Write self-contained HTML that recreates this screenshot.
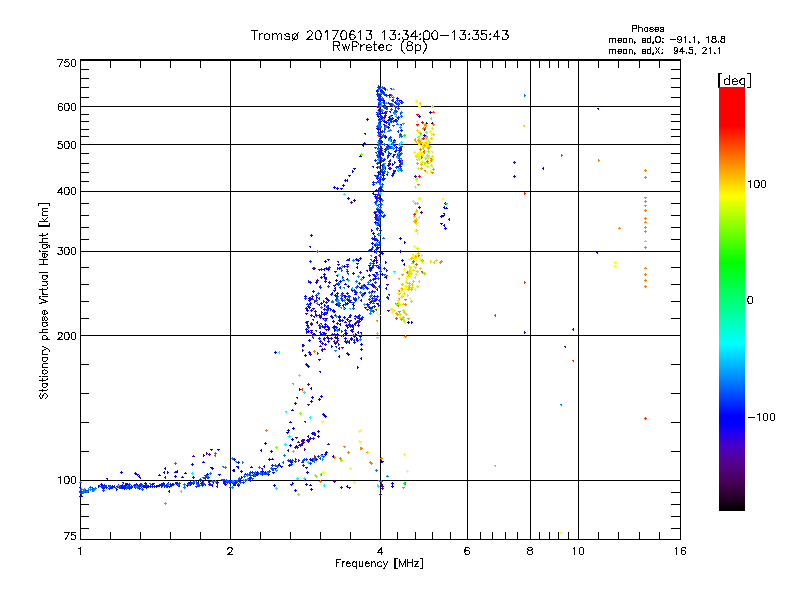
<!DOCTYPE html>
<html><head><meta charset="utf-8"><title>Tromsø 20170613 13:34:00-13:35:43 RwPretec (8p)</title>
<style>
html,body{margin:0;padding:0;background:#fff;}
body{width:800px;height:600px;position:relative;overflow:hidden;font-family:"Liberation Sans",sans-serif;}
.t{position:absolute;white-space:pre;line-height:1;color:transparent;font-family:"Liberation Sans",sans-serif;}
</style></head><body>
<svg width="800" height="600" viewBox="0 0 800 600" style="position:absolute;left:0;top:0">
<rect width="800" height="600" fill="#fff"/>
<path id="axes" fill="#000" shape-rendering="crispEdges" d="M80 59h601v1h-601zM80 60h601v1h-601zM80 539h601v1h-601zM80 59h1v481h-1zM680 59h1v481h-1zM230 59h1v481h-1zM380 59h1v481h-1zM467 59h1v481h-1zM530 59h1v481h-1zM578 59h1v481h-1zM80 480h601v1h-601zM80 335h601v1h-601zM80 251h601v1h-601zM80 191h601v1h-601zM80 144h601v1h-601zM80 106h601v1h-601zM110 60h1v8h-1zM110 532h1v8h-1zM140 60h1v8h-1zM140 532h1v8h-1zM170 60h1v8h-1zM170 532h1v8h-1zM200 60h1v8h-1zM200 532h1v8h-1zM260 60h1v8h-1zM260 532h1v8h-1zM290 60h1v8h-1zM290 532h1v8h-1zM320 60h1v8h-1zM320 532h1v8h-1zM350 60h1v8h-1zM350 532h1v8h-1zM397 60h1v8h-1zM397 532h1v8h-1zM415 60h1v8h-1zM415 532h1v8h-1zM432 60h1v8h-1zM432 532h1v8h-1zM450 60h1v8h-1zM450 532h1v8h-1zM480 60h1v8h-1zM480 532h1v8h-1zM492 60h1v8h-1zM492 532h1v8h-1zM505 60h1v8h-1zM505 532h1v8h-1zM517 60h1v8h-1zM517 532h1v8h-1zM539 60h1v8h-1zM539 532h1v8h-1zM549 60h1v8h-1zM549 532h1v8h-1zM558 60h1v8h-1zM558 532h1v8h-1zM568 60h1v8h-1zM568 532h1v8h-1zM598 60h1v8h-1zM598 532h1v8h-1zM618 60h1v8h-1zM618 532h1v8h-1zM639 60h1v8h-1zM639 532h1v8h-1zM659 60h1v8h-1zM659 532h1v8h-1zM80 528h9v1h-9zM671 528h10v1h-10zM80 516h9v1h-9zM671 516h10v1h-10zM80 504h9v1h-9zM671 504h10v1h-10zM80 492h9v1h-9zM671 492h10v1h-10zM80 451h9v1h-9zM671 451h10v1h-10zM80 422h9v1h-9zM671 422h10v1h-10zM80 393h9v1h-9zM671 393h10v1h-10zM80 364h9v1h-9zM671 364h10v1h-10zM80 318h9v1h-9zM671 318h10v1h-10zM80 301h9v1h-9zM671 301h10v1h-10zM80 284h9v1h-9zM671 284h10v1h-10zM80 267h9v1h-9zM671 267h10v1h-10zM80 239h9v1h-9zM671 239h10v1h-10zM80 227h9v1h-9zM671 227h10v1h-10zM80 215h9v1h-9zM671 215h10v1h-10zM80 203h9v1h-9zM671 203h10v1h-10zM80 181h9v1h-9zM671 181h10v1h-10zM80 172h9v1h-9zM671 172h10v1h-10zM80 163h9v1h-9zM671 163h10v1h-10zM80 153h9v1h-9zM671 153h10v1h-10zM80 136h9v1h-9zM671 136h10v1h-10zM80 129h9v1h-9zM671 129h10v1h-10zM80 121h9v1h-9zM671 121h10v1h-10zM80 114h9v1h-9zM671 114h10v1h-10zM80 97h9v1h-9zM671 97h10v1h-10zM80 87h9v1h-9zM671 87h10v1h-10zM80 78h9v1h-9zM671 78h10v1h-10zM80 69h9v1h-9zM671 69h10v1h-10z"/>
<path id="labels" fill="none" stroke="#000" stroke-width="1" stroke-linecap="square" shape-rendering="crispEdges" d="M254.5 30.5 254.5 39.5M251.5 30.5 257.5 30.5M259.5 33.5 259.5 39.5M259.5 36.5 259.5 34.5 260.5 34.5 261.5 33.5 262.5 33.5M266.5 33.5 265.5 34.5 264.5 34.5 264.5 36.5 264.5 38.5 265.5 39.5 266.5 39.5 267.5 39.5 268.5 39.5 269.5 38.5 269.5 36.5 269.5 34.5 268.5 34.5 267.5 33.5 266.5 33.5M272.5 33.5 272.5 39.5M272.5 35.5 273.5 34.5 274.5 33.5 276.5 33.5 276.5 34.5 277.5 35.5 277.5 39.5M277.5 35.5 278.5 34.5 279.5 33.5 280.5 33.5 281.5 34.5 281.5 35.5 281.5 39.5M289.5 34.5 287.5 33.5 286.5 33.5 285.5 34.5 284.5 34.5 285.5 35.5 286.5 36.5 288.5 36.5 289.5 36.5 289.5 37.5 289.5 38.5 289.5 39.5 287.5 39.5 286.5 39.5 285.5 39.5 284.5 38.5M294.5 33.5 293.5 34.5 292.5 34.5 292.5 36.5 292.5 38.5 293.5 39.5 294.5 39.5 295.5 39.5 296.5 39.5 297.5 38.5 297.5 36.5 297.5 34.5 296.5 34.5 295.5 33.5 294.5 33.5M292.5 40.5 298.5 32.5M307.5 32.5 307.5 31.5 308.5 31.5 309.5 30.5 310.5 30.5 311.5 31.5 312.5 32.5 312.5 33.5 311.5 34.5 311.5 35.5 306.5 39.5 312.5 39.5M317.5 30.5 316.5 31.5 315.5 32.5 315.5 34.5 315.5 35.5 315.5 37.5 316.5 39.5 317.5 39.5 318.5 39.5 320.5 39.5 320.5 37.5 321.5 35.5 321.5 34.5 320.5 32.5 320.5 31.5 318.5 30.5 317.5 30.5M325.5 32.5 325.5 31.5 327.5 30.5 327.5 39.5M338.5 30.5 333.5 39.5M332.5 30.5 338.5 30.5M343.5 30.5 341.5 31.5 341.5 32.5 340.5 34.5 340.5 35.5 341.5 37.5 341.5 39.5 343.5 39.5 344.5 39.5 345.5 39.5 346.5 37.5 346.5 35.5 346.5 34.5 346.5 32.5 345.5 31.5 344.5 30.5 343.5 30.5M354.5 31.5 352.5 30.5 350.5 31.5 350.5 32.5 349.5 34.5 349.5 36.5 350.5 38.5 350.5 39.5 352.5 39.5 353.5 39.5 354.5 38.5 355.5 36.5 354.5 35.5 353.5 34.5 352.5 34.5 350.5 34.5 350.5 35.5 349.5 36.5M358.5 32.5 359.5 31.5 360.5 30.5 360.5 39.5M366.5 30.5 371.5 30.5 369.5 34.5 370.5 34.5 371.5 34.5 371.5 36.5 371.5 38.5 370.5 39.5 369.5 39.5 368.5 39.5 366.5 39.5 366.5 38.5 366.5 37.5M382.5 32.5 383.5 31.5 384.5 30.5 384.5 39.5M390.5 30.5 395.5 30.5 392.5 34.5 393.5 34.5 394.5 34.5 395.5 34.5 395.5 36.5 395.5 38.5 394.5 39.5 393.5 39.5 391.5 39.5 390.5 39.5 390.5 38.5 389.5 37.5M399.5 33.5 398.5 34.5 399.5 34.5 399.5 33.5M399.5 38.5 398.5 39.5 399.5 39.5 399.5 38.5M403.5 30.5 407.5 30.5 405.5 34.5 406.5 34.5 407.5 34.5 408.5 36.5 407.5 38.5 407.5 39.5 405.5 39.5 404.5 39.5 403.5 39.5 402.5 38.5 402.5 37.5M415.5 30.5 410.5 36.5 417.5 36.5M415.5 30.5 415.5 39.5M420.5 33.5 419.5 34.5 420.5 34.5 420.5 33.5M420.5 38.5 419.5 39.5 420.5 39.5 420.5 38.5M426.5 30.5 424.5 31.5 423.5 32.5 423.5 34.5 423.5 35.5 423.5 37.5 424.5 39.5 426.5 39.5 428.5 39.5 429.5 37.5 429.5 35.5 429.5 34.5 429.5 32.5 428.5 31.5 426.5 30.5M434.5 30.5 433.5 31.5 432.5 32.5 431.5 34.5 431.5 35.5 432.5 37.5 433.5 39.5 434.5 39.5 435.5 39.5 436.5 39.5 437.5 37.5 437.5 35.5 437.5 34.5 437.5 32.5 436.5 31.5 435.5 30.5 434.5 30.5M440.5 35.5 448.5 35.5M452.5 32.5 453.5 31.5 454.5 30.5 454.5 39.5M460.5 30.5 465.5 30.5 462.5 34.5 464.5 34.5 465.5 34.5 465.5 36.5 465.5 38.5 464.5 39.5 463.5 39.5 461.5 39.5 460.5 39.5 460.5 38.5 459.5 37.5M469.5 33.5 468.5 34.5 469.5 34.5 469.5 33.5M469.5 38.5 468.5 39.5 469.5 39.5 469.5 38.5M473.5 30.5 478.5 30.5 475.5 34.5 476.5 34.5 477.5 34.5 478.5 34.5 478.5 36.5 478.5 38.5 477.5 39.5 475.5 39.5 474.5 39.5 473.5 39.5 472.5 38.5 472.5 37.5M486.5 30.5 481.5 30.5 481.5 34.5 483.5 33.5 484.5 33.5 485.5 34.5 486.5 34.5 486.5 36.5 486.5 38.5 485.5 39.5 484.5 39.5 483.5 39.5 481.5 39.5 481.5 38.5 480.5 37.5M490.5 33.5 489.5 34.5 490.5 34.5 490.5 33.5M490.5 38.5 489.5 39.5 490.5 39.5 490.5 38.5M497.5 30.5 493.5 36.5 499.5 36.5M497.5 30.5 497.5 39.5M502.5 30.5 507.5 30.5 505.5 34.5 506.5 34.5 507.5 34.5 508.5 36.5 507.5 38.5 506.5 39.5 505.5 39.5 504.5 39.5 502.5 39.5 502.5 38.5 502.5 37.5M333.5 41.5 333.5 50.5M333.5 41.5 337.5 41.5 339.5 42.5 339.5 43.5 339.5 44.5 339.5 45.5 337.5 45.5 333.5 45.5M336.5 45.5 339.5 50.5M342.5 44.5 344.5 50.5M345.5 44.5 344.5 50.5M345.5 44.5 347.5 50.5M349.5 44.5 347.5 50.5M352.5 41.5 352.5 50.5M352.5 41.5 355.5 41.5 357.5 42.5 358.5 43.5 358.5 44.5 357.5 45.5 355.5 46.5 352.5 46.5M360.5 44.5 360.5 50.5M360.5 47.5 361.5 45.5 362.5 45.5 363.5 44.5 364.5 44.5M366.5 47.5 371.5 47.5 371.5 46.5 370.5 45.5 369.5 44.5 368.5 44.5 367.5 45.5 366.5 45.5 366.5 47.5 366.5 49.5 367.5 50.5 368.5 50.5 369.5 50.5 370.5 50.5 371.5 49.5M374.5 41.5 374.5 48.5 374.5 50.5 375.5 50.5 376.5 50.5M373.5 44.5 376.5 44.5M378.5 47.5 383.5 47.5 383.5 46.5 383.5 45.5 382.5 45.5 382.5 44.5 380.5 44.5 380.5 45.5 379.5 45.5 378.5 47.5 379.5 49.5 380.5 50.5 382.5 50.5 383.5 49.5M391.5 45.5 390.5 45.5 389.5 44.5 388.5 44.5 387.5 45.5 386.5 45.5 386.5 47.5 386.5 49.5 387.5 50.5 388.5 50.5 389.5 50.5 390.5 50.5 391.5 49.5M404.5 39.5 403.5 40.5 402.5 42.5 401.5 43.5 401.5 45.5 401.5 47.5 401.5 49.5 402.5 51.5 403.5 52.5 404.5 53.5M408.5 41.5 407.5 42.5 407.5 43.5 407.5 44.5 408.5 45.5 409.5 45.5 411.5 45.5 412.5 46.5 412.5 47.5 412.5 48.5 412.5 49.5 411.5 50.5 410.5 50.5 408.5 50.5 407.5 50.5 407.5 49.5 406.5 48.5 406.5 47.5 407.5 46.5 407.5 45.5 409.5 45.5 410.5 45.5 411.5 44.5 412.5 43.5 412.5 42.5 411.5 42.5 410.5 41.5 408.5 41.5M415.5 44.5 415.5 53.5M415.5 45.5 416.5 45.5 417.5 44.5 418.5 44.5 419.5 45.5 420.5 45.5 420.5 47.5 420.5 49.5 419.5 50.5 418.5 50.5 417.5 50.5 416.5 50.5 415.5 49.5M423.5 39.5 423.5 40.5 424.5 42.5 425.5 43.5 426.5 45.5 426.5 47.5 425.5 49.5 424.5 51.5 423.5 52.5 423.5 53.5M632.5 25.5 632.5 31.5M632.5 25.5 635.5 25.5 636.5 25.5 636.5 26.5 636.5 27.5 636.5 28.5 635.5 28.5 632.5 28.5M638.5 25.5 638.5 31.5M638.5 28.5 639.5 27.5 640.5 27.5 641.5 27.5 642.5 28.5 642.5 31.5M647.5 27.5 647.5 31.5M647.5 28.5 647.5 27.5 646.5 27.5 645.5 27.5 644.5 28.5 644.5 29.5 644.5 30.5 645.5 31.5 646.5 31.5 647.5 31.5 647.5 30.5M653.5 28.5 652.5 27.5 651.5 27.5 650.5 27.5 649.5 28.5 650.5 28.5 650.5 29.5 652.5 29.5 653.5 30.5 652.5 31.5 651.5 31.5 650.5 31.5 649.5 30.5M654.5 29.5 658.5 29.5 658.5 28.5 658.5 27.5 657.5 27.5 656.5 27.5 655.5 27.5 655.5 28.5 654.5 29.5 655.5 30.5 655.5 31.5 656.5 31.5 657.5 31.5 658.5 30.5M663.5 28.5 663.5 27.5 662.5 27.5 661.5 27.5 660.5 27.5 660.5 28.5 661.5 29.5 662.5 29.5 663.5 29.5 663.5 30.5 663.5 31.5 662.5 31.5 661.5 31.5 660.5 31.5 660.5 30.5M609.5 38.5 609.5 42.5M609.5 39.5 610.5 38.5 611.5 38.5 612.5 38.5 612.5 39.5 612.5 42.5M612.5 39.5 613.5 38.5 614.5 38.5 615.5 38.5 615.5 39.5 615.5 42.5M617.5 40.5 621.5 40.5 621.5 39.5 621.5 38.5 620.5 38.5 619.5 38.5 618.5 38.5 618.5 39.5 617.5 40.5 618.5 41.5 618.5 42.5 619.5 42.5 620.5 42.5 621.5 41.5M626.5 38.5 626.5 42.5M626.5 39.5 626.5 38.5 625.5 38.5 624.5 38.5 623.5 38.5 623.5 39.5 623.5 40.5 623.5 41.5 623.5 42.5 624.5 42.5 625.5 42.5 626.5 42.5 626.5 41.5M629.5 38.5 629.5 42.5M629.5 39.5 629.5 38.5 630.5 38.5 631.5 38.5 632.5 39.5 632.5 42.5M635.5 42.5 634.5 42.5 634.5 41.5 635.5 42.5 634.5 43.5M645.5 39.5 645.5 38.5 644.5 38.5 643.5 38.5 642.5 38.5 642.5 39.5 642.5 40.5 644.5 40.5 645.5 40.5 645.5 41.5 645.5 42.5 644.5 42.5 643.5 42.5 642.5 42.5 642.5 41.5M650.5 36.5 650.5 42.5M650.5 39.5 650.5 38.5 649.5 38.5 648.5 38.5 647.5 38.5 647.5 39.5 647.5 40.5 647.5 41.5 647.5 42.5 648.5 42.5 649.5 42.5 650.5 42.5 650.5 41.5M653.5 42.5 652.5 42.5 653.5 41.5 653.5 42.5 653.5 43.5 652.5 43.5M657.5 36.5 656.5 36.5 656.5 37.5 655.5 37.5 655.5 38.5 655.5 40.5 655.5 41.5 656.5 41.5 656.5 42.5 657.5 42.5 658.5 42.5 659.5 42.5 659.5 41.5 660.5 41.5 660.5 40.5 660.5 38.5 660.5 37.5 659.5 37.5 659.5 36.5 658.5 36.5 657.5 36.5M662.5 38.5 663.5 38.5 662.5 38.5M662.5 41.5 662.5 42.5 663.5 42.5 662.5 41.5M670.5 39.5 675.5 39.5M681.5 38.5 681.5 39.5 680.5 39.5 679.5 40.5 678.5 39.5 677.5 39.5 677.5 38.5 677.5 37.5 678.5 36.5 679.5 36.5 680.5 36.5 681.5 37.5 681.5 38.5 681.5 39.5 681.5 41.5 680.5 42.5 679.5 42.5 678.5 42.5 677.5 41.5M684.5 37.5 685.5 36.5 685.5 42.5M689.5 41.5 689.5 42.5 690.5 42.5 689.5 41.5M693.5 37.5 694.5 36.5 694.5 42.5M699.5 42.5 698.5 42.5 698.5 41.5 699.5 42.5 698.5 43.5M706.5 37.5 707.5 37.5 708.5 36.5 708.5 42.5M713.5 36.5 712.5 36.5 712.5 37.5 712.5 38.5 713.5 38.5 714.5 38.5 715.5 39.5 716.5 40.5 716.5 41.5 715.5 41.5 715.5 42.5 714.5 42.5 713.5 42.5 712.5 42.5 712.5 41.5 711.5 41.5 711.5 40.5 712.5 39.5 713.5 38.5 714.5 38.5 715.5 38.5 715.5 37.5 715.5 36.5 714.5 36.5 713.5 36.5M718.5 41.5 718.5 42.5 718.5 41.5M722.5 36.5 721.5 36.5 721.5 37.5 721.5 38.5 723.5 38.5 724.5 39.5 724.5 40.5 724.5 41.5 724.5 42.5 723.5 42.5 722.5 42.5 721.5 42.5 721.5 41.5 720.5 41.5 720.5 40.5 721.5 39.5 722.5 38.5 723.5 38.5 724.5 38.5 724.5 37.5 724.5 36.5 723.5 36.5 722.5 36.5M609.5 49.5 609.5 53.5M609.5 50.5 610.5 49.5 611.5 49.5 612.5 49.5 612.5 50.5 612.5 53.5M612.5 50.5 613.5 49.5 614.5 49.5 615.5 49.5 615.5 50.5 615.5 53.5M617.5 51.5 621.5 51.5 621.5 50.5 621.5 49.5 620.5 49.5 619.5 49.5 618.5 49.5 618.5 50.5 617.5 51.5 618.5 52.5 618.5 53.5 619.5 53.5 620.5 53.5 621.5 52.5M626.5 49.5 626.5 53.5M626.5 50.5 626.5 49.5 625.5 49.5 624.5 49.5 623.5 49.5 623.5 50.5 623.5 51.5 623.5 52.5 623.5 53.5 624.5 53.5 625.5 53.5 626.5 53.5 626.5 52.5M629.5 49.5 629.5 53.5M629.5 50.5 629.5 49.5 630.5 49.5 631.5 49.5 632.5 50.5 632.5 53.5M635.5 53.5 634.5 53.5 634.5 52.5 635.5 53.5 634.5 54.5M645.5 50.5 645.5 49.5 644.5 49.5 643.5 49.5 642.5 49.5 642.5 50.5 642.5 51.5 644.5 51.5 645.5 51.5 645.5 52.5 645.5 53.5 644.5 53.5 643.5 53.5 642.5 53.5 642.5 52.5M650.5 47.5 650.5 53.5M650.5 50.5 650.5 49.5 649.5 49.5 648.5 49.5 647.5 49.5 647.5 50.5 647.5 51.5 647.5 52.5 647.5 53.5 648.5 53.5 649.5 53.5 650.5 53.5 650.5 52.5M653.5 53.5 652.5 53.5 653.5 52.5 653.5 53.5 653.5 54.5 652.5 54.5M655.5 47.5 659.5 53.5M655.5 53.5 659.5 47.5M662.5 49.5 661.5 49.5 662.5 49.5M662.5 52.5 661.5 53.5 662.5 53.5 662.5 52.5M677.5 49.5 677.5 50.5 676.5 50.5 676.5 51.5 675.5 51.5 674.5 50.5 674.5 49.5 674.5 48.5 674.5 47.5 675.5 47.5 676.5 47.5 677.5 48.5 677.5 49.5 677.5 50.5 677.5 52.5 676.5 53.5 675.5 53.5 674.5 53.5 674.5 52.5M682.5 47.5 679.5 51.5 684.5 51.5M682.5 47.5 682.5 53.5M686.5 52.5 686.5 53.5 686.5 52.5M692.5 47.5 689.5 47.5 689.5 49.5 690.5 49.5 691.5 49.5 692.5 49.5 692.5 50.5 692.5 51.5 692.5 52.5 692.5 53.5 691.5 53.5 690.5 53.5 689.5 53.5 689.5 52.5 688.5 52.5M695.5 53.5 695.5 52.5 695.5 53.5 695.5 54.5M702.5 48.5 703.5 47.5 705.5 47.5 706.5 48.5 706.5 49.5 705.5 49.5 705.5 50.5 702.5 53.5 706.5 53.5M709.5 48.5 710.5 47.5 710.5 53.5M714.5 52.5 714.5 53.5 715.5 53.5 714.5 52.5M718.5 48.5 719.5 47.5 719.5 53.5M718.5 73.5 718.5 87.5M718.5 73.5 721.5 73.5M718.5 87.5 721.5 87.5M719.5 73.5 719.5 87.5M729.5 75.5 729.5 84.5M729.5 79.5 728.5 79.5 727.5 78.5 726.5 78.5 725.5 79.5 724.5 79.5 724.5 81.5 724.5 83.5 725.5 84.5 726.5 84.5 727.5 84.5 728.5 84.5 729.5 83.5M732.5 81.5 737.5 81.5 737.5 80.5 736.5 79.5 735.5 78.5 734.5 78.5 733.5 79.5 732.5 79.5 732.5 81.5 732.5 83.5 733.5 84.5 734.5 84.5 735.5 84.5 736.5 84.5 737.5 83.5M744.5 78.5 744.5 85.5 744.5 86.5 744.5 87.5 743.5 87.5 741.5 87.5M744.5 79.5 743.5 78.5 741.5 78.5 741.5 79.5 740.5 79.5 739.5 81.5 740.5 83.5 741.5 84.5 743.5 84.5 744.5 84.5 744.5 83.5M750.5 73.5 750.5 87.5M747.5 73.5 750.5 73.5M747.5 87.5 750.5 87.5M750.5 73.5 750.5 87.5M748.5 181.5 749.5 181.5 750.5 180.5 750.5 187.5M756.5 180.5 755.5 180.5 754.5 181.5 754.5 183.5 754.5 184.5 754.5 186.5 755.5 187.5 756.5 187.5 757.5 187.5 758.5 187.5 758.5 186.5 759.5 184.5 759.5 183.5 758.5 181.5 758.5 180.5 757.5 180.5 756.5 180.5M763.5 180.5 762.5 180.5 761.5 181.5 761.5 183.5 761.5 184.5 761.5 186.5 762.5 187.5 763.5 187.5 764.5 187.5 765.5 186.5 765.5 184.5 765.5 183.5 765.5 181.5 764.5 180.5 763.5 180.5M749.5 296.5 748.5 296.5 748.5 297.5 747.5 299.5 747.5 300.5 748.5 302.5 748.5 303.5 749.5 303.5 750.5 303.5 751.5 303.5 752.5 302.5 752.5 300.5 752.5 299.5 752.5 297.5 751.5 296.5 750.5 296.5 749.5 296.5M748.5 417.5 754.5 417.5M757.5 414.5 758.5 414.5 759.5 413.5 759.5 420.5M765.5 413.5 764.5 413.5 763.5 414.5 763.5 416.5 763.5 417.5 763.5 419.5 764.5 420.5 765.5 420.5 766.5 420.5 767.5 419.5 767.5 417.5 767.5 416.5 767.5 414.5 766.5 413.5 765.5 413.5M772.5 413.5 771.5 413.5 770.5 414.5 770.5 416.5 770.5 417.5 770.5 419.5 771.5 420.5 772.5 420.5 773.5 420.5 774.5 419.5 774.5 417.5 774.5 416.5 774.5 414.5 773.5 413.5 772.5 413.5M78.5 548.5 79.5 548.5 80.5 547.5 80.5 554.5M227.5 549.5 227.5 548.5 228.5 548.5 228.5 547.5 229.5 547.5 230.5 547.5 231.5 547.5 231.5 548.5 232.5 548.5 232.5 549.5 231.5 550.5 231.5 551.5 227.5 554.5 232.5 554.5M381.5 547.5 377.5 552.5 382.5 552.5M381.5 547.5 381.5 554.5M469.5 548.5 468.5 547.5 467.5 547.5 465.5 547.5 465.5 548.5 464.5 550.5 464.5 552.5 465.5 553.5 465.5 554.5 467.5 554.5 468.5 554.5 469.5 553.5 469.5 552.5 469.5 551.5 468.5 550.5 467.5 550.5 465.5 550.5 465.5 551.5 464.5 552.5M529.5 547.5 528.5 547.5 527.5 548.5 527.5 549.5 528.5 549.5 528.5 550.5 530.5 550.5 531.5 550.5 532.5 551.5 532.5 552.5 532.5 553.5 531.5 554.5 530.5 554.5 529.5 554.5 528.5 554.5 527.5 553.5 527.5 552.5 527.5 551.5 528.5 550.5 529.5 550.5 531.5 550.5 531.5 549.5 532.5 549.5 532.5 548.5 531.5 547.5 530.5 547.5 529.5 547.5M573.5 548.5 574.5 547.5 574.5 554.5M581.5 547.5 580.5 547.5 579.5 548.5 579.5 550.5 579.5 551.5 579.5 553.5 580.5 554.5 581.5 554.5 582.5 554.5 583.5 553.5 583.5 551.5 583.5 550.5 583.5 548.5 582.5 547.5 581.5 547.5M675.5 548.5 676.5 547.5 676.5 554.5M685.5 548.5 685.5 547.5 684.5 547.5 683.5 547.5 682.5 547.5 681.5 548.5 681.5 550.5 681.5 552.5 681.5 553.5 682.5 554.5 683.5 554.5 684.5 554.5 685.5 553.5 685.5 552.5 685.5 551.5 684.5 550.5 683.5 550.5 682.5 550.5 681.5 551.5 681.5 552.5M69.5 532.5 65.5 539.5M64.5 532.5 69.5 532.5M75.5 532.5 71.5 532.5 71.5 535.5 72.5 534.5 73.5 534.5 74.5 535.5 75.5 535.5 75.5 536.5 75.5 537.5 75.5 538.5 74.5 539.5 73.5 539.5 72.5 539.5 71.5 539.5 71.5 538.5M58.5 477.5 59.5 477.5 60.5 476.5 60.5 483.5M66.5 476.5 65.5 476.5 64.5 477.5 64.5 479.5 64.5 480.5 64.5 482.5 65.5 483.5 66.5 483.5 67.5 483.5 68.5 483.5 68.5 482.5 69.5 480.5 69.5 479.5 68.5 477.5 68.5 476.5 67.5 476.5 66.5 476.5M73.5 476.5 72.5 476.5 71.5 477.5 71.5 479.5 71.5 480.5 71.5 482.5 72.5 483.5 73.5 483.5 74.5 483.5 75.5 482.5 75.5 480.5 75.5 479.5 75.5 477.5 74.5 476.5 73.5 476.5M58.5 334.5 58.5 333.5 58.5 332.5 59.5 332.5 60.5 332.5 61.5 332.5 61.5 333.5 62.5 333.5 62.5 334.5 61.5 335.5 61.5 336.5 57.5 339.5 62.5 339.5M66.5 332.5 65.5 332.5 64.5 333.5 64.5 335.5 64.5 336.5 64.5 338.5 65.5 339.5 66.5 339.5 67.5 339.5 68.5 339.5 68.5 338.5 69.5 336.5 69.5 335.5 68.5 333.5 68.5 332.5 67.5 332.5 66.5 332.5M73.5 332.5 72.5 332.5 71.5 333.5 71.5 335.5 71.5 336.5 71.5 338.5 72.5 339.5 73.5 339.5 74.5 339.5 75.5 338.5 75.5 336.5 75.5 335.5 75.5 333.5 74.5 332.5 73.5 332.5M58.5 247.5 62.5 247.5 60.5 250.5 61.5 250.5 62.5 250.5 62.5 251.5 62.5 252.5 62.5 253.5 61.5 254.5 60.5 254.5 59.5 254.5 58.5 254.5 58.5 253.5 57.5 253.5M66.5 247.5 65.5 247.5 64.5 248.5 64.5 250.5 64.5 251.5 64.5 253.5 65.5 254.5 66.5 254.5 67.5 254.5 68.5 254.5 68.5 253.5 69.5 251.5 69.5 250.5 68.5 248.5 68.5 247.5 67.5 247.5 66.5 247.5M73.5 247.5 72.5 247.5 71.5 248.5 71.5 250.5 71.5 251.5 71.5 253.5 72.5 254.5 73.5 254.5 74.5 254.5 75.5 253.5 75.5 251.5 75.5 250.5 75.5 248.5 74.5 247.5 73.5 247.5M61.5 187.5 57.5 192.5 62.5 192.5M61.5 187.5 61.5 194.5M66.5 187.5 65.5 187.5 64.5 188.5 64.5 190.5 64.5 191.5 64.5 193.5 65.5 194.5 66.5 194.5 67.5 194.5 68.5 194.5 68.5 193.5 69.5 191.5 69.5 190.5 68.5 188.5 68.5 187.5 67.5 187.5 66.5 187.5M73.5 187.5 72.5 187.5 71.5 188.5 71.5 190.5 71.5 191.5 71.5 193.5 72.5 194.5 73.5 194.5 74.5 194.5 75.5 193.5 75.5 191.5 75.5 190.5 75.5 188.5 74.5 187.5 73.5 187.5M61.5 141.5 58.5 141.5 58.5 144.5 59.5 143.5 60.5 143.5 61.5 144.5 62.5 144.5 62.5 145.5 62.5 146.5 62.5 147.5 61.5 148.5 60.5 148.5 59.5 148.5 58.5 148.5 58.5 147.5 57.5 147.5M66.5 141.5 65.5 141.5 64.5 142.5 64.5 144.5 64.5 145.5 64.5 147.5 65.5 148.5 66.5 148.5 67.5 148.5 68.5 148.5 68.5 147.5 69.5 145.5 69.5 144.5 68.5 142.5 68.5 141.5 67.5 141.5 66.5 141.5M73.5 141.5 72.5 141.5 71.5 142.5 71.5 144.5 71.5 145.5 71.5 147.5 72.5 148.5 73.5 148.5 74.5 148.5 75.5 147.5 75.5 145.5 75.5 144.5 75.5 142.5 74.5 141.5 73.5 141.5M62.5 104.5 61.5 103.5 60.5 103.5 59.5 103.5 58.5 104.5 58.5 106.5 58.5 108.5 58.5 109.5 59.5 110.5 60.5 110.5 61.5 110.5 62.5 109.5 62.5 108.5 62.5 107.5 61.5 106.5 60.5 106.5 59.5 106.5 58.5 107.5 58.5 108.5M66.5 103.5 65.5 103.5 64.5 104.5 64.5 106.5 64.5 107.5 64.5 109.5 65.5 110.5 66.5 110.5 67.5 110.5 68.5 110.5 68.5 109.5 69.5 107.5 69.5 106.5 68.5 104.5 68.5 103.5 67.5 103.5 66.5 103.5M73.5 103.5 72.5 103.5 71.5 104.5 71.5 106.5 71.5 107.5 71.5 109.5 72.5 110.5 73.5 110.5 74.5 110.5 75.5 109.5 75.5 107.5 75.5 106.5 75.5 104.5 74.5 103.5 73.5 103.5M62.5 59.5 59.5 66.5M57.5 59.5 62.5 59.5M68.5 59.5 65.5 59.5 64.5 62.5 65.5 62.5 66.5 61.5 67.5 61.5 68.5 62.5 69.5 63.5 69.5 64.5 68.5 65.5 68.5 66.5 67.5 66.5 66.5 66.5 65.5 66.5 64.5 65.5M73.5 59.5 72.5 59.5 71.5 60.5 71.5 62.5 71.5 63.5 71.5 65.5 72.5 66.5 73.5 66.5 74.5 66.5 75.5 65.5 75.5 63.5 75.5 62.5 75.5 60.5 74.5 59.5 73.5 59.5M336.5 559.5 336.5 566.5M336.5 559.5 340.5 559.5M336.5 562.5 338.5 562.5M342.5 561.5 342.5 566.5M342.5 563.5 342.5 562.5 343.5 562.5 343.5 561.5 344.5 561.5M346.5 563.5 350.5 563.5 349.5 562.5 348.5 561.5 347.5 561.5 347.5 562.5 346.5 562.5 346.5 563.5 346.5 564.5 346.5 565.5 347.5 566.5 348.5 566.5 349.5 566.5 350.5 565.5M356.5 561.5 356.5 568.5M356.5 562.5 355.5 562.5 354.5 561.5 353.5 561.5 353.5 562.5 352.5 562.5 352.5 563.5 352.5 564.5 352.5 565.5 353.5 566.5 354.5 566.5 355.5 566.5 356.5 565.5M359.5 561.5 359.5 565.5 359.5 566.5 360.5 566.5 361.5 566.5 362.5 565.5M362.5 561.5 362.5 566.5M365.5 563.5 369.5 563.5 368.5 562.5 367.5 561.5 366.5 561.5 366.5 562.5 365.5 562.5 365.5 563.5 365.5 564.5 365.5 565.5 366.5 566.5 367.5 566.5 368.5 566.5 369.5 565.5M371.5 561.5 371.5 566.5M371.5 563.5 372.5 562.5 373.5 561.5 374.5 561.5 374.5 562.5 375.5 563.5 375.5 566.5M381.5 562.5 380.5 561.5 379.5 561.5 378.5 562.5 377.5 562.5 377.5 563.5 377.5 564.5 377.5 565.5 378.5 566.5 379.5 566.5 380.5 566.5 381.5 566.5 381.5 565.5M383.5 561.5 385.5 566.5M387.5 561.5 385.5 566.5 384.5 567.5 384.5 568.5 383.5 568.5M394.5 558.5 394.5 568.5M394.5 558.5 397.5 558.5M394.5 568.5 397.5 568.5M395.5 558.5 395.5 568.5M399.5 559.5 399.5 566.5M399.5 559.5 402.5 566.5M405.5 559.5 402.5 566.5M405.5 559.5 405.5 566.5M407.5 559.5 407.5 566.5M412.5 559.5 412.5 566.5M407.5 562.5 412.5 562.5M418.5 561.5 414.5 566.5M414.5 561.5 418.5 561.5M414.5 566.5 418.5 566.5M422.5 558.5 422.5 568.5M420.5 558.5 422.5 558.5M420.5 568.5 422.5 568.5M422.5 558.5 422.5 568.5M40.5 393.5 40.5 394.5 39.5 395.5 39.5 396.5 40.5 397.5 40.5 398.5 41.5 398.5 42.5 397.5 42.5 396.5 43.5 394.5 44.5 393.5 45.5 393.5 46.5 394.5 47.5 395.5 47.5 396.5 46.5 397.5 45.5 398.5M39.5 390.5 45.5 390.5 46.5 390.5 47.5 389.5M42.5 391.5 42.5 389.5M42.5 383.5 47.5 383.5M43.5 383.5 42.5 384.5 42.5 385.5 42.5 386.5 43.5 387.5 44.5 387.5 45.5 387.5 46.5 386.5 47.5 385.5 47.5 384.5 46.5 384.5 45.5 383.5M39.5 380.5 45.5 380.5 46.5 379.5 47.5 379.5 47.5 378.5M42.5 381.5 42.5 378.5M39.5 376.5 40.5 376.5 39.5 376.5M42.5 376.5 47.5 376.5M42.5 372.5 42.5 373.5 43.5 373.5 44.5 374.5 45.5 373.5 46.5 373.5 47.5 372.5 47.5 371.5 46.5 370.5 45.5 370.5 44.5 369.5 43.5 370.5 42.5 370.5 42.5 371.5 42.5 372.5M42.5 367.5 47.5 367.5M43.5 367.5 42.5 366.5 42.5 365.5 42.5 364.5 43.5 363.5 47.5 363.5M42.5 357.5 47.5 357.5M43.5 357.5 42.5 357.5 42.5 358.5 42.5 359.5 42.5 360.5 43.5 361.5 44.5 361.5 45.5 361.5 46.5 360.5 47.5 359.5 47.5 358.5 46.5 357.5 45.5 357.5M42.5 354.5 47.5 354.5M44.5 354.5 43.5 354.5 42.5 353.5 42.5 352.5 42.5 351.5M42.5 350.5 47.5 348.5M42.5 346.5 47.5 348.5 48.5 349.5 49.5 350.5 49.5 351.5M42.5 339.5 49.5 339.5M43.5 339.5 42.5 338.5 42.5 337.5 42.5 336.5 43.5 335.5 44.5 335.5 45.5 335.5 46.5 336.5 47.5 337.5 47.5 338.5 46.5 338.5 45.5 339.5M39.5 332.5 47.5 332.5M43.5 332.5 42.5 331.5 42.5 330.5 42.5 329.5 43.5 329.5 47.5 329.5M42.5 322.5 47.5 322.5M43.5 322.5 42.5 323.5 42.5 324.5 42.5 325.5 43.5 326.5 44.5 326.5 45.5 326.5 46.5 325.5 47.5 325.5 47.5 324.5 46.5 323.5 45.5 322.5M43.5 316.5 42.5 317.5 42.5 318.5 42.5 319.5 42.5 320.5 43.5 320.5 44.5 319.5 44.5 317.5 45.5 316.5 46.5 317.5 47.5 318.5 47.5 319.5 46.5 320.5 45.5 320.5M44.5 314.5 44.5 310.5 43.5 310.5 42.5 311.5 42.5 312.5 42.5 313.5 43.5 314.5 44.5 314.5 45.5 314.5 46.5 313.5 47.5 313.5 47.5 312.5 46.5 311.5 45.5 310.5M39.5 303.5 47.5 301.5M39.5 298.5 47.5 301.5M39.5 297.5 40.5 296.5 39.5 296.5 39.5 297.5M42.5 296.5 47.5 296.5M42.5 294.5 47.5 294.5M44.5 294.5 43.5 293.5 42.5 293.5 42.5 292.5 42.5 291.5M39.5 289.5 45.5 289.5 46.5 289.5 47.5 288.5 47.5 287.5M42.5 290.5 42.5 288.5M42.5 285.5 45.5 285.5 46.5 285.5 47.5 284.5 47.5 283.5 46.5 282.5 45.5 281.5M42.5 281.5 47.5 281.5M42.5 275.5 47.5 275.5M43.5 275.5 42.5 276.5 42.5 277.5 42.5 278.5 43.5 279.5 44.5 279.5 45.5 279.5 46.5 278.5 47.5 277.5 47.5 276.5 46.5 276.5 45.5 275.5M39.5 272.5 47.5 272.5M39.5 264.5 47.5 264.5M39.5 259.5 47.5 259.5M43.5 264.5 43.5 259.5M44.5 257.5 44.5 253.5 43.5 253.5 42.5 253.5 42.5 254.5 42.5 255.5 42.5 256.5 43.5 257.5 44.5 257.5 45.5 257.5 46.5 256.5 47.5 255.5 47.5 254.5 46.5 254.5 45.5 253.5M39.5 251.5 40.5 251.5 39.5 250.5 39.5 251.5M42.5 251.5 47.5 251.5M42.5 244.5 47.5 244.5 48.5 245.5 49.5 245.5 49.5 246.5 49.5 247.5M43.5 244.5 42.5 245.5 42.5 246.5 42.5 247.5 43.5 248.5 44.5 248.5 45.5 248.5 46.5 247.5 47.5 247.5 47.5 246.5 46.5 245.5 45.5 244.5M39.5 242.5 47.5 242.5M43.5 242.5 42.5 241.5 42.5 240.5 42.5 239.5 42.5 238.5 43.5 238.5 47.5 238.5M39.5 235.5 45.5 235.5 46.5 234.5 47.5 234.5 47.5 233.5M42.5 236.5 42.5 233.5M38.5 226.5 49.5 226.5M38.5 226.5 38.5 223.5M49.5 226.5 49.5 223.5M38.5 225.5 49.5 225.5M39.5 221.5 47.5 221.5M42.5 218.5 45.5 221.5M44.5 220.5 47.5 217.5M42.5 215.5 47.5 215.5M43.5 215.5 42.5 214.5 42.5 212.5 43.5 211.5 47.5 211.5M43.5 211.5 42.5 210.5 42.5 209.5 42.5 208.5 43.5 208.5 47.5 208.5M38.5 203.5 49.5 203.5M38.5 205.5 38.5 203.5M49.5 205.5 49.5 203.5M38.5 203.5 49.5 203.5"/>
<g id="colorbar" shape-rendering="crispEdges"><rect x="719" y="87" width="26" height="1" fill="#ff0000"/><rect x="719" y="88" width="26" height="1" fill="#ff0000"/><rect x="719" y="89" width="26" height="1" fill="#ff0000"/><rect x="719" y="90" width="26" height="1" fill="#ff0000"/><rect x="719" y="91" width="26" height="1" fill="#ff0000"/><rect x="719" y="92" width="26" height="1" fill="#ff0000"/><rect x="719" y="93" width="26" height="1" fill="#ff0000"/><rect x="719" y="94" width="26" height="1" fill="#ff0000"/><rect x="719" y="95" width="26" height="1" fill="#ff0000"/><rect x="719" y="96" width="26" height="1" fill="#ff0000"/><rect x="719" y="97" width="26" height="1" fill="#ff0000"/><rect x="719" y="98" width="26" height="1" fill="#ff0000"/><rect x="719" y="99" width="26" height="1" fill="#ff0000"/><rect x="719" y="100" width="26" height="1" fill="#ff0000"/><rect x="719" y="101" width="26" height="1" fill="#ff0000"/><rect x="719" y="102" width="26" height="1" fill="#ff0000"/><rect x="719" y="103" width="26" height="1" fill="#ff0000"/><rect x="719" y="104" width="26" height="1" fill="#ff0000"/><rect x="719" y="105" width="26" height="1" fill="#ff0000"/><rect x="719" y="106" width="26" height="1" fill="#ff0000"/><rect x="719" y="107" width="26" height="1" fill="#ff0000"/><rect x="719" y="108" width="26" height="1" fill="#ff0000"/><rect x="719" y="109" width="26" height="1" fill="#ff0000"/><rect x="719" y="110" width="26" height="1" fill="#ff0000"/><rect x="719" y="111" width="26" height="1" fill="#ff0000"/><rect x="719" y="112" width="26" height="1" fill="#ff0000"/><rect x="719" y="113" width="26" height="1" fill="#ff0000"/><rect x="719" y="114" width="26" height="1" fill="#ff0000"/><rect x="719" y="115" width="26" height="1" fill="#ff0000"/><rect x="719" y="116" width="26" height="1" fill="#ff0000"/><rect x="719" y="117" width="26" height="1" fill="#ff0000"/><rect x="719" y="118" width="26" height="1" fill="#ff0000"/><rect x="719" y="119" width="26" height="1" fill="#ff0000"/><rect x="719" y="120" width="26" height="1" fill="#ff0000"/><rect x="719" y="121" width="26" height="1" fill="#ff0000"/><rect x="719" y="122" width="26" height="1" fill="#ff0000"/><rect x="719" y="123" width="26" height="1" fill="#ff0000"/><rect x="719" y="124" width="26" height="1" fill="#ff0000"/><rect x="719" y="125" width="26" height="1" fill="#ff0000"/><rect x="719" y="126" width="26" height="1" fill="#ff0300"/><rect x="719" y="127" width="26" height="1" fill="#ff0600"/><rect x="719" y="128" width="26" height="1" fill="#ff0a00"/><rect x="719" y="129" width="26" height="1" fill="#ff0e00"/><rect x="719" y="130" width="26" height="1" fill="#ff1100"/><rect x="719" y="131" width="26" height="1" fill="#ff1500"/><rect x="719" y="132" width="26" height="1" fill="#ff1900"/><rect x="719" y="133" width="26" height="1" fill="#ff1c00"/><rect x="719" y="134" width="26" height="1" fill="#ff2000"/><rect x="719" y="135" width="26" height="1" fill="#ff2300"/><rect x="719" y="136" width="26" height="1" fill="#ff2700"/><rect x="719" y="137" width="26" height="1" fill="#ff2b00"/><rect x="719" y="138" width="26" height="1" fill="#ff2e00"/><rect x="719" y="139" width="26" height="1" fill="#ff3200"/><rect x="719" y="140" width="26" height="1" fill="#ff3600"/><rect x="719" y="141" width="26" height="1" fill="#ff3900"/><rect x="719" y="142" width="26" height="1" fill="#ff3d00"/><rect x="719" y="143" width="26" height="1" fill="#ff4100"/><rect x="719" y="144" width="26" height="1" fill="#ff4400"/><rect x="719" y="145" width="26" height="1" fill="#ff4800"/><rect x="719" y="146" width="26" height="1" fill="#ff4c00"/><rect x="719" y="147" width="26" height="1" fill="#ff4f00"/><rect x="719" y="148" width="26" height="1" fill="#ff5300"/><rect x="719" y="149" width="26" height="1" fill="#ff5700"/><rect x="719" y="150" width="26" height="1" fill="#ff5a00"/><rect x="719" y="151" width="26" height="1" fill="#ff5e00"/><rect x="719" y="152" width="26" height="1" fill="#ff6200"/><rect x="719" y="153" width="26" height="1" fill="#ff6500"/><rect x="719" y="154" width="26" height="1" fill="#ff6900"/><rect x="719" y="155" width="26" height="1" fill="#ff6d00"/><rect x="719" y="156" width="26" height="1" fill="#ff7000"/><rect x="719" y="157" width="26" height="1" fill="#ff7400"/><rect x="719" y="158" width="26" height="1" fill="#ff7800"/><rect x="719" y="159" width="26" height="1" fill="#ff7b00"/><rect x="719" y="160" width="26" height="1" fill="#ff7f00"/><rect x="719" y="161" width="26" height="1" fill="#ff8300"/><rect x="719" y="162" width="26" height="1" fill="#ff8600"/><rect x="719" y="163" width="26" height="1" fill="#ff8a00"/><rect x="719" y="164" width="26" height="1" fill="#ff8e00"/><rect x="719" y="165" width="26" height="1" fill="#ff9100"/><rect x="719" y="166" width="26" height="1" fill="#ff9500"/><rect x="719" y="167" width="26" height="1" fill="#ff9800"/><rect x="719" y="168" width="26" height="1" fill="#ff9c00"/><rect x="719" y="169" width="26" height="1" fill="#ffa000"/><rect x="719" y="170" width="26" height="1" fill="#ffa300"/><rect x="719" y="171" width="26" height="1" fill="#ffa700"/><rect x="719" y="172" width="26" height="1" fill="#ffab00"/><rect x="719" y="173" width="26" height="1" fill="#ffae00"/><rect x="719" y="174" width="26" height="1" fill="#ffb200"/><rect x="719" y="175" width="26" height="1" fill="#ffb500"/><rect x="719" y="176" width="26" height="1" fill="#ffb900"/><rect x="719" y="177" width="26" height="1" fill="#ffbd00"/><rect x="719" y="178" width="26" height="1" fill="#ffc000"/><rect x="719" y="179" width="26" height="1" fill="#ffc400"/><rect x="719" y="180" width="26" height="1" fill="#ffc800"/><rect x="719" y="181" width="26" height="1" fill="#ffcb00"/><rect x="719" y="182" width="26" height="1" fill="#ffcf00"/><rect x="719" y="183" width="26" height="1" fill="#ffd300"/><rect x="719" y="184" width="26" height="1" fill="#ffd600"/><rect x="719" y="185" width="26" height="1" fill="#ffda00"/><rect x="719" y="186" width="26" height="1" fill="#ffdd00"/><rect x="719" y="187" width="26" height="1" fill="#ffe100"/><rect x="719" y="188" width="26" height="1" fill="#ffe500"/><rect x="719" y="189" width="26" height="1" fill="#ffe800"/><rect x="719" y="190" width="26" height="1" fill="#ffec00"/><rect x="719" y="191" width="26" height="1" fill="#fff000"/><rect x="719" y="192" width="26" height="1" fill="#fff300"/><rect x="719" y="193" width="26" height="1" fill="#fff700"/><rect x="719" y="194" width="26" height="1" fill="#fffa00"/><rect x="719" y="195" width="26" height="1" fill="#fffe00"/><rect x="719" y="196" width="26" height="1" fill="#fcff00"/><rect x="719" y="197" width="26" height="1" fill="#f8ff00"/><rect x="719" y="198" width="26" height="1" fill="#f5ff00"/><rect x="719" y="199" width="26" height="1" fill="#f1ff00"/><rect x="719" y="200" width="26" height="1" fill="#edff00"/><rect x="719" y="201" width="26" height="1" fill="#e9ff00"/><rect x="719" y="202" width="26" height="1" fill="#e5ff00"/><rect x="719" y="203" width="26" height="1" fill="#e1ff00"/><rect x="719" y="204" width="26" height="1" fill="#deff00"/><rect x="719" y="205" width="26" height="1" fill="#daff00"/><rect x="719" y="206" width="26" height="1" fill="#d6ff00"/><rect x="719" y="207" width="26" height="1" fill="#d2ff00"/><rect x="719" y="208" width="26" height="1" fill="#ceff00"/><rect x="719" y="209" width="26" height="1" fill="#cbff00"/><rect x="719" y="210" width="26" height="1" fill="#c7ff00"/><rect x="719" y="211" width="26" height="1" fill="#c3ff00"/><rect x="719" y="212" width="26" height="1" fill="#bfff00"/><rect x="719" y="213" width="26" height="1" fill="#bbff00"/><rect x="719" y="214" width="26" height="1" fill="#b7ff00"/><rect x="719" y="215" width="26" height="1" fill="#b4ff00"/><rect x="719" y="216" width="26" height="1" fill="#b0ff00"/><rect x="719" y="217" width="26" height="1" fill="#acff00"/><rect x="719" y="218" width="26" height="1" fill="#a8ff00"/><rect x="719" y="219" width="26" height="1" fill="#a4ff00"/><rect x="719" y="220" width="26" height="1" fill="#a1ff00"/><rect x="719" y="221" width="26" height="1" fill="#9dff00"/><rect x="719" y="222" width="26" height="1" fill="#99ff00"/><rect x="719" y="223" width="26" height="1" fill="#95ff00"/><rect x="719" y="224" width="26" height="1" fill="#91ff00"/><rect x="719" y="225" width="26" height="1" fill="#8eff00"/><rect x="719" y="226" width="26" height="1" fill="#8aff00"/><rect x="719" y="227" width="26" height="1" fill="#86ff00"/><rect x="719" y="228" width="26" height="1" fill="#82ff00"/><rect x="719" y="229" width="26" height="1" fill="#7eff00"/><rect x="719" y="230" width="26" height="1" fill="#7aff00"/><rect x="719" y="231" width="26" height="1" fill="#77ff00"/><rect x="719" y="232" width="26" height="1" fill="#73ff00"/><rect x="719" y="233" width="26" height="1" fill="#6fff00"/><rect x="719" y="234" width="26" height="1" fill="#6bff00"/><rect x="719" y="235" width="26" height="1" fill="#67ff00"/><rect x="719" y="236" width="26" height="1" fill="#63ff00"/><rect x="719" y="237" width="26" height="1" fill="#60ff00"/><rect x="719" y="238" width="26" height="1" fill="#5cff00"/><rect x="719" y="239" width="26" height="1" fill="#58ff00"/><rect x="719" y="240" width="26" height="1" fill="#54ff00"/><rect x="719" y="241" width="26" height="1" fill="#50ff00"/><rect x="719" y="242" width="26" height="1" fill="#4cff00"/><rect x="719" y="243" width="26" height="1" fill="#48ff00"/><rect x="719" y="244" width="26" height="1" fill="#45ff00"/><rect x="719" y="245" width="26" height="1" fill="#41ff00"/><rect x="719" y="246" width="26" height="1" fill="#3dff00"/><rect x="719" y="247" width="26" height="1" fill="#39ff00"/><rect x="719" y="248" width="26" height="1" fill="#35ff00"/><rect x="719" y="249" width="26" height="1" fill="#31ff00"/><rect x="719" y="250" width="26" height="1" fill="#2eff00"/><rect x="719" y="251" width="26" height="1" fill="#2aff00"/><rect x="719" y="252" width="26" height="1" fill="#26ff00"/><rect x="719" y="253" width="26" height="1" fill="#22ff00"/><rect x="719" y="254" width="26" height="1" fill="#1eff00"/><rect x="719" y="255" width="26" height="1" fill="#1aff00"/><rect x="719" y="256" width="26" height="1" fill="#17ff00"/><rect x="719" y="257" width="26" height="1" fill="#13ff00"/><rect x="719" y="258" width="26" height="1" fill="#0fff00"/><rect x="719" y="259" width="26" height="1" fill="#0bff00"/><rect x="719" y="260" width="26" height="1" fill="#07ff00"/><rect x="719" y="261" width="26" height="1" fill="#03ff00"/><rect x="719" y="262" width="26" height="1" fill="#00ff00"/><rect x="719" y="263" width="26" height="1" fill="#00ff03"/><rect x="719" y="264" width="26" height="1" fill="#00ff07"/><rect x="719" y="265" width="26" height="1" fill="#00ff0a"/><rect x="719" y="266" width="26" height="1" fill="#00ff0d"/><rect x="719" y="267" width="26" height="1" fill="#00ff10"/><rect x="719" y="268" width="26" height="1" fill="#00ff13"/><rect x="719" y="269" width="26" height="1" fill="#00ff16"/><rect x="719" y="270" width="26" height="1" fill="#00ff19"/><rect x="719" y="271" width="26" height="1" fill="#00ff1c"/><rect x="719" y="272" width="26" height="1" fill="#00ff1f"/><rect x="719" y="273" width="26" height="1" fill="#00ff22"/><rect x="719" y="274" width="26" height="1" fill="#00ff25"/><rect x="719" y="275" width="26" height="1" fill="#00ff28"/><rect x="719" y="276" width="26" height="1" fill="#00ff2b"/><rect x="719" y="277" width="26" height="1" fill="#00ff2f"/><rect x="719" y="278" width="26" height="1" fill="#00ff32"/><rect x="719" y="279" width="26" height="1" fill="#00ff35"/><rect x="719" y="280" width="26" height="1" fill="#00ff38"/><rect x="719" y="281" width="26" height="1" fill="#00ff3b"/><rect x="719" y="282" width="26" height="1" fill="#00ff3e"/><rect x="719" y="283" width="26" height="1" fill="#00ff41"/><rect x="719" y="284" width="26" height="1" fill="#00ff44"/><rect x="719" y="285" width="26" height="1" fill="#00ff47"/><rect x="719" y="286" width="26" height="1" fill="#00ff4a"/><rect x="719" y="287" width="26" height="1" fill="#00ff4d"/><rect x="719" y="288" width="26" height="1" fill="#00ff50"/><rect x="719" y="289" width="26" height="1" fill="#00ff53"/><rect x="719" y="290" width="26" height="1" fill="#00ff57"/><rect x="719" y="291" width="26" height="1" fill="#00ff5a"/><rect x="719" y="292" width="26" height="1" fill="#00ff5d"/><rect x="719" y="293" width="26" height="1" fill="#00ff60"/><rect x="719" y="294" width="26" height="1" fill="#00ff63"/><rect x="719" y="295" width="26" height="1" fill="#00ff66"/><rect x="719" y="296" width="26" height="1" fill="#00ff69"/><rect x="719" y="297" width="26" height="1" fill="#00ff6c"/><rect x="719" y="298" width="26" height="1" fill="#00ff6f"/><rect x="719" y="299" width="26" height="1" fill="#00ff72"/><rect x="719" y="300" width="26" height="1" fill="#00ff75"/><rect x="719" y="301" width="26" height="1" fill="#00ff78"/><rect x="719" y="302" width="26" height="1" fill="#00ff7b"/><rect x="719" y="303" width="26" height="1" fill="#00ff7e"/><rect x="719" y="304" width="26" height="1" fill="#00ff82"/><rect x="719" y="305" width="26" height="1" fill="#00ff85"/><rect x="719" y="306" width="26" height="1" fill="#00ff88"/><rect x="719" y="307" width="26" height="1" fill="#00ff8b"/><rect x="719" y="308" width="26" height="1" fill="#00ff8e"/><rect x="719" y="309" width="26" height="1" fill="#00ff91"/><rect x="719" y="310" width="26" height="1" fill="#00ff95"/><rect x="719" y="311" width="26" height="1" fill="#00ff98"/><rect x="719" y="312" width="26" height="1" fill="#00ff9b"/><rect x="719" y="313" width="26" height="1" fill="#00ff9e"/><rect x="719" y="314" width="26" height="1" fill="#00ffa1"/><rect x="719" y="315" width="26" height="1" fill="#00ffa5"/><rect x="719" y="316" width="26" height="1" fill="#00ffa8"/><rect x="719" y="317" width="26" height="1" fill="#00ffab"/><rect x="719" y="318" width="26" height="1" fill="#00ffae"/><rect x="719" y="319" width="26" height="1" fill="#00ffb1"/><rect x="719" y="320" width="26" height="1" fill="#00ffb4"/><rect x="719" y="321" width="26" height="1" fill="#00ffb8"/><rect x="719" y="322" width="26" height="1" fill="#00ffbb"/><rect x="719" y="323" width="26" height="1" fill="#00ffbe"/><rect x="719" y="324" width="26" height="1" fill="#00ffc1"/><rect x="719" y="325" width="26" height="1" fill="#00ffc4"/><rect x="719" y="326" width="26" height="1" fill="#00ffc8"/><rect x="719" y="327" width="26" height="1" fill="#00ffcb"/><rect x="719" y="328" width="26" height="1" fill="#00ffce"/><rect x="719" y="329" width="26" height="1" fill="#00ffd1"/><rect x="719" y="330" width="26" height="1" fill="#00ffd4"/><rect x="719" y="331" width="26" height="1" fill="#00ffd7"/><rect x="719" y="332" width="26" height="1" fill="#00ffdb"/><rect x="719" y="333" width="26" height="1" fill="#00ffde"/><rect x="719" y="334" width="26" height="1" fill="#00ffe1"/><rect x="719" y="335" width="26" height="1" fill="#00ffe4"/><rect x="719" y="336" width="26" height="1" fill="#00ffe7"/><rect x="719" y="337" width="26" height="1" fill="#00ffea"/><rect x="719" y="338" width="26" height="1" fill="#00ffee"/><rect x="719" y="339" width="26" height="1" fill="#00fff1"/><rect x="719" y="340" width="26" height="1" fill="#00fff4"/><rect x="719" y="341" width="26" height="1" fill="#00fff7"/><rect x="719" y="342" width="26" height="1" fill="#00fffa"/><rect x="719" y="343" width="26" height="1" fill="#00fffe"/><rect x="719" y="344" width="26" height="1" fill="#00fdff"/><rect x="719" y="345" width="26" height="1" fill="#00faff"/><rect x="719" y="346" width="26" height="1" fill="#00f6ff"/><rect x="719" y="347" width="26" height="1" fill="#00f3ff"/><rect x="719" y="348" width="26" height="1" fill="#00efff"/><rect x="719" y="349" width="26" height="1" fill="#00ecff"/><rect x="719" y="350" width="26" height="1" fill="#00e8ff"/><rect x="719" y="351" width="26" height="1" fill="#00e5ff"/><rect x="719" y="352" width="26" height="1" fill="#00e1ff"/><rect x="719" y="353" width="26" height="1" fill="#00deff"/><rect x="719" y="354" width="26" height="1" fill="#00daff"/><rect x="719" y="355" width="26" height="1" fill="#00d7ff"/><rect x="719" y="356" width="26" height="1" fill="#00d4ff"/><rect x="719" y="357" width="26" height="1" fill="#00d0ff"/><rect x="719" y="358" width="26" height="1" fill="#00cdff"/><rect x="719" y="359" width="26" height="1" fill="#00c9ff"/><rect x="719" y="360" width="26" height="1" fill="#00c6ff"/><rect x="719" y="361" width="26" height="1" fill="#00c2ff"/><rect x="719" y="362" width="26" height="1" fill="#00bfff"/><rect x="719" y="363" width="26" height="1" fill="#00bbff"/><rect x="719" y="364" width="26" height="1" fill="#00b8ff"/><rect x="719" y="365" width="26" height="1" fill="#00b4ff"/><rect x="719" y="366" width="26" height="1" fill="#00b1ff"/><rect x="719" y="367" width="26" height="1" fill="#00adff"/><rect x="719" y="368" width="26" height="1" fill="#00aaff"/><rect x="719" y="369" width="26" height="1" fill="#00a6ff"/><rect x="719" y="370" width="26" height="1" fill="#00a3ff"/><rect x="719" y="371" width="26" height="1" fill="#00a0ff"/><rect x="719" y="372" width="26" height="1" fill="#009cff"/><rect x="719" y="373" width="26" height="1" fill="#0099ff"/><rect x="719" y="374" width="26" height="1" fill="#0095ff"/><rect x="719" y="375" width="26" height="1" fill="#0092ff"/><rect x="719" y="376" width="26" height="1" fill="#008eff"/><rect x="719" y="377" width="26" height="1" fill="#008bff"/><rect x="719" y="378" width="26" height="1" fill="#0087ff"/><rect x="719" y="379" width="26" height="1" fill="#0084ff"/><rect x="719" y="380" width="26" height="1" fill="#0080ff"/><rect x="719" y="381" width="26" height="1" fill="#007dff"/><rect x="719" y="382" width="26" height="1" fill="#0079ff"/><rect x="719" y="383" width="26" height="1" fill="#0075ff"/><rect x="719" y="384" width="26" height="1" fill="#0072ff"/><rect x="719" y="385" width="26" height="1" fill="#006eff"/><rect x="719" y="386" width="26" height="1" fill="#006aff"/><rect x="719" y="387" width="26" height="1" fill="#0067ff"/><rect x="719" y="388" width="26" height="1" fill="#0063ff"/><rect x="719" y="389" width="26" height="1" fill="#005fff"/><rect x="719" y="390" width="26" height="1" fill="#005cff"/><rect x="719" y="391" width="26" height="1" fill="#0058ff"/><rect x="719" y="392" width="26" height="1" fill="#0054ff"/><rect x="719" y="393" width="26" height="1" fill="#0051ff"/><rect x="719" y="394" width="26" height="1" fill="#004dff"/><rect x="719" y="395" width="26" height="1" fill="#0049ff"/><rect x="719" y="396" width="26" height="1" fill="#0046ff"/><rect x="719" y="397" width="26" height="1" fill="#0042ff"/><rect x="719" y="398" width="26" height="1" fill="#003eff"/><rect x="719" y="399" width="26" height="1" fill="#003bff"/><rect x="719" y="400" width="26" height="1" fill="#0037ff"/><rect x="719" y="401" width="26" height="1" fill="#0034ff"/><rect x="719" y="402" width="26" height="1" fill="#0030ff"/><rect x="719" y="403" width="26" height="1" fill="#002cff"/><rect x="719" y="404" width="26" height="1" fill="#0029ff"/><rect x="719" y="405" width="26" height="1" fill="#0025ff"/><rect x="719" y="406" width="26" height="1" fill="#0021ff"/><rect x="719" y="407" width="26" height="1" fill="#001eff"/><rect x="719" y="408" width="26" height="1" fill="#001aff"/><rect x="719" y="409" width="26" height="1" fill="#0016ff"/><rect x="719" y="410" width="26" height="1" fill="#0013ff"/><rect x="719" y="411" width="26" height="1" fill="#000fff"/><rect x="719" y="412" width="26" height="1" fill="#000bff"/><rect x="719" y="413" width="26" height="1" fill="#0008ff"/><rect x="719" y="414" width="26" height="1" fill="#0004ff"/><rect x="719" y="415" width="26" height="1" fill="#0000ff"/><rect x="719" y="416" width="26" height="1" fill="#0000ff"/><rect x="719" y="417" width="26" height="1" fill="#0000ff"/><rect x="719" y="418" width="26" height="1" fill="#0000ff"/><rect x="719" y="419" width="26" height="1" fill="#0000ff"/><rect x="719" y="420" width="26" height="1" fill="#0000ff"/><rect x="719" y="421" width="26" height="1" fill="#0000ff"/><rect x="719" y="422" width="26" height="1" fill="#0000ff"/><rect x="719" y="423" width="26" height="1" fill="#0000ff"/><rect x="719" y="424" width="26" height="1" fill="#0200fe"/><rect x="719" y="425" width="26" height="1" fill="#0500fc"/><rect x="719" y="426" width="26" height="1" fill="#0900fb"/><rect x="719" y="427" width="26" height="1" fill="#0c00f9"/><rect x="719" y="428" width="26" height="1" fill="#1000f7"/><rect x="719" y="429" width="26" height="1" fill="#1300f5"/><rect x="719" y="430" width="26" height="1" fill="#1700f4"/><rect x="719" y="431" width="26" height="1" fill="#1a00f2"/><rect x="719" y="432" width="26" height="1" fill="#1e00f0"/><rect x="719" y="433" width="26" height="1" fill="#2100ef"/><rect x="719" y="434" width="26" height="1" fill="#2400ed"/><rect x="719" y="435" width="26" height="1" fill="#2800eb"/><rect x="719" y="436" width="26" height="1" fill="#2b00e8"/><rect x="719" y="437" width="26" height="1" fill="#2e00e4"/><rect x="719" y="438" width="26" height="1" fill="#3100e1"/><rect x="719" y="439" width="26" height="1" fill="#3400dd"/><rect x="719" y="440" width="26" height="1" fill="#3700da"/><rect x="719" y="441" width="26" height="1" fill="#3a00d6"/><rect x="719" y="442" width="26" height="1" fill="#3d00d3"/><rect x="719" y="443" width="26" height="1" fill="#4000cf"/><rect x="719" y="444" width="26" height="1" fill="#4300cc"/><rect x="719" y="445" width="26" height="1" fill="#4600c8"/><rect x="719" y="446" width="26" height="1" fill="#4700c5"/><rect x="719" y="447" width="26" height="1" fill="#4800c1"/><rect x="719" y="448" width="26" height="1" fill="#4900be"/><rect x="719" y="449" width="26" height="1" fill="#4a00bb"/><rect x="719" y="450" width="26" height="1" fill="#4b00b7"/><rect x="719" y="451" width="26" height="1" fill="#4c00b4"/><rect x="719" y="452" width="26" height="1" fill="#4d00b1"/><rect x="719" y="453" width="26" height="1" fill="#4e00ad"/><rect x="719" y="454" width="26" height="1" fill="#4f00aa"/><rect x="719" y="455" width="26" height="1" fill="#5000a7"/><rect x="719" y="456" width="26" height="1" fill="#5100a3"/><rect x="719" y="457" width="26" height="1" fill="#5200a0"/><rect x="719" y="458" width="26" height="1" fill="#53009d"/><rect x="719" y="459" width="26" height="1" fill="#540099"/><rect x="719" y="460" width="26" height="1" fill="#550096"/><rect x="719" y="461" width="26" height="1" fill="#540093"/><rect x="719" y="462" width="26" height="1" fill="#540090"/><rect x="719" y="463" width="26" height="1" fill="#53008d"/><rect x="719" y="464" width="26" height="1" fill="#53008a"/><rect x="719" y="465" width="26" height="1" fill="#520087"/><rect x="719" y="466" width="26" height="1" fill="#520084"/><rect x="719" y="467" width="26" height="1" fill="#510081"/><rect x="719" y="468" width="26" height="1" fill="#51007e"/><rect x="719" y="469" width="26" height="1" fill="#50007b"/><rect x="719" y="470" width="26" height="1" fill="#500078"/><rect x="719" y="471" width="26" height="1" fill="#4f0075"/><rect x="719" y="472" width="26" height="1" fill="#4e0072"/><rect x="719" y="473" width="26" height="1" fill="#4e006f"/><rect x="719" y="474" width="26" height="1" fill="#4d006c"/><rect x="719" y="475" width="26" height="1" fill="#4d0069"/><rect x="719" y="476" width="26" height="1" fill="#4c0066"/><rect x="719" y="477" width="26" height="1" fill="#4c0063"/><rect x="719" y="478" width="26" height="1" fill="#4b0060"/><rect x="719" y="479" width="26" height="1" fill="#4a005d"/><rect x="719" y="480" width="26" height="1" fill="#48005a"/><rect x="719" y="481" width="26" height="1" fill="#460057"/><rect x="719" y="482" width="26" height="1" fill="#440054"/><rect x="719" y="483" width="26" height="1" fill="#420051"/><rect x="719" y="484" width="26" height="1" fill="#40004e"/><rect x="719" y="485" width="26" height="1" fill="#3e004b"/><rect x="719" y="486" width="26" height="1" fill="#3c0048"/><rect x="719" y="487" width="26" height="1" fill="#3a0045"/><rect x="719" y="488" width="26" height="1" fill="#380042"/><rect x="719" y="489" width="26" height="1" fill="#36003f"/><rect x="719" y="490" width="26" height="1" fill="#34003c"/><rect x="719" y="491" width="26" height="1" fill="#320039"/><rect x="719" y="492" width="26" height="1" fill="#300036"/><rect x="719" y="493" width="26" height="1" fill="#2e0033"/><rect x="719" y="494" width="26" height="1" fill="#2b0030"/><rect x="719" y="495" width="26" height="1" fill="#29002d"/><rect x="719" y="496" width="26" height="1" fill="#26002a"/><rect x="719" y="497" width="26" height="1" fill="#240027"/><rect x="719" y="498" width="26" height="1" fill="#210024"/><rect x="719" y="499" width="26" height="1" fill="#1e0021"/><rect x="719" y="500" width="26" height="1" fill="#1c001e"/><rect x="719" y="501" width="26" height="1" fill="#19001b"/><rect x="719" y="502" width="26" height="1" fill="#170018"/><rect x="719" y="503" width="26" height="1" fill="#140015"/><rect x="719" y="504" width="26" height="1" fill="#120012"/><rect x="719" y="505" width="26" height="1" fill="#0f000f"/><rect x="719" y="506" width="26" height="1" fill="#0c000c"/><rect x="719" y="507" width="26" height="1" fill="#090009"/><rect x="719" y="508" width="26" height="1" fill="#060006"/><rect x="719" y="509" width="26" height="1" fill="#030003"/><rect x="719" y="510" width="26" height="1" fill="#000000"/></g>
<g id="scatter" shape-rendering="crispEdges"><path fill="#008eff" d="M86 490h1v1h1v1h-1v1h-1v-1h-1v-1h1zM335 349m-1 1h3v1h-1v1h-1v-1h-1zM401 158m-1 0h2v2h-1v-1h-1z"/><path fill="#0077ff" d="M87 490h1v1h1v1h-1v1h-1v-1h-1v-1h1z"/><path fill="#0086ff" d="M80 491m-1 1h3v1h-1v1h-1v-1h-1zM161 484m-1 1h3v1h-1v1h-1v-1h-1zM377 207h1v1h1v1h-1v1h-1v-1h-1v-1h1zM377 213m-1 1h3v1h-1v1h-1v-1h-1zM393 124m-1 1h3v1h-1v1h-1v-1h-1z"/><path fill="#0079ff" d="M95 487h1v1h1v1h-1v1h-1zM255 471h1v1h1v1h-1v1h-1v-1h-1v-1h1zM356 280h1v1h1v1h-1v1h-1v-1h-1v-1h1zM370 262h1v1h1v1h-1v1h-1v-1h-1v-1h1z"/><path fill="#001dff" d="M92 487h1v1h1v1h-1v1h-1zM152 485h1v3h-1v-1h-1v-1h1zM207 476h1v1h1v1h-1v1h-1v-1h-1v-1h1zM262 468m-1 0h2v2h-1v-1h-1zM313 319m-1 0h2v2h-1v-1h-1zM328 306h1v3h-1v-1h-1v-1h1zM333 326m-1 1h3v1h-1v1h-1v-1h-1zM377 227h1v1h1v1h-1v1h-1v-1h-1v-1h1zM375 243h1v1h1v1h-1v1h-1v-1h-1v-1h1zM374 274m-1 1h3v1h-1v1h-1v-1h-1zM373 260h1v1h1v1h-1v1h-1v-1h-1v-1h1zM381 147h1v1h1v1h-1v1h-1v-1h-1v-1h1zM398 116h1v1h1v1h-1v1h-1v-1h-1v-1h1zM393 141h1v1h1v1h-1v1h-1v-1h-1v-1h1z"/><path fill="#0052ff" d="M81 492h1v1h1v1h-1v1h-1v-1h-1v-1h1zM145 484h1v1h1v1h-1v1h-1v-1h-1v-1h1zM210 483h1v1h1v1h-1v1h-1zM323 455m-1 1h3v1h-1v1h-1v-1h-1zM238 479h1v3h-1v-1h-1v-1h1zM391 108h1v1h1v1h-1v1h-1v-1h-1v-1h1zM395 109h1v3h-1v-1h-1v-1h1zM399 157h1v1h1v1h-1v1h-1v-1h-1v-1h1z"/><path fill="#0071ff" d="M83 491h1v1h1v1h-1v1h-1v-1h-1v-1h1zM254 475m-1 0h2v2h-1v-1h-1z"/><path fill="#004fff" d="M90 487m-1 0h2v2h-1v-1h-1zM170 483h1v1h1v1h-1v1h-1zM304 458h1v3h-1v-1h-1v-1h1zM375 286h1v1h1v1h-1v1h-1v-1h-1v-1h1zM381 151h1v1h1v1h-1v1h-1v-1h-1v-1h1z"/><path fill="#0076ff" d="M90 488h1v1h1v1h-1v1h-1v-1h-1v-1h1zM374 211h1v1h1v1h-1v1h-1v-1h-1v-1h1zM380 187h1v1h1v1h-1v1h-1zM401 152h1v1h1v1h-1v1h-1v-1h-1v-1h1z"/><path fill="#0091ff" d="M88 488h1v1h1v1h-1v1h-1zM382 178h1v1h1v1h-1v1h-1v-1h-1v-1h1z"/><path fill="#0060ff" d="M88 490m-1 0h2v2h-1v-1h-1zM104 486h1v1h1v1h-1v1h-1zM239 477h1v1h1v1h-1v1h-1v-1h-1v-1h1zM377 199h1v1h1v1h-1v1h-1v-1h-1v-1h1zM379 101h1v1h1v1h-3v-1h1z"/><path fill="#005dff" d="M90 486h1v1h1v1h-1v1h-1v-1h-1v-1h1zM277 466m-1 0h2v2h-1v-1h-1zM353 307h1v1h1v1h-1v1h-1v-1h-1v-1h1zM356 321h1v1h1v1h-1v1h-1v-1h-1v-1h1zM382 211m-1 1h3v1h-1v1h-1v-1h-1zM375 238h1v1h1v1h-1v1h-1zM379 219h1v1h1v1h-1v1h-1v-1h-1v-1h1zM379 133h1v1h1v1h-1v1h-1v-1h-1v-1h1zM381 140h1v1h1v1h-1v1h-1v-1h-1v-1h1zM388 147m-1 0h2v2h-1v-1h-1z"/><path fill="#0082ff" d="M93 489h1v3h-1v-1h-1v-1h1zM389 116h1v1h1v1h-1v1h-1v-1h-1v-1h1z"/><path fill="#0088ff" d="M94 488h1v1h1v1h-1v1h-1v-1h-1v-1h1zM353 259h1v1h1v1h-1v1h-1v-1h-1v-1h1zM379 171h1v1h1v1h-1v1h-1v-1h-1v-1h1zM387 171h1v1h1v1h-1v1h-1z"/><path fill="#0029ff" d="M80 490h1v1h1v1h-1v1h-1v-1h-1v-1h1zM112 486m-1 1h3v1h-1v1h-1v-1h-1zM104 485h1v1h1v1h-1v1h-1v-1h-1v-1h1zM308 461h1v1h1v1h-1v1h-1v-1h-1v-1h1zM290 459h1v3h-1v-1h-1v-1h1zM320 286h1v1h1v1h-1v1h-1v-1h-1v-1h1zM319 297h1v3h-1v-1h-1v-1h1zM358 321h1v1h1v1h-1v1h-1v-1h-1v-1h1zM310 260h1v1h1v1h-1v1h-1v-1h-1v-1h1zM386 147h1v1h1v1h-1v1h-1v-1h-1v-1h1z"/><path fill="#003dff" d="M85 489h1v1h1v1h-1v1h-1v-1h-1v-1h1zM142 484m-1 0h2v2h-1v-1h-1zM208 476h1v1h1v1h-1v1h-1zM225 481h1v1h1v1h-1v1h-1v-1h-1v-1h1zM336 283h1v1h1v1h-3v-1h1zM349 295h1v1h1v1h-1v1h-1v-1h-1v-1h1zM342 299h1v1h1v1h-1v1h-1v-1h-1v-1h1zM317 352h1v1h1v1h-1v1h-1zM382 173h1v3h-1v-1h-1v-1h1zM379 86h1v1h1v1h-1v1h-1v-1h-1v-1h1zM379 87m-1 0h2v2h-1v-1h-1zM389 160h1v1h1v1h-1v1h-1v-1h-1v-1h1z"/><path fill="#008cff" d="M90 488h1v1h1v1h-1v1h-1v-1h-1v-1h1z"/><path fill="#007cff" d="M92 489h1v1h1v1h-1v1h-1zM363 287h1v1h1v1h-1v1h-1v-1h-1v-1h1zM377 215h1v1h1v1h-1v1h-1v-1h-1v-1h1zM371 294h1v1h1v1h-1v1h-1v-1h-1v-1h1z"/><path fill="#0061ff" d="M92 488h1v1h1v1h-1v1h-1v-1h-1v-1h1zM380 95m-1 1h3v1h-1v1h-1v-1h-1zM383 134h1v1h1v1h-1v1h-1v-1h-1v-1h1z"/><path fill="#006eff" d="M92 488m-1 1h3v1h-1v1h-1v-1h-1zM278 464h1v1h1v1h-1v1h-1v-1h-1v-1h1zM370 295h1v1h1v1h-1v1h-1v-1h-1v-1h1zM379 88m-1 0h2v2h-1v-1h-1zM382 86h1v1h1v1h-1v1h-1v-1h-1v-1h1zM401 145m-1 1h3v1h-1v1h-1v-1h-1z"/><path fill="#006aff" d="M83 490h1v1h1v1h-3v-1h1zM137 486h1v1h1v1h-1v1h-1v-1h-1v-1h1zM189 482h1v1h1v1h-1v1h-1v-1h-1v-1h1zM247 473h1v1h1v1h-3v-1h1zM269 470h1v1h1v1h-1v1h-1zM332 300h1v1h1v1h-1v1h-1v-1h-1v-1h1zM380 103h1v1h1v1h-1v1h-1v-1h-1v-1h1z"/><path fill="#0093ff" d="M84 488h1v3h-1v-1h-1v-1h1zM177 484m-1 0h2v2h-1v-1h-1zM342 265h1v1h1v1h-1v1h-1v-1h-1v-1h1zM371 255m-1 0h2v2h-1v-1h-1zM390 121h1v1h1v1h-3v-1h1zM391 102m-1 1h3v1h-1v1h-1v-1h-1zM392 142h1v1h1v1h-1v1h-1v-1h-1v-1h1z"/><path fill="#0030ff" d="M129 483h1v1h1v1h-1v1h-1v-1h-1v-1h1zM119 486h1v1h1v1h-1v1h-1v-1h-1v-1h1zM205 475m-1 0h2v2h-1v-1h-1zM253 474h1v1h1v1h-1v1h-1v-1h-1v-1h1zM377 195h1v3h-1v-1h-1v-1h1zM369 249h1v1h1v1h-1v1h-1v-1h-1v-1h1zM372 246h1v1h1v1h-1v1h-1zM398 103m-1 1h3v1h-1v1h-1v-1h-1z"/><path fill="#0055ff" d="M118 485h1v1h1v1h-1v1h-1v-1h-1v-1h1zM142 488h1v1h1v1h-1v1h-1v-1h-1v-1h1zM378 204h1v3h-1v-1h-1v-1h1zM394 111h1v1h1v1h-1v1h-1v-1h-1v-1h1zM396 120h1v1h1v1h-1v1h-1v-1h-1v-1h1z"/><path fill="#0000ff" d="M148 485m-1 1h3v1h-1v1h-1v-1h-1zM164 485h1v1h1v1h-1v1h-1zM126 482m-1 1h3v1h-1v1h-1v-1h-1zM136 483h1v1h1v1h-1v1h-1v-1h-1v-1h1zM134 484h1v1h1v1h-3v-1h1zM145 484h1v1h1v1h-1v1h-1v-1h-1v-1h1zM121 485h1v1h1v1h-1v1h-1v-1h-1v-1h1zM145 482h1v1h1v1h-1v1h-1v-1h-1v-1h1zM144 485h1v1h1v1h-1v1h-1v-1h-1v-1h1zM176 482h1v1h1v1h-1v1h-1v-1h-1v-1h1zM126 483h1v1h1v1h-1v1h-1v-1h-1v-1h1zM127 484h1v1h1v1h-1v1h-1v-1h-1v-1h1zM169 485m-1 1h3v1h-1v1h-1v-1h-1zM102 484h1v1h1v1h-1v1h-1v-1h-1v-1h1zM121 485h1v1h1v1h-1v1h-1v-1h-1v-1h1zM161 484h1v1h1v1h-3v-1h1zM141 486m-1 0h2v2h-1v-1h-1zM179 484h1v3h-1v-1h-1v-1h1zM102 486h1v3h-1v-1h-1v-1h1zM147 484m-1 1h3v1h-1v1h-1v-1h-1zM184 483h1v1h1v1h-1v1h-1v-1h-1v-1h1zM190 481h1v1h1v1h-1v1h-1v-1h-1v-1h1zM190 483h1v1h1v1h-1v1h-1v-1h-1v-1h1zM189 483h1v1h1v1h-3v-1h1zM213 481h1v3h-1v-1h-1v-1h1zM203 483m-1 0h2v2h-1v-1h-1zM224 482h1v1h1v1h-1v1h-1v-1h-1v-1h1zM198 481h1v3h-1v-1h-1v-1h1zM203 483h1v1h1v1h-1v1h-1v-1h-1v-1h1zM199 484h1v3h-1v-1h-1v-1h1zM121 471h1v1h1v1h-1v1h-1v-1h-1v-1h1zM107 478m-1 0h2v2h-1v-1h-1zM135 472h1v1h1v1h-1v1h-1v-1h-1v-1h1zM137 473m-1 1h3v1h-1v1h-1v-1h-1zM139 475h1v3h-1v-1h-1v-1h1zM159 474h1v1h1v1h-3v-1h1zM165 467h1v3h-1v-1h-1v-1h1zM164 471h1v3h-1v-1h-1v-1h1zM167 471h1v1h1v1h-1v1h-1zM175 471h1v1h1v1h-3v-1h1zM175 475h1v1h1v1h-1v1h-1v-1h-1v-1h1zM177 470h1v3h-1v-1h-1v-1h1zM185 472h1v1h1v1h-3v-1h1zM182 476h1v1h1v1h-3v-1h1zM192 463h1v1h1v1h-1v1h-1v-1h-1v-1h1zM203 454h1v1h1v1h-1v1h-1zM203 461h1v1h1v1h-3v-1h1zM211 448m-1 1h3v1h-1v1h-1v-1h-1zM211 466m-1 1h3v1h-1v1h-1v-1h-1zM212 467h1v1h1v1h-1v1h-1v-1h-1v-1h1zM218 448m-1 1h3v1h-1v1h-1v-1h-1zM219 473m-1 1h3v1h-1v1h-1v-1h-1zM207 473h1v1h1v1h-1v1h-1v-1h-1v-1h1zM234 469h1v3h-1v-1h-1v-1h1zM237 466m-1 0h2v2h-1v-1h-1zM81 495h1v1h1v1h-3v-1h1zM169 490h1v3h-1v-1h-1v-1h1zM225 483h1v1h1v1h-1v1h-1v-1h-1v-1h1zM80 486h1v3h-1v-1h-1v-1h1zM80 495m-1 1h3v1h-1v1h-1v-1h-1zM268 473h1v1h1v1h-1v1h-1v-1h-1v-1h1zM241 476h1v1h1v1h-1v1h-1zM289 464h1v1h1v1h-1v1h-1v-1h-1v-1h1zM279 463h1v3h-1v-1h-1v-1h1zM325 453h1v1h1v1h-1v1h-1v-1h-1v-1h1zM306 466m-1 1h3v1h-1v1h-1v-1h-1zM326 451h1v1h1v1h-1v1h-1v-1h-1v-1h1zM230 480h1v1h1v1h-1v1h-1v-1h-1v-1h1zM254 473h1v3h-1v-1h-1v-1h1zM310 458h1v1h1v1h-1v1h-1v-1h-1v-1h1zM281 465m-1 1h3v1h-1v1h-1v-1h-1zM322 454m-1 0h2v2h-1v-1h-1zM257 471h1v1h1v1h-1v1h-1v-1h-1v-1h1zM234 458h1v1h1v1h-1v1h-1v-1h-1v-1h1zM238 461h1v1h1v1h-1v1h-1v-1h-1v-1h1zM238 466h1v3h-1v-1h-1v-1h1zM233 469h1v1h1v1h-1v1h-1v-1h-1v-1h1zM241 470h1v1h1v1h-1v1h-1v-1h-1v-1h1zM251 466h1v1h1v1h-3v-1h1zM264 465h1v3h-1v-1h-1v-1h1zM269 458h1v1h1v1h-1v1h-1v-1h-1v-1h1zM272 458h1v1h1v1h-3v-1h1zM265 442h1v1h1v1h-1v1h-1v-1h-1v-1h1zM261 449h1v3h-1v-1h-1v-1h1zM271 450h1v1h1v1h-1v1h-1v-1h-1v-1h1zM296 445h1v1h1v1h-1v1h-1v-1h-1v-1h1zM318 430h1v1h1v1h-1v1h-1zM292 409h1v1h1v1h-3v-1h1zM290 421h1v1h1v1h-3v-1h1zM288 429h1v1h1v1h-1v1h-1v-1h-1v-1h1zM287 431m-1 1h3v1h-1v1h-1v-1h-1zM293 427h1v1h1v1h-1v1h-1v-1h-1v-1h1zM292 438h1v1h1v1h-1v1h-1v-1h-1v-1h1zM290 444h1v1h1v1h-1v1h-1v-1h-1v-1h1zM293 450h1v1h1v1h-1v1h-1zM299 388h1v1h1v1h-1v1h-1zM311 387h1v3h-1v-1h-1v-1h1zM297 397m-1 0h2v2h-1v-1h-1zM295 402h1v1h1v1h-1v1h-1v-1h-1v-1h1zM312 396h1v1h1v1h-1v1h-1v-1h-1v-1h1zM311 400h1v1h1v1h-1v1h-1v-1h-1v-1h1zM321 395h1v1h1v1h-1v1h-1v-1h-1v-1h1zM319 398h1v1h1v1h-1v1h-1v-1h-1v-1h1zM324 414h1v1h1v1h-1v1h-1v-1h-1v-1h1zM325 415m-1 1h3v1h-1v1h-1v-1h-1zM323 413h1v1h1v1h-1v1h-1v-1h-1v-1h1zM274 484h1v1h1v1h-1v1h-1v-1h-1v-1h1zM292 482h1v1h1v1h-1v1h-1zM291 484m-1 0h2v2h-1v-1h-1zM295 489h1v1h1v1h-1v1h-1v-1h-1v-1h1zM307 471h1v1h1v1h-1v1h-1v-1h-1v-1h1zM306 483h1v1h1v1h-1v1h-1v-1h-1v-1h1zM310 484h1v1h1v1h-3v-1h1zM311 488h1v1h1v1h-1v1h-1v-1h-1v-1h1zM347 485h1v3h-1v-1h-1v-1h1zM349 486m-1 1h3v1h-1v1h-1v-1h-1zM333 455h1v1h1v1h-1v1h-1v-1h-1v-1h1zM381 460h1v1h1v1h-1v1h-1zM392 482h1v1h1v1h-1v1h-1v-1h-1v-1h1zM392 485h1v1h1v1h-1v1h-1v-1h-1v-1h1zM326 267h1v1h1v1h-1v1h-1v-1h-1v-1h1zM316 281h1v1h1v1h-1v1h-1v-1h-1v-1h1zM319 326h1v1h1v1h-1v1h-1zM327 325h1v1h1v1h-1v1h-1v-1h-1v-1h1zM314 333h1v1h1v1h-1v1h-1v-1h-1v-1h1zM327 298h1v1h1v1h-1v1h-1v-1h-1v-1h1zM311 329m-1 1h3v1h-1v1h-1v-1h-1zM309 297h1v1h1v1h-1v1h-1v-1h-1v-1h1zM328 328m-1 1h3v1h-1v1h-1v-1h-1zM324 338h1v3h-1v-1h-1v-1h1zM328 327h1v1h1v1h-1v1h-1zM321 316m-1 0h2v2h-1v-1h-1zM316 299h1v3h-1v-1h-1v-1h1zM309 299h1v1h1v1h-1v1h-1v-1h-1v-1h1zM328 307h1v1h1v1h-1v1h-1v-1h-1v-1h1zM322 325h1v1h1v1h-1v1h-1v-1h-1v-1h1zM310 297h1v1h1v1h-1v1h-1v-1h-1v-1h1zM308 305h1v1h1v1h-1v1h-1v-1h-1v-1h1zM357 266h1v3h-1v-1h-1v-1h1zM344 265h1v1h1v1h-1v1h-1v-1h-1v-1h1zM360 257h1v1h1v1h-1v1h-1v-1h-1v-1h1zM358 259h1v1h1v1h-1v1h-1v-1h-1v-1h1zM332 292h1v3h-1v-1h-1v-1h1zM334 289m-1 1h3v1h-1v1h-1v-1h-1zM347 263m-1 1h3v1h-1v1h-1v-1h-1zM335 287h1v3h-1v-1h-1v-1h1zM336 279h1v1h1v1h-1v1h-1v-1h-1v-1h1zM361 286h1v1h1v1h-1v1h-1zM345 283h1v1h1v1h-3v-1h1zM345 295h1v1h1v1h-1v1h-1v-1h-1v-1h1zM345 295m-1 0h2v2h-1v-1h-1zM331 315h1v3h-1v-1h-1v-1h1zM364 284h1v1h1v1h-1v1h-1v-1h-1v-1h1zM336 303h1v1h1v1h-1v1h-1v-1h-1v-1h1zM360 286m-1 1h3v1h-1v1h-1v-1h-1zM339 302h1v1h1v1h-3v-1h1zM348 299h1v1h1v1h-1v1h-1v-1h-1v-1h1zM326 311m-1 1h3v1h-1v1h-1v-1h-1zM355 298h1v1h1v1h-3v-1h1zM345 302h1v1h1v1h-1v1h-1zM338 316m-1 0h2v2h-1v-1h-1zM334 310h1v1h1v1h-1v1h-1v-1h-1v-1h1zM328 305h1v3h-1v-1h-1v-1h1zM324 313h1v1h1v1h-1v1h-1v-1h-1v-1h1zM343 304h1v3h-1v-1h-1v-1h1zM339 316h1v1h1v1h-1v1h-1zM353 325h1v3h-1v-1h-1v-1h1zM340 323h1v3h-1v-1h-1v-1h1zM340 319h1v1h1v1h-1v1h-1v-1h-1v-1h1zM355 315h1v1h1v1h-3v-1h1zM352 331m-1 0h2v2h-1v-1h-1zM361 332m-1 0h2v2h-1v-1h-1zM351 337m-1 1h3v1h-1v1h-1v-1h-1zM337 334h1v1h1v1h-1v1h-1zM352 324h1v1h1v1h-1v1h-1v-1h-1v-1h1zM359 320h1v1h1v1h-3v-1h1zM334 328h1v1h1v1h-1v1h-1zM334 325h1v1h1v1h-1v1h-1v-1h-1v-1h1zM335 342h1v1h1v1h-1v1h-1v-1h-1v-1h1zM333 320h1v1h1v1h-1v1h-1v-1h-1v-1h1zM350 319m-1 1h3v1h-1v1h-1v-1h-1zM355 333h1v1h1v1h-1v1h-1zM325 260h1v1h1v1h-1v1h-1v-1h-1v-1h1zM328 268h1v1h1v1h-1v1h-1v-1h-1v-1h1zM302 344h1v1h1v1h-1v1h-1zM361 343h1v1h1v1h-1v1h-1v-1h-1v-1h1zM348 353h1v1h1v1h-1v1h-1zM275 351h1v1h1v1h-1v1h-1v-1h-1v-1h1zM307 364h1v1h1v1h-1v1h-1v-1h-1v-1h1zM308 365h1v1h1v1h-1v1h-1zM306 363h1v1h1v1h-1v1h-1v-1h-1v-1h1zM305 354h1v1h1v1h-1v1h-1v-1h-1v-1h1zM319 358m-1 1h3v1h-1v1h-1v-1h-1zM339 355h1v3h-1v-1h-1v-1h1zM357 366h1v1h1v1h-1v1h-1zM361 357h1v3h-1v-1h-1v-1h1zM320 371m-1 0h2v2h-1v-1h-1zM311 234h1v1h1v1h-1v1h-1v-1h-1v-1h1zM310 246m-1 0h2v2h-1v-1h-1zM334 186h1v1h1v1h-1v1h-1v-1h-1v-1h1zM337 187h1v1h1v1h-1v1h-1v-1h-1v-1h1zM341 187m-1 1h3v1h-1v1h-1v-1h-1zM343 184h1v1h1v1h-1v1h-1v-1h-1v-1h1zM345 179h1v3h-1v-1h-1v-1h1zM347 179h1v3h-1v-1h-1v-1h1zM349 174m-1 1h3v1h-1v1h-1v-1h-1zM352 170h1v1h1v1h-1v1h-1zM354 167m-1 1h3v1h-1v1h-1v-1h-1zM348 197h1v1h1v1h-1v1h-1v-1h-1v-1h1zM354 199h1v1h1v1h-1v1h-1v-1h-1v-1h1zM381 160h1v1h1v1h-1v1h-1zM380 210h1v1h1v1h-3v-1h1zM377 176h1v1h1v1h-1v1h-1v-1h-1v-1h1zM377 222h1v1h1v1h-1v1h-1zM373 184m-1 0h2v2h-1v-1h-1zM377 208m-1 1h3v1h-1v1h-1v-1h-1zM377 177m-1 1h3v1h-1v1h-1v-1h-1zM378 171h1v1h1v1h-1v1h-1v-1h-1v-1h1zM378 208m-1 1h3v1h-1v1h-1v-1h-1zM377 218m-1 1h3v1h-1v1h-1v-1h-1zM379 224m-1 1h3v1h-1v1h-1v-1h-1zM376 189h1v1h1v1h-1v1h-1v-1h-1v-1h1zM375 213m-1 0h2v2h-1v-1h-1zM369 264m-1 1h3v1h-1v1h-1v-1h-1zM382 252h1v1h1v1h-1v1h-1v-1h-1v-1h1zM376 261h1v1h1v1h-1v1h-1zM377 302m-1 1h3v1h-1v1h-1v-1h-1zM382 273h1v1h1v1h-1v1h-1v-1h-1v-1h1zM374 250h1v3h-1v-1h-1v-1h1zM372 242h1v1h1v1h-1v1h-1v-1h-1v-1h1zM376 271m-1 1h3v1h-1v1h-1v-1h-1zM372 266h1v1h1v1h-1v1h-1v-1h-1v-1h1zM380 268m-1 0h2v2h-1v-1h-1zM367 270m-1 0h2v2h-1v-1h-1zM379 109h1v1h1v1h-1v1h-1v-1h-1v-1h1zM379 96h1v1h1v1h-1v1h-1v-1h-1v-1h1zM379 108h1v1h1v1h-1v1h-1v-1h-1v-1h1zM379 97h1v1h1v1h-1v1h-1v-1h-1v-1h1zM378 151h1v1h1v1h-1v1h-1zM380 92h1v1h1v1h-3v-1h1zM380 157h1v1h1v1h-1v1h-1v-1h-1v-1h1zM378 115h1v1h1v1h-1v1h-1v-1h-1v-1h1zM378 143h1v1h1v1h-1v1h-1v-1h-1v-1h1zM379 97m-1 1h3v1h-1v1h-1v-1h-1zM379 104m-1 0h2v2h-1v-1h-1zM378 88h1v1h1v1h-1v1h-1v-1h-1v-1h1zM380 117h1v1h1v1h-1v1h-1zM388 145h1v1h1v1h-1v1h-1v-1h-1v-1h1zM394 139h1v1h1v1h-1v1h-1v-1h-1v-1h1zM401 101h1v1h1v1h-1v1h-1v-1h-1v-1h1zM398 153h1v3h-1v-1h-1v-1h1zM386 94h1v1h1v1h-1v1h-1v-1h-1v-1h1zM388 146h1v1h1v1h-1v1h-1v-1h-1v-1h1zM401 159m-1 1h3v1h-1v1h-1v-1h-1zM382 118h1v1h1v1h-1v1h-1v-1h-1v-1h1zM385 148h1v3h-1v-1h-1v-1h1zM395 119h1v1h1v1h-1v1h-1v-1h-1v-1h1zM399 99m-1 1h3v1h-1v1h-1v-1h-1zM391 120h1v1h1v1h-1v1h-1v-1h-1v-1h1zM400 148h1v1h1v1h-1v1h-1v-1h-1v-1h1zM395 105m-1 1h3v1h-1v1h-1v-1h-1zM400 168h1v1h1v1h-1v1h-1v-1h-1v-1h1zM390 118h1v1h1v1h-1v1h-1v-1h-1v-1h1zM386 107h1v1h1v1h-1v1h-1v-1h-1v-1h1zM394 169m-1 1h3v1h-1v1h-1v-1h-1zM384 120h1v1h1v1h-1v1h-1v-1h-1v-1h1zM384 104h1v1h1v1h-1v1h-1v-1h-1v-1h1zM389 116h1v3h-1v-1h-1v-1h1zM388 164h1v3h-1v-1h-1v-1h1zM391 114m-1 1h3v1h-1v1h-1v-1h-1zM389 118h1v1h1v1h-1v1h-1zM389 162m-1 1h3v1h-1v1h-1v-1h-1zM383 163h1v1h1v1h-1v1h-1zM388 119h1v1h1v1h-1v1h-1v-1h-1v-1h1zM384 100h1v3h-1v-1h-1v-1h1zM401 100h1v1h1v1h-1v1h-1zM394 170h1v1h1v1h-3v-1h1zM383 177h1v1h1v1h-1v1h-1v-1h-1v-1h1zM367 118h1v1h1v1h-1v1h-1v-1h-1v-1h1zM365 133m-1 0h2v2h-1v-1h-1zM364 142h1v1h1v1h-1v1h-1v-1h-1v-1h1zM363 145m-1 0h2v2h-1v-1h-1zM360 155h1v1h1v1h-3v-1h1zM430 111h1v1h1v1h-1v1h-1v-1h-1v-1h1zM419 115h1v1h1v1h-1v1h-1v-1h-1v-1h1zM432 122h1v3h-1v-1h-1v-1h1zM424 134h1v1h1v1h-1v1h-1v-1h-1v-1h1zM408 321h1v1h1v1h-1v1h-1v-1h-1v-1h1zM411 321h1v1h1v1h-1v1h-1zM400 237h1v1h1v1h-1v1h-1v-1h-1v-1h1zM404 241h1v1h1v1h-1v1h-1zM400 250h1v1h1v1h-1v1h-1v-1h-1v-1h1zM402 259h1v1h1v1h-1v1h-1v-1h-1v-1h1zM404 263h1v3h-1v-1h-1v-1h1zM419 206h1v1h1v1h-1v1h-1v-1h-1v-1h1zM445 202h1v1h1v1h-1v1h-1v-1h-1v-1h1zM444 206h1v3h-1v-1h-1v-1h1zM446 207h1v1h1v1h-3v-1h1zM444 213m-1 0h2v2h-1v-1h-1zM441 215h1v1h1v1h-1v1h-1v-1h-1v-1h1zM443 214m-1 1h3v1h-1v1h-1v-1h-1zM449 218h1v3h-1v-1h-1v-1h1zM441 222m-1 1h3v1h-1v1h-1v-1h-1zM444 224h1v3h-1v-1h-1v-1h1zM445 227h1v1h1v1h-1v1h-1v-1h-1v-1h1zM598 108m-1 0h2v2h-1v-1h-1zM543 167h1v3h-1v-1h-1v-1h1zM597 251h1v3h-1v-1h-1v-1h1zM573 328h1v3h-1v-1h-1v-1h1zM382 460m-1 1h3v1h-1v1h-1v-1h-1z"/><path fill="#000aff" d="M146 486m-1 1h3v1h-1v1h-1v-1h-1zM312 459h1v1h1v1h-1v1h-1v-1h-1v-1h1zM321 276h1v1h1v1h-1v1h-1v-1h-1v-1h1zM349 323h1v1h1v1h-1v1h-1v-1h-1v-1h1zM331 345h1v1h1v1h-1v1h-1zM385 168m-1 0h2v2h-1v-1h-1zM373 166m-1 0h2v2h-1v-1h-1zM377 246h1v1h1v1h-1v1h-1v-1h-1v-1h1z"/><path fill="#007fff" d="M141 484h1v1h1v1h-1v1h-1v-1h-1v-1h1zM371 292m-1 0h2v2h-1v-1h-1zM380 117h1v1h1v1h-1v1h-1v-1h-1v-1h1zM399 135h1v1h1v1h-1v1h-1zM391 94h1v1h1v1h-1v1h-1v-1h-1v-1h1z"/><path fill="#0014ff" d="M131 485h1v1h1v1h-1v1h-1v-1h-1v-1h1zM176 481m-1 1h3v1h-1v1h-1v-1h-1zM200 478h1v1h1v1h-1v1h-1v-1h-1v-1h1zM350 299m-1 1h3v1h-1v1h-1v-1h-1zM359 317h1v1h1v1h-1v1h-1v-1h-1v-1h1zM353 326h1v3h-1v-1h-1v-1h1zM386 269h1v1h1v1h-1v1h-1z"/><path fill="#003aff" d="M104 486h1v1h1v1h-1v1h-1v-1h-1v-1h1zM315 457h1v1h1v1h-1v1h-1v-1h-1v-1h1zM361 334h1v3h-1v-1h-1v-1h1zM329 266h1v1h1v1h-1v1h-1v-1h-1v-1h1zM369 298h1v1h1v1h-1v1h-1v-1h-1v-1h1zM380 133h1v1h1v1h-1v1h-1v-1h-1v-1h1zM380 150m-1 1h3v1h-1v1h-1v-1h-1zM396 110h1v1h1v1h-1v1h-1v-1h-1v-1h1z"/><path fill="#002cff" d="M127 485h1v1h1v1h-3v-1h1zM189 483h1v1h1v1h-1v1h-1zM288 459h1v3h-1v-1h-1v-1h1zM340 267h1v1h1v1h-3v-1h1zM331 337m-1 1h3v1h-1v1h-1v-1h-1zM378 233h1v1h1v1h-1v1h-1v-1h-1v-1h1zM379 193m-1 1h3v1h-1v1h-1v-1h-1zM379 148m-1 1h3v1h-1v1h-1v-1h-1zM380 132m-1 0h2v2h-1v-1h-1zM378 85h1v1h1v1h-1v1h-1zM391 146h1v1h1v1h-1v1h-1v-1h-1v-1h1zM390 136h1v1h1v1h-3v-1h1zM399 147h1v3h-1v-1h-1v-1h1zM400 112h1v1h1v1h-1v1h-1z"/><path fill="#002eff" d="M129 487h1v1h1v1h-1v1h-1zM135 486h1v1h1v1h-1v1h-1v-1h-1v-1h1zM245 473h1v1h1v1h-3v-1h1zM302 461h1v1h1v1h-3v-1h1zM260 472h1v3h-1v-1h-1v-1h1zM233 483h1v1h1v1h-1v1h-1zM308 280h1v1h1v1h-1v1h-1zM357 285h1v1h1v1h-1v1h-1v-1h-1v-1h1zM354 339h1v3h-1v-1h-1v-1h1zM372 237h1v1h1v1h-1v1h-1v-1h-1v-1h1zM376 200h1v1h1v1h-1v1h-1v-1h-1v-1h1zM373 262h1v1h1v1h-1v1h-1v-1h-1v-1h1zM390 103h1v1h1v1h-1v1h-1v-1h-1v-1h1z"/><path fill="#0005ff" d="M150 485h1v1h1v1h-1v1h-1v-1h-1v-1h1zM212 484h1v3h-1v-1h-1v-1h1zM273 471m-1 1h3v1h-1v1h-1v-1h-1zM335 294h1v1h1v1h-1v1h-1v-1h-1v-1h1zM365 292m-1 0h2v2h-1v-1h-1zM345 332h1v3h-1v-1h-1v-1h1zM357 339h1v1h1v1h-1v1h-1v-1h-1v-1h1zM349 340h1v3h-1v-1h-1v-1h1zM377 166m-1 1h3v1h-1v1h-1v-1h-1zM380 142m-1 1h3v1h-1v1h-1v-1h-1zM381 116h1v1h1v1h-1v1h-1v-1h-1v-1h1zM380 121m-1 0h2v2h-1v-1h-1z"/><path fill="#3600db" d="M109 487h1v3h-1v-1h-1v-1h1zM326 277h1v3h-1v-1h-1v-1h1zM316 296h1v1h1v1h-1v1h-1zM355 318m-1 0h2v2h-1v-1h-1zM376 214h1v1h1v1h-1v1h-1v-1h-1v-1h1z"/><path fill="#0042ff" d="M137 485m-1 1h3v1h-1v1h-1v-1h-1zM379 196h1v3h-1v-1h-1v-1h1zM398 107h1v1h1v1h-1v1h-1v-1h-1v-1h1zM391 103h1v1h1v1h-1v1h-1v-1h-1v-1h1zM393 120h1v1h1v1h-1v1h-1v-1h-1v-1h1z"/><path fill="#0006ff" d="M121 485h1v1h1v1h-1v1h-1v-1h-1v-1h1zM103 487h1v1h1v1h-1v1h-1v-1h-1v-1h1zM309 339h1v1h1v1h-1v1h-1v-1h-1v-1h1zM375 195h1v1h1v1h-1v1h-1v-1h-1v-1h1zM379 154h1v1h1v1h-3v-1h1zM378 128m-1 1h3v1h-1v1h-1v-1h-1zM393 96m-1 1h3v1h-1v1h-1v-1h-1zM390 111m-1 0h2v2h-1v-1h-1z"/><path fill="#0043ff" d="M101 485m-1 1h3v1h-1v1h-1v-1h-1zM136 485m-1 0h2v2h-1v-1h-1zM200 478h1v3h-1v-1h-1v-1h1zM321 313h1v1h1v1h-1v1h-1z"/><path fill="#0008ff" d="M101 483h1v1h1v1h-1v1h-1v-1h-1v-1h1zM323 331m-1 1h3v1h-1v1h-1v-1h-1zM320 331h1v3h-1v-1h-1v-1h1zM361 348h1v1h1v1h-1v1h-1v-1h-1v-1h1zM375 175m-1 0h2v2h-1v-1h-1zM371 248h1v1h1v1h-1v1h-1v-1h-1v-1h1zM378 147h1v1h1v1h-1v1h-1v-1h-1v-1h1zM383 174h1v1h1v1h-1v1h-1v-1h-1v-1h1z"/><path fill="#000cff" d="M170 483h1v1h1v1h-1v1h-1v-1h-1v-1h1zM313 307m-1 1h3v1h-1v1h-1v-1h-1zM309 306h1v1h1v1h-1v1h-1v-1h-1v-1h1zM377 112m-1 0h2v2h-1v-1h-1z"/><path fill="#000eff" d="M163 482h1v1h1v1h-1v1h-1v-1h-1v-1h1zM111 486m-1 1h3v1h-1v1h-1v-1h-1zM124 484m-1 1h3v1h-1v1h-1v-1h-1zM193 482h1v1h1v1h-1v1h-1v-1h-1v-1h1zM346 324h1v1h1v1h-1v1h-1v-1h-1v-1h1zM379 188h1v3h-1v-1h-1v-1h1zM376 218m-1 1h3v1h-1v1h-1v-1h-1zM388 126h1v1h1v1h-1v1h-1v-1h-1v-1h1zM383 153h1v3h-1v-1h-1v-1h1zM400 160h1v1h1v1h-1v1h-1v-1h-1v-1h1z"/><path fill="#007bff" d="M126 487h1v1h1v1h-1v1h-1v-1h-1v-1h1zM184 483h1v1h1v1h-1v1h-1v-1h-1v-1h1zM189 483h1v1h1v1h-1v1h-1v-1h-1v-1h1zM212 480h1v1h1v1h-1v1h-1v-1h-1v-1h1zM349 298h1v3h-1v-1h-1v-1h1zM401 111h1v1h1v1h-1v1h-1v-1h-1v-1h1z"/><path fill="#0900fb" d="M166 485h1v1h1v1h-3v-1h1zM358 331h1v3h-1v-1h-1v-1h1z"/><path fill="#002aff" d="M117 485h1v1h1v1h-1v1h-1v-1h-1v-1h1zM99 485m-1 0h2v2h-1v-1h-1zM205 484m-1 0h2v2h-1v-1h-1zM314 267h1v1h1v1h-1v1h-1v-1h-1v-1h1zM347 259h1v1h1v1h-3v-1h1zM362 316h1v1h1v1h-1v1h-1v-1h-1v-1h1zM373 181h1v1h1v1h-1v1h-1v-1h-1v-1h1zM381 188m-1 0h2v2h-1v-1h-1zM377 154h1v1h1v1h-1v1h-1v-1h-1v-1h1z"/><path fill="#0068ff" d="M122 485m-1 1h3v1h-1v1h-1v-1h-1zM115 487m-1 0h2v2h-1v-1h-1zM283 461h1v3h-1v-1h-1v-1h1zM260 472h1v1h1v1h-1v1h-1v-1h-1v-1h1zM314 461m-1 0h2v2h-1v-1h-1zM260 471h1v1h1v1h-1v1h-1zM378 92m-1 1h3v1h-1v1h-1v-1h-1zM384 143h1v1h1v1h-1v1h-1v-1h-1v-1h1z"/><path fill="#0040ff" d="M129 485m-1 1h3v1h-1v1h-1v-1h-1zM328 285h1v1h1v1h-1v1h-1v-1h-1v-1h1zM371 309h1v1h1v1h-1v1h-1v-1h-1v-1h1zM379 299h1v1h1v1h-1v1h-1v-1h-1v-1h1z"/><path fill="#0800fb" d="M138 484m-1 1h3v1h-1v1h-1v-1h-1zM318 430h1v1h1v1h-1v1h-1v-1h-1v-1h1zM353 272h1v1h1v1h-1v1h-1v-1h-1v-1h1zM373 192h1v3h-1v-1h-1v-1h1zM374 259h1v1h1v1h-1v1h-1v-1h-1v-1h1zM380 120h1v1h1v1h-1v1h-1v-1h-1v-1h1z"/><path fill="#002fff" d="M105 484m-1 1h3v1h-1v1h-1v-1h-1zM146 484h1v1h1v1h-1v1h-1v-1h-1v-1h1zM272 468h1v1h1v1h-1v1h-1zM234 479m-1 1h3v1h-1v1h-1v-1h-1zM316 330m-1 0h2v2h-1v-1h-1zM321 323m-1 0h2v2h-1v-1h-1zM319 324h1v3h-1v-1h-1v-1h1zM377 244h1v1h1v1h-1v1h-1v-1h-1v-1h1zM383 164h1v1h1v1h-1v1h-1v-1h-1v-1h1zM390 119h1v1h1v1h-3v-1h1z"/><path fill="#0003ff" d="M178 483h1v1h1v1h-1v1h-1zM328 307m-1 1h3v1h-1v1h-1v-1h-1zM327 308h1v1h1v1h-1v1h-1v-1h-1v-1h1zM381 174h1v1h1v1h-1v1h-1v-1h-1v-1h1zM385 166h1v3h-1v-1h-1v-1h1z"/><path fill="#0028ff" d="M109 487m-1 1h3v1h-1v1h-1v-1h-1zM135 483m-1 1h3v1h-1v1h-1v-1h-1zM205 477h1v3h-1v-1h-1v-1h1zM249 477h1v3h-1v-1h-1v-1h1zM313 437h1v1h1v1h-1v1h-1v-1h-1v-1h1zM373 183h1v1h1v1h-1v1h-1v-1h-1v-1h1zM389 294m-1 0h2v2h-1v-1h-1zM381 99h1v1h1v1h-3v-1h1zM378 150h1v1h1v1h-3v-1h1zM399 154h1v1h1v1h-1v1h-1v-1h-1v-1h1z"/><path fill="#0016ff" d="M167 485h1v1h1v1h-1v1h-1v-1h-1v-1h1zM125 485h1v1h1v1h-1v1h-1v-1h-1v-1h1zM138 485h1v1h1v1h-1v1h-1v-1h-1v-1h1zM250 476m-1 1h3v1h-1v1h-1v-1h-1zM326 312h1v1h1v1h-1v1h-1v-1h-1v-1h1zM383 215m-1 1h3v1h-1v1h-1v-1h-1zM385 135h1v1h1v1h-1v1h-1v-1h-1v-1h1zM392 174h1v1h1v1h-1v1h-1v-1h-1v-1h1z"/><path fill="#009bff" d="M127 485h1v3h-1v-1h-1v-1h1z"/><path fill="#000dff" d="M153 482m-1 1h3v1h-1v1h-1v-1h-1z"/><path fill="#005eff" d="M123 485h1v3h-1v-1h-1v-1h1zM200 478h1v1h1v1h-1v1h-1v-1h-1v-1h1zM275 464h1v1h1v1h-1v1h-1v-1h-1v-1h1zM266 472h1v1h1v1h-1v1h-1v-1h-1v-1h1zM240 481h1v1h1v1h-1v1h-1v-1h-1v-1h1zM333 310h1v3h-1v-1h-1v-1h1zM369 267h1v1h1v1h-1v1h-1zM402 101h1v1h1v1h-1v1h-1v-1h-1v-1h1z"/><path fill="#0044ff" d="M120 485h1v1h1v1h-1v1h-1v-1h-1v-1h1zM106 486h1v1h1v1h-1v1h-1zM338 304m-1 1h3v1h-1v1h-1v-1h-1zM376 238h1v1h1v1h-1v1h-1zM382 183h1v1h1v1h-1v1h-1v-1h-1v-1h1zM386 148h1v1h1v1h-1v1h-1v-1h-1v-1h1zM400 163h1v1h1v1h-1v1h-1v-1h-1v-1h1z"/><path fill="#0d00f9" d="M98 485h1v1h1v1h-1v1h-1zM337 292h1v1h1v1h-1v1h-1v-1h-1v-1h1zM380 92h1v3h-1v-1h-1v-1h1z"/><path fill="#0019ff" d="M141 483m-1 0h2v2h-1v-1h-1zM139 487h1v1h1v1h-1v1h-1v-1h-1v-1h1zM209 480m-1 1h3v1h-1v1h-1v-1h-1zM224 481h1v3h-1v-1h-1v-1h1zM304 439m-1 0h2v2h-1v-1h-1zM347 292h1v1h1v1h-1v1h-1v-1h-1v-1h1zM335 314h1v1h1v1h-1v1h-1v-1h-1v-1h1zM342 319h1v1h1v1h-1v1h-1v-1h-1v-1h1zM320 345h1v1h1v1h-3v-1h1zM375 221h1v1h1v1h-1v1h-1v-1h-1v-1h1zM379 223h1v1h1v1h-1v1h-1v-1h-1v-1h1zM379 95m-1 1h3v1h-1v1h-1v-1h-1zM380 88h1v1h1v1h-1v1h-1v-1h-1v-1h1zM398 117h1v3h-1v-1h-1v-1h1z"/><path fill="#0063ff" d="M135 485h1v1h1v1h-1v1h-1v-1h-1v-1h1zM378 265h1v1h1v1h-1v1h-1zM380 143h1v1h1v1h-1v1h-1v-1h-1v-1h1zM380 88h1v1h1v1h-1v1h-1v-1h-1v-1h1zM387 107h1v3h-1v-1h-1v-1h1z"/><path fill="#0012ff" d="M171 484h1v1h1v1h-1v1h-1v-1h-1v-1h1zM224 479h1v1h1v1h-1v1h-1v-1h-1v-1h1zM217 482h1v3h-1v-1h-1v-1h1zM400 164h1v3h-1v-1h-1v-1h1z"/><path fill="#0035ff" d="M104 484h1v1h1v1h-1v1h-1v-1h-1v-1h1zM243 481h1v1h1v1h-1v1h-1v-1h-1v-1h1zM332 333h1v1h1v1h-1v1h-1v-1h-1v-1h1zM379 161h1v3h-1v-1h-1v-1h1zM380 92h1v1h1v1h-1v1h-1v-1h-1v-1h1zM381 141h1v1h1v1h-1v1h-1v-1h-1v-1h1zM398 130h1v3h-1v-1h-1v-1h1z"/><path fill="#0009ff" d="M158 484m-1 1h3v1h-1v1h-1v-1h-1zM306 321h1v1h1v1h-3v-1h1zM381 198m-1 0h2v2h-1v-1h-1zM385 276h1v1h1v1h-3v-1h1zM380 135h1v1h1v1h-1v1h-1v-1h-1v-1h1z"/><path fill="#004dff" d="M173 483h1v1h1v1h-1v1h-1zM112 486h1v1h1v1h-1v1h-1v-1h-1v-1h1zM226 479h1v1h1v1h-1v1h-1v-1h-1v-1h1zM229 481h1v1h1v1h-1v1h-1v-1h-1v-1h1zM348 273m-1 0h2v2h-1v-1h-1z"/><path fill="#001eff" d="M164 484h1v1h1v1h-3v-1h1zM134 484h1v1h1v1h-1v1h-1v-1h-1v-1h1zM161 483h1v1h1v1h-1v1h-1v-1h-1v-1h1zM228 480h1v1h1v1h-1v1h-1v-1h-1v-1h1zM321 268h1v1h1v1h-1v1h-1v-1h-1v-1h1zM359 282h1v1h1v1h-1v1h-1v-1h-1v-1h1zM378 209h1v1h1v1h-1v1h-1v-1h-1v-1h1zM377 89h1v1h1v1h-1v1h-1v-1h-1v-1h1z"/><path fill="#0038ff" d="M164 484m-1 1h3v1h-1v1h-1v-1h-1zM245 479h1v1h1v1h-1v1h-1zM295 460m-1 1h3v1h-1v1h-1v-1h-1zM342 276h1v1h1v1h-1v1h-1zM379 243m-1 1h3v1h-1v1h-1v-1h-1zM379 97h1v1h1v1h-1v1h-1v-1h-1v-1h1zM382 153h1v3h-1v-1h-1v-1h1z"/><path fill="#000fff" d="M106 486h1v1h1v1h-3v-1h1zM328 340h1v1h1v1h-1v1h-1v-1h-1v-1h1zM310 302h1v1h1v1h-1v1h-1v-1h-1v-1h1zM325 332m-1 1h3v1h-1v1h-1v-1h-1zM324 325m-1 1h3v1h-1v1h-1v-1h-1zM367 287m-1 1h3v1h-1v1h-1v-1h-1zM382 165m-1 0h2v2h-1v-1h-1zM379 155h1v3h-1v-1h-1v-1h1z"/><path fill="#0200fe" d="M177 482h1v1h1v1h-1v1h-1zM321 333h1v1h1v1h-1v1h-1v-1h-1v-1h1zM354 289m-1 1h3v1h-1v1h-1v-1h-1zM371 229h1v1h1v1h-1v1h-1zM379 211h1v1h1v1h-1v1h-1v-1h-1v-1h1zM380 110h1v1h1v1h-1v1h-1v-1h-1v-1h1zM395 150h1v3h-1v-1h-1v-1h1z"/><path fill="#0041ff" d="M105 485h1v1h1v1h-3v-1h1zM267 472h1v1h1v1h-1v1h-1v-1h-1v-1h1zM377 223h1v3h-1v-1h-1v-1h1zM378 105h1v1h1v1h-1v1h-1v-1h-1v-1h1zM387 145h1v3h-1v-1h-1v-1h1zM393 99h1v3h-1v-1h-1v-1h1zM384 170h1v1h1v1h-1v1h-1v-1h-1v-1h1z"/><path fill="#0021ff" d="M121 486h1v1h1v1h-1v1h-1v-1h-1v-1h1zM110 486h1v1h1v1h-1v1h-1zM257 472m-1 1h3v1h-1v1h-1v-1h-1zM353 297h1v1h1v1h-1v1h-1zM375 159h1v1h1v1h-1v1h-1v-1h-1v-1h1z"/><path fill="#0011ff" d="M124 487h1v1h1v1h-1v1h-1v-1h-1v-1h1zM118 485m-1 0h2v2h-1v-1h-1zM194 481h1v3h-1v-1h-1v-1h1zM224 480h1v1h1v1h-1v1h-1v-1h-1v-1h1zM335 270m-1 1h3v1h-1v1h-1v-1h-1zM384 87h1v3h-1v-1h-1v-1h1z"/><path fill="#0026ff" d="M114 485h1v3h-1v-1h-1v-1h1zM102 486h1v1h1v1h-3v-1h1zM230 480h1v1h1v1h-1v1h-1v-1h-1v-1h1zM291 463h1v1h1v1h-1v1h-1zM320 285h1v3h-1v-1h-1v-1h1zM323 300h1v1h1v1h-1v1h-1zM336 297h1v1h1v1h-1v1h-1zM338 343h1v1h1v1h-1v1h-1zM381 131h1v1h1v1h-3v-1h1zM380 151m-1 0h2v2h-1v-1h-1zM401 146h1v3h-1v-1h-1v-1h1z"/><path fill="#0002ff" d="M120 485m-1 1h3v1h-1v1h-1v-1h-1zM240 479h1v3h-1v-1h-1v-1h1zM334 329h1v1h1v1h-1v1h-1zM380 214h1v1h1v1h-1v1h-1v-1h-1v-1h1zM370 267h1v1h1v1h-1v1h-1v-1h-1v-1h1zM370 269h1v1h1v1h-1v1h-1v-1h-1v-1h1zM379 93h1v3h-1v-1h-1v-1h1zM379 158m-1 0h2v2h-1v-1h-1zM401 129h1v1h1v1h-1v1h-1v-1h-1v-1h1z"/><path fill="#0037ff" d="M166 484h1v1h1v1h-1v1h-1v-1h-1v-1h1zM326 301h1v1h1v1h-1v1h-1v-1h-1v-1h1zM308 326h1v1h1v1h-1v1h-1v-1h-1v-1h1zM342 292h1v1h1v1h-1v1h-1v-1h-1v-1h1zM358 320m-1 0h2v2h-1v-1h-1zM375 201h1v1h1v1h-1v1h-1v-1h-1v-1h1zM384 214h1v1h1v1h-1v1h-1v-1h-1v-1h1zM379 285h1v1h1v1h-1v1h-1v-1h-1v-1h1zM381 92h1v3h-1v-1h-1v-1h1zM395 106h1v1h1v1h-1v1h-1zM400 149h1v1h1v1h-1v1h-1v-1h-1v-1h1z"/><path fill="#3900d8" d="M140 484h1v1h1v1h-1v1h-1v-1h-1v-1h1z"/><path fill="#0027ff" d="M127 486h1v1h1v1h-1v1h-1v-1h-1v-1h1zM109 484m-1 1h3v1h-1v1h-1v-1h-1zM190 482h1v1h1v1h-3v-1h1zM262 473h1v1h1v1h-1v1h-1v-1h-1v-1h1zM347 270h1v1h1v1h-1v1h-1v-1h-1v-1h1zM380 186h1v1h1v1h-1v1h-1v-1h-1v-1h1zM379 187h1v1h1v1h-1v1h-1v-1h-1v-1h1zM382 109h1v1h1v1h-1v1h-1v-1h-1v-1h1zM381 146h1v3h-1v-1h-1v-1h1zM386 94m-1 1h3v1h-1v1h-1v-1h-1zM384 158h1v1h1v1h-1v1h-1v-1h-1v-1h1zM382 130h1v1h1v1h-1v1h-1v-1h-1v-1h1z"/><path fill="#0004ff" d="M122 486h1v1h1v1h-1v1h-1v-1h-1v-1h1zM187 484h1v1h1v1h-1v1h-1v-1h-1v-1h1zM358 316h1v3h-1v-1h-1v-1h1zM361 318h1v1h1v1h-1v1h-1v-1h-1v-1h1zM398 165m-1 1h3v1h-1v1h-1v-1h-1zM392 163h1v1h1v1h-1v1h-1z"/><path fill="#0096ff" d="M136 485h1v1h1v1h-1v1h-1v-1h-1v-1h1z"/><path fill="#0047ff" d="M179 482h1v1h1v1h-1v1h-1v-1h-1v-1h1zM230 486h1v1h1v1h-3v-1h1zM250 471h1v1h1v1h-3v-1h1zM378 113h1v1h1v1h-1v1h-1v-1h-1v-1h1zM375 146m-1 1h3v1h-1v1h-1v-1h-1zM382 136m-1 0h2v2h-1v-1h-1z"/><path fill="#001fff" d="M128 486h1v1h1v1h-1v1h-1v-1h-1v-1h1zM154 485h1v1h1v1h-1v1h-1v-1h-1v-1h1zM131 486h1v1h1v1h-1v1h-1v-1h-1v-1h1zM250 474m-1 0h2v2h-1v-1h-1zM316 314h1v1h1v1h-1v1h-1zM383 159h1v1h1v1h-1v1h-1v-1h-1v-1h1zM371 283m-1 1h3v1h-1v1h-1v-1h-1zM394 153m-1 1h3v1h-1v1h-1v-1h-1zM388 154h1v1h1v1h-1v1h-1v-1h-1v-1h1z"/><path fill="#001aff" d="M138 485m-1 0h2v2h-1v-1h-1zM122 484h1v3h-1v-1h-1v-1h1zM355 299h1v1h1v1h-1v1h-1v-1h-1v-1h1zM378 219h1v1h1v1h-1v1h-1v-1h-1v-1h1zM377 295h1v1h1v1h-1v1h-1v-1h-1v-1h1zM392 117h1v1h1v1h-1v1h-1v-1h-1v-1h1zM384 124h1v1h1v1h-1v1h-1z"/><path fill="#0039ff" d="M120 486h1v3h-1v-1h-1v-1h1zM196 485m-1 1h3v1h-1v1h-1v-1h-1zM318 455h1v1h1v1h-1v1h-1v-1h-1v-1h1zM235 482h1v1h1v1h-1v1h-1v-1h-1v-1h1zM345 303h1v1h1v1h-1v1h-1v-1h-1v-1h1zM377 217h1v1h1v1h-1v1h-1v-1h-1v-1h1zM381 171h1v1h1v1h-3v-1h1zM374 290m-1 1h3v1h-1v1h-1v-1h-1zM372 306h1v3h-1v-1h-1v-1h1zM388 298m-1 0h2v2h-1v-1h-1z"/><path fill="#0700fb" d="M143 485h1v1h1v1h-1v1h-1v-1h-1v-1h1zM383 165m-1 1h3v1h-1v1h-1v-1h-1zM380 251h1v1h1v1h-1v1h-1v-1h-1v-1h1zM379 120h1v1h1v1h-1v1h-1z"/><path fill="#0100fe" d="M159 484h1v1h1v1h-1v1h-1v-1h-1v-1h1zM347 326h1v1h1v1h-1v1h-1zM356 337h1v1h1v1h-1v1h-1zM385 261h1v1h1v1h-1v1h-1z"/><path fill="#0500fc" d="M112 485h1v1h1v1h-1v1h-1v-1h-1v-1h1zM302 439h1v1h1v1h-1v1h-1v-1h-1v-1h1zM307 439h1v3h-1v-1h-1v-1h1zM329 281h1v1h1v1h-1v1h-1v-1h-1v-1h1zM375 211h1v1h1v1h-1v1h-1v-1h-1v-1h1z"/><path fill="#004bff" d="M166 485h1v1h1v1h-1v1h-1v-1h-1v-1h1zM380 124m-1 0h2v2h-1v-1h-1zM386 110m-1 1h3v1h-1v1h-1v-1h-1zM389 96h1v1h1v1h-1v1h-1z"/><path fill="#003cff" d="M141 483h1v1h1v1h-1v1h-1v-1h-1v-1h1zM227 481h1v1h1v1h-1v1h-1zM310 462h1v1h1v1h-1v1h-1v-1h-1v-1h1zM307 303h1v1h1v1h-3v-1h1zM348 295h1v1h1v1h-1v1h-1v-1h-1v-1h1zM341 330h1v1h1v1h-1v1h-1zM357 316h1v1h1v1h-1v1h-1v-1h-1v-1h1zM383 166m-1 1h3v1h-1v1h-1v-1h-1zM376 298m-1 1h3v1h-1v1h-1v-1h-1zM375 281h1v1h1v1h-1v1h-1v-1h-1v-1h1zM381 157h1v1h1v1h-1v1h-1zM384 93h1v1h1v1h-1v1h-1v-1h-1v-1h1z"/><path fill="#0500fd" d="M172 483h1v1h1v1h-1v1h-1v-1h-1v-1h1zM306 307h1v1h1v1h-1v1h-1v-1h-1v-1h1zM342 294h1v1h1v1h-1v1h-1v-1h-1v-1h1zM377 90h1v1h1v1h-1v1h-1v-1h-1v-1h1z"/><path fill="#0007ff" d="M168 482h1v3h-1v-1h-1v-1h1zM238 484h1v1h1v1h-1v1h-1v-1h-1v-1h1zM257 473h1v3h-1v-1h-1v-1h1zM346 341h1v1h1v1h-1v1h-1v-1h-1v-1h1zM383 101h1v1h1v1h-1v1h-1v-1h-1v-1h1zM393 172h1v1h1v1h-1v1h-1v-1h-1v-1h1z"/><path fill="#0074ff" d="M150 483m-1 0h2v2h-1v-1h-1zM398 102h1v1h1v1h-1v1h-1zM402 162h1v3h-1v-1h-1v-1h1z"/><path fill="#0300fd" d="M156 485h1v1h1v1h-1v1h-1v-1h-1v-1h1zM312 432h1v1h1v1h-1v1h-1v-1h-1v-1h1zM380 203h1v3h-1v-1h-1v-1h1zM379 155h1v1h1v1h-1v1h-1v-1h-1v-1h1z"/><path fill="#001cff" d="M124 485m-1 1h3v1h-1v1h-1v-1h-1zM303 464h1v1h1v1h-1v1h-1v-1h-1v-1h1zM337 322h1v1h1v1h-1v1h-1v-1h-1v-1h1zM336 346m-1 0h2v2h-1v-1h-1zM374 235h1v1h1v1h-1v1h-1zM369 274h1v1h1v1h-1v1h-1v-1h-1v-1h1zM390 152m-1 1h3v1h-1v1h-1v-1h-1z"/><path fill="#0048ff" d="M138 486h1v1h1v1h-1v1h-1v-1h-1v-1h1zM292 459h1v1h1v1h-1v1h-1v-1h-1v-1h1zM313 457m-1 1h3v1h-1v1h-1v-1h-1zM378 156h1v1h1v1h-1v1h-1v-1h-1v-1h1zM396 146h1v1h1v1h-1v1h-1v-1h-1v-1h1z"/><path fill="#0025ff" d="M178 484h1v1h1v1h-1v1h-1v-1h-1v-1h1zM188 482h1v3h-1v-1h-1v-1h1zM272 464h1v1h1v1h-1v1h-1v-1h-1v-1h1zM381 188h1v1h1v1h-1v1h-1v-1h-1v-1h1zM390 159h1v3h-1v-1h-1v-1h1z"/><path fill="#001bff" d="M167 484h1v1h1v1h-1v1h-1v-1h-1v-1h1zM123 482m-1 0h2v2h-1v-1h-1zM323 333m-1 1h3v1h-1v1h-1v-1h-1zM376 223h1v3h-1v-1h-1v-1h1zM373 278h1v1h1v1h-1v1h-1v-1h-1v-1h1zM378 97h1v1h1v1h-1v1h-1zM381 98h1v1h1v1h-1v1h-1v-1h-1v-1h1z"/><path fill="#005cff" d="M178 483h1v1h1v1h-1v1h-1v-1h-1v-1h1zM202 484h1v1h1v1h-1v1h-1v-1h-1v-1h1zM379 189h1v3h-1v-1h-1v-1h1zM376 175h1v3h-1v-1h-1v-1h1z"/><path fill="#005aff" d="M109 485h1v1h1v1h-1v1h-1v-1h-1v-1h1zM244 475h1v1h1v1h-1v1h-1v-1h-1v-1h1zM341 269h1v1h1v1h-1v1h-1zM373 300m-1 1h3v1h-1v1h-1v-1h-1zM384 106h1v1h1v1h-1v1h-1v-1h-1v-1h1zM388 147h1v1h1v1h-1v1h-1v-1h-1v-1h1z"/><path fill="#0023ff" d="M118 484h1v1h1v1h-1v1h-1v-1h-1v-1h1zM376 248h1v1h1v1h-1v1h-1v-1h-1v-1h1zM378 131h1v1h1v1h-1v1h-1v-1h-1v-1h1zM396 119h1v1h1v1h-1v1h-1v-1h-1v-1h1zM401 124m-1 0h2v2h-1v-1h-1z"/><path fill="#002bff" d="M139 484h1v1h1v1h-1v1h-1v-1h-1v-1h1zM331 293m-1 1h3v1h-1v1h-1v-1h-1zM353 334h1v3h-1v-1h-1v-1h1zM394 161h1v1h1v1h-1v1h-1z"/><path fill="#000bff" d="M161 485h1v1h1v1h-1v1h-1zM217 481h1v1h1v1h-1v1h-1v-1h-1v-1h1zM324 326h1v1h1v1h-1v1h-1v-1h-1v-1h1zM338 283h1v1h1v1h-1v1h-1v-1h-1v-1h1zM350 314h1v1h1v1h-1v1h-1v-1h-1v-1h1zM379 141h1v1h1v1h-1v1h-1v-1h-1v-1h1z"/><path fill="#0034ff" d="M128 485h1v3h-1v-1h-1v-1h1zM203 481m-1 0h2v2h-1v-1h-1zM354 289h1v1h1v1h-1v1h-1zM378 193h1v3h-1v-1h-1v-1h1zM381 152m-1 1h3v1h-1v1h-1v-1h-1z"/><path fill="#008aff" d="M168 483h1v1h1v1h-1v1h-1v-1h-1v-1h1zM368 281h1v1h1v1h-1v1h-1v-1h-1v-1h1zM380 183h1v1h1v1h-1v1h-1v-1h-1v-1h1zM388 121h1v3h-1v-1h-1v-1h1z"/><path fill="#0a00fa" d="M152 483h1v1h1v1h-1v1h-1v-1h-1v-1h1zM318 435h1v1h1v1h-1v1h-1v-1h-1v-1h1zM362 294m-1 1h3v1h-1v1h-1v-1h-1zM353 304h1v1h1v1h-1v1h-1z"/><path fill="#1900f2" d="M116 488h1v1h1v1h-1v1h-1zM371 306m-1 1h3v1h-1v1h-1v-1h-1z"/><path fill="#0046ff" d="M103 489h1v1h1v1h-1v1h-1v-1h-1v-1h1zM196 481h1v1h1v1h-1v1h-1zM316 294h1v1h1v1h-3v-1h1zM367 308m-1 1h3v1h-1v1h-1v-1h-1z"/><path fill="#0015ff" d="M200 479h1v1h1v1h-1v1h-1v-1h-1v-1h1zM275 467m-1 1h3v1h-1v1h-1v-1h-1zM380 229h1v1h1v1h-1v1h-1v-1h-1v-1h1zM391 139h1v3h-1v-1h-1v-1h1zM387 174m-1 0h2v2h-1v-1h-1z"/><path fill="#2700eb" d="M190 483m-1 1h3v1h-1v1h-1v-1h-1z"/><path fill="#0036ff" d="M206 475h1v3h-1v-1h-1v-1h1zM250 479h1v1h1v1h-1v1h-1zM269 470h1v1h1v1h-1v1h-1v-1h-1v-1h1zM313 337m-1 0h2v2h-1v-1h-1zM376 210m-1 1h3v1h-1v1h-1v-1h-1zM382 170h1v1h1v1h-1v1h-1v-1h-1v-1h1zM382 168h1v1h1v1h-1v1h-1v-1h-1v-1h1zM379 102h1v1h1v1h-1v1h-1v-1h-1v-1h1zM378 86m-1 1h3v1h-1v1h-1v-1h-1z"/><path fill="#0057ff" d="M194 480h1v3h-1v-1h-1v-1h1zM375 216h1v1h1v1h-1v1h-1v-1h-1v-1h1zM381 169m-1 0h2v2h-1v-1h-1zM400 153h1v1h1v1h-1v1h-1v-1h-1v-1h1z"/><path fill="#006cff" d="M207 475h1v1h1v1h-1v1h-1v-1h-1v-1h1zM199 484h1v1h1v1h-1v1h-1v-1h-1v-1h1zM339 302m-1 0h2v2h-1v-1h-1zM378 158h1v1h1v1h-1v1h-1v-1h-1v-1h1zM397 123h1v1h1v1h-3v-1h1z"/><path fill="#0056ff" d="M203 476m-1 1h3v1h-1v1h-1v-1h-1zM222 478m-1 1h3v1h-1v1h-1v-1h-1zM353 301m-1 1h3v1h-1v1h-1v-1h-1zM362 293h1v1h1v1h-1v1h-1v-1h-1v-1h1zM373 302h1v1h1v1h-3v-1h1zM376 152m-1 0h2v2h-1v-1h-1zM383 91h1v1h1v1h-1v1h-1z"/><path fill="#0065ff" d="M188 483m-1 1h3v1h-1v1h-1v-1h-1zM236 480h1v1h1v1h-1v1h-1v-1h-1v-1h1zM358 296h1v1h1v1h-1v1h-1zM338 302h1v1h1v1h-1v1h-1v-1h-1v-1h1zM383 237h1v1h1v1h-3v-1h1z"/><path fill="#006fff" d="M184 486h1v1h1v1h-1v1h-1v-1h-1v-1h1zM332 316m-1 1h3v1h-1v1h-1v-1h-1zM384 105h1v1h1v1h-1v1h-1zM401 169h1v1h1v1h-1v1h-1v-1h-1v-1h1zM400 167m-1 1h3v1h-1v1h-1v-1h-1z"/><path fill="#0051ff" d="M193 481h1v1h1v1h-1v1h-1v-1h-1v-1h1zM250 474h1v1h1v1h-1v1h-1v-1h-1v-1h1zM382 189h1v1h1v1h-1v1h-1v-1h-1v-1h1zM387 275m-1 0h2v2h-1v-1h-1z"/><path fill="#0020ff" d="M201 483m-1 0h2v2h-1v-1h-1zM235 482h1v3h-1v-1h-1v-1h1zM252 471h1v1h1v1h-1v1h-1v-1h-1v-1h1zM340 286h1v3h-1v-1h-1v-1h1zM349 324h1v3h-1v-1h-1v-1h1zM359 314h1v1h1v1h-1v1h-1v-1h-1v-1h1zM377 239m-1 1h3v1h-1v1h-1v-1h-1zM378 304h1v1h1v1h-1v1h-1zM372 297h1v1h1v1h-1v1h-1v-1h-1v-1h1zM379 108h1v1h1v1h-1v1h-1v-1h-1v-1h1z"/><path fill="#0024ff" d="M198 484h1v1h1v1h-1v1h-1v-1h-1v-1h1zM267 472h1v1h1v1h-1v1h-1v-1h-1v-1h1zM319 337h1v1h1v1h-1v1h-1v-1h-1v-1h1zM351 338m-1 1h3v1h-1v1h-1v-1h-1zM375 238h1v1h1v1h-1v1h-1v-1h-1v-1h1zM376 264m-1 1h3v1h-1v1h-1v-1h-1zM387 296h1v1h1v1h-1v1h-1v-1h-1v-1h1zM379 86m-1 1h3v1h-1v1h-1v-1h-1zM394 144h1v1h1v1h-1v1h-1v-1h-1v-1h1zM394 170h1v3h-1v-1h-1v-1h1z"/><path fill="#004aff" d="M228 480h1v1h1v1h-1v1h-1v-1h-1v-1h1zM320 457h1v3h-1v-1h-1v-1h1zM327 309h1v1h1v1h-1v1h-1v-1h-1v-1h1zM371 259m-1 0h2v2h-1v-1h-1zM397 99m-1 1h3v1h-1v1h-1v-1h-1zM396 149h1v1h1v1h-1v1h-1v-1h-1v-1h1z"/><path fill="#2d00e6" d="M209 483h1v1h1v1h-1v1h-1v-1h-1v-1h1zM326 301m-1 1h3v1h-1v1h-1v-1h-1z"/><path fill="#0900fa" d="M202 483h1v3h-1v-1h-1v-1h1zM317 321h1v3h-1v-1h-1v-1h1zM386 287h1v3h-1v-1h-1v-1h1zM379 112h1v1h1v1h-1v1h-1v-1h-1v-1h1z"/><path fill="#0013ff" d="M209 482m-1 0h2v2h-1v-1h-1zM314 300h1v1h1v1h-1v1h-1zM330 308h1v1h1v1h-1v1h-1zM379 104h1v1h1v1h-1v1h-1v-1h-1v-1h1z"/><path fill="#00a6ff" d="M215 480h1v1h1v1h-1v1h-1v-1h-1v-1h1zM403 122m-1 1h3v1h-1v1h-1v-1h-1z"/><path fill="#004eff" d="M203 482h1v1h1v1h-3v-1h1zM305 297m-1 1h3v1h-1v1h-1v-1h-1zM355 297m-1 1h3v1h-1v1h-1v-1h-1zM379 241h1v1h1v1h-1v1h-1v-1h-1v-1h1zM368 283h1v1h1v1h-3v-1h1zM381 109h1v1h1v1h-1v1h-1v-1h-1v-1h1zM396 166h1v1h1v1h-1v1h-1v-1h-1v-1h1z"/><path fill="#0010ff" d="M202 481h1v3h-1v-1h-1v-1h1zM350 301h1v1h1v1h-3v-1h1zM351 338h1v3h-1v-1h-1v-1h1zM379 151m-1 1h3v1h-1v1h-1v-1h-1zM401 148h1v3h-1v-1h-1v-1h1z"/><path fill="#1900f3" d="M224 482h1v1h1v1h-1v1h-1v-1h-1v-1h1zM239 479m-1 1h3v1h-1v1h-1v-1h-1zM380 115h1v1h1v1h-1v1h-1v-1h-1v-1h1zM399 159h1v1h1v1h-1v1h-1v-1h-1v-1h1z"/><path fill="#005bff" d="M197 483h1v1h1v1h-1v1h-1v-1h-1v-1h1zM252 477m-1 1h3v1h-1v1h-1v-1h-1zM365 285h1v1h1v1h-1v1h-1v-1h-1v-1h1zM378 180h1v1h1v1h-1v1h-1v-1h-1v-1h1zM379 158h1v3h-1v-1h-1v-1h1z"/><path fill="#0033ff" d="M203 483m-1 1h3v1h-1v1h-1v-1h-1zM233 481h1v1h1v1h-1v1h-1v-1h-1v-1h1zM341 297h1v1h1v1h-1v1h-1v-1h-1v-1h1zM379 97h1v1h1v1h-1v1h-1v-1h-1v-1h1zM381 115h1v1h1v1h-1v1h-1v-1h-1v-1h1zM377 113h1v1h1v1h-1v1h-1v-1h-1v-1h1zM396 149h1v1h1v1h-3v-1h1z"/><path fill="#5200a0" d="M140 477m-1 0h2v2h-1v-1h-1zM165 476h1v3h-1v-1h-1v-1h1zM193 455h1v1h1v1h-3v-1h1zM193 476h1v1h1v1h-1v1h-1v-1h-1v-1h1zM206 452h1v1h1v1h-1v1h-1zM209 453h1v1h1v1h-1v1h-1v-1h-1v-1h1zM217 485h1v3h-1v-1h-1v-1h1zM296 436m-1 1h3v1h-1v1h-1v-1h-1zM298 441h1v1h1v1h-3v-1h1zM295 446h1v1h1v1h-1v1h-1v-1h-1v-1h1zM304 448h1v1h1v1h-1v1h-1zM308 383h1v1h1v1h-1v1h-1v-1h-1v-1h1zM308 403m-1 1h3v1h-1v1h-1v-1h-1zM305 421m-1 0h2v2h-1v-1h-1zM334 480h1v1h1v1h-1v1h-1v-1h-1v-1h1zM341 486h1v1h1v1h-1v1h-1v-1h-1v-1h1zM381 483h1v1h1v1h-1v1h-1v-1h-1v-1h1zM382 485h1v1h1v1h-1v1h-1v-1h-1v-1h1zM380 493h1v1h1v1h-1v1h-1v-1h-1v-1h1zM328 443h1v1h1v1h-3v-1h1zM304 478h1v1h1v1h-1v1h-1zM382 487h1v1h1v1h-1v1h-1v-1h-1v-1h1zM351 201h1v1h1v1h-1v1h-1v-1h-1v-1h1zM424 128m-1 1h3v1h-1v1h-1v-1h-1zM415 175h1v1h1v1h-1v1h-1v-1h-1v-1h1zM421 211h1v1h1v1h-1v1h-1v-1h-1v-1h1zM565 346m-1 0h2v2h-1v-1h-1z"/><path fill="#007eff" d="M175 462h1v1h1v1h-1v1h-1v-1h-1v-1h1zM215 452h1v1h1v1h-1v1h-1v-1h-1v-1h1zM215 455m-1 0h2v2h-1v-1h-1zM223 466m-1 0h2v2h-1v-1h-1zM225 466h1v1h1v1h-1v1h-1v-1h-1v-1h1zM210 472h1v1h1v1h-1v1h-1v-1h-1v-1h1zM232 457h1v1h1v1h-1v1h-1v-1h-1v-1h1zM236 461m-1 0h2v2h-1v-1h-1zM80 481h1v1h1v1h-3v-1h1zM81 488h1v1h1v1h-1v1h-1v-1h-1v-1h1zM242 461h1v1h1v1h-1v1h-1zM259 466h1v1h1v1h-1v1h-1v-1h-1v-1h1zM284 454h1v1h1v1h-1v1h-1v-1h-1v-1h1zM376 469h1v1h1v1h-1v1h-1v-1h-1v-1h1zM387 475h1v1h1v1h-3v-1h1zM379 480m-1 0h2v2h-1v-1h-1zM381 480h1v1h1v1h-1v1h-1v-1h-1v-1h1zM405 482h1v3h-1v-1h-1v-1h1zM317 250h1v1h1v1h-1v1h-1v-1h-1v-1h1zM383 167h1v1h1v1h-3v-1h1zM382 199h1v1h1v1h-1v1h-1v-1h-1v-1h1zM378 111h1v1h1v1h-1v1h-1v-1h-1v-1h1zM524 94h1v1h1v1h-1v1h-1zM561 154h1v1h1v1h-1v1h-1zM495 314h1v3h-1v-1h-1v-1h1zM561 404m-1 0h2v2h-1v-1h-1zM376 469h1v3h-1v-1h-1v-1h1z"/><path fill="#00f8ff" d="M192 472h1v1h1v1h-1v1h-1v-1h-1v-1h1zM181 490h1v3h-1v-1h-1v-1h1zM286 411m-1 0h2v2h-1v-1h-1zM289 435h1v1h1v1h-1v1h-1v-1h-1v-1h1zM285 443h1v1h1v1h-1v1h-1v-1h-1v-1h1zM293 450h1v1h1v1h-1v1h-1v-1h-1v-1h1zM304 391h1v1h1v1h-1v1h-1v-1h-1v-1h1zM310 416h1v3h-1v-1h-1v-1h1zM276 487h1v1h1v1h-1v1h-1v-1h-1v-1h1zM297 477h1v1h1v1h-1v1h-1v-1h-1v-1h1zM304 477h1v1h1v1h-1v1h-1v-1h-1v-1h1zM324 484h1v3h-1v-1h-1v-1h1zM377 484h1v1h1v1h-1v1h-1zM378 485h1v1h1v1h-1v1h-1v-1h-1v-1h1zM279 351h1v3h-1v-1h-1v-1h1zM344 193h1v1h1v1h-3v-1h1zM394 270m-1 1h3v1h-1v1h-1v-1h-1zM495 465m-1 0h2v2h-1v-1h-1z"/><path fill="#00ff04" d="M165 502h1v1h1v1h-1v1h-1v-1h-1v-1h1zM293 383m-1 0h2v2h-1v-1h-1zM321 473h1v3h-1v-1h-1v-1h1zM404 482h1v1h1v1h-1v1h-1v-1h-1v-1h1zM378 109h1v3h-1v-1h-1v-1h1zM404 134h1v1h1v1h-1v1h-1v-1h-1v-1h1zM423 122m-1 0h2v2h-1v-1h-1zM420 132h1v1h1v1h-1v1h-1v-1h-1v-1h1zM446 202m-1 1h3v1h-1v1h-1v-1h-1z"/><path fill="#ff7e00" d="M118 484m-1 1h3v1h-1v1h-1v-1h-1zM266 429h1v1h1v1h-1v1h-1v-1h-1v-1h1zM344 445m-1 1h3v1h-1v1h-1v-1h-1zM348 451h1v1h1v1h-1v1h-1v-1h-1v-1h1zM340 457h1v1h1v1h-1v1h-1v-1h-1v-1h1zM334 456h1v1h1v1h-1v1h-1zM361 447h1v1h1v1h-1v1h-1v-1h-1v-1h1zM367 451h1v1h1v1h-1v1h-1v-1h-1v-1h1zM370 461h1v3h-1v-1h-1v-1h1zM381 457h1v1h1v1h-1v1h-1v-1h-1v-1h1zM320 480h1v1h1v1h-1v1h-1v-1h-1v-1h1zM403 486m-1 1h3v1h-1v1h-1v-1h-1zM314 350h1v1h1v1h-1v1h-1v-1h-1v-1h1zM393 88h1v1h1v1h-3v-1h1zM396 114m-1 0h2v2h-1v-1h-1zM433 123h1v1h1v1h-1v1h-1v-1h-1v-1h1zM425 124h1v1h1v1h-1v1h-1v-1h-1v-1h1zM423 127h1v3h-1v-1h-1v-1h1zM426 135h1v1h1v1h-1v1h-1v-1h-1v-1h1zM377 320m-1 0h2v2h-1v-1h-1zM405 335h1v1h1v1h-1v1h-1v-1h-1v-1h1zM440 261h1v1h1v1h-1v1h-1v-1h-1v-1h1zM598 159h1v1h1v1h-1v1h-1zM619 227h1v1h1v1h-3v-1h1zM645 169h1v1h1v1h-1v1h-1v-1h-1v-1h1zM645 176h1v1h1v1h-1v1h-1v-1h-1v-1h1zM645 196m-1 1h3v1h-1v1h-1v-1h-1zM645 200h1v1h1v1h-1v1h-1v-1h-1v-1h1zM645 204m-1 1h3v1h-1v1h-1v-1h-1zM645 209h1v1h1v1h-1v1h-1v-1h-1v-1h1zM645 217h1v1h1v1h-1v1h-1v-1h-1v-1h1zM645 221h1v1h1v1h-3v-1h1zM645 226h1v1h1v1h-1v1h-1v-1h-1v-1h1zM645 230h1v1h1v1h-1v1h-1v-1h-1v-1h1zM645 246h1v1h1v1h-1v1h-1v-1h-1v-1h1zM645 267h1v1h1v1h-3v-1h1zM645 273h1v1h1v1h-1v1h-1v-1h-1v-1h1zM645 279h1v1h1v1h-1v1h-1v-1h-1v-1h1zM645 285h1v1h1v1h-1v1h-1v-1h-1v-1h1zM441 260h1v1h1v1h-3v-1h1zM360 447h1v1h1v1h-1v1h-1zM371 462h1v1h1v1h-1v1h-1zM381 457h1v1h1v1h-1v1h-1v-1h-1v-1h1z"/><path fill="#0054ff" d="M314 458h1v1h1v1h-1v1h-1v-1h-1v-1h1zM320 325h1v1h1v1h-1v1h-1v-1h-1v-1h1zM376 181m-1 1h3v1h-1v1h-1v-1h-1zM374 309h1v1h1v1h-1v1h-1v-1h-1v-1h1zM369 291h1v1h1v1h-1v1h-1v-1h-1v-1h1zM384 273m-1 1h3v1h-1v1h-1v-1h-1z"/><path fill="#0069ff" d="M271 467h1v3h-1v-1h-1v-1h1zM368 305m-1 1h3v1h-1v1h-1v-1h-1zM371 309h1v1h1v1h-3v-1h1z"/><path fill="#0001ff" d="M291 461h1v1h1v1h-1v1h-1v-1h-1v-1h1zM265 471h1v1h1v1h-1v1h-1v-1h-1v-1h1zM324 273h1v1h1v1h-1v1h-1v-1h-1v-1h1zM375 221h1v1h1v1h-1v1h-1v-1h-1v-1h1zM371 300h1v1h1v1h-1v1h-1v-1h-1v-1h1zM377 127h1v1h1v1h-1v1h-1v-1h-1v-1h1zM379 125h1v1h1v1h-1v1h-1v-1h-1v-1h1zM382 98h1v1h1v1h-1v1h-1zM386 121h1v1h1v1h-1v1h-1v-1h-1v-1h1z"/><path fill="#2a00e8" d="M279 464h1v1h1v1h-3v-1h1zM370 249m-1 1h3v1h-1v1h-1v-1h-1z"/><path fill="#00c1ff" d="M321 454m-1 1h3v1h-1v1h-1v-1h-1z"/><path fill="#3b00d4" d="M254 473h1v1h1v1h-1v1h-1zM350 325h1v1h1v1h-1v1h-1v-1h-1v-1h1z"/><path fill="#00adff" d="M233 480h1v1h1v1h-1v1h-1v-1h-1v-1h1zM401 160h1v1h1v1h-1v1h-1v-1h-1v-1h1z"/><path fill="#003bff" d="M232 481h1v1h1v1h-1v1h-1v-1h-1v-1h1zM306 458h1v1h1v1h-1v1h-1v-1h-1v-1h1zM384 177m-1 1h3v1h-1v1h-1v-1h-1zM368 303m-1 1h3v1h-1v1h-1v-1h-1zM400 133h1v1h1v1h-1v1h-1v-1h-1v-1h1z"/><path fill="#003eff" d="M291 463m-1 1h3v1h-1v1h-1v-1h-1zM337 295h1v1h1v1h-1v1h-1v-1h-1v-1h1zM339 304h1v1h1v1h-1v1h-1zM373 264h1v1h1v1h-1v1h-1v-1h-1v-1h1zM380 270h1v1h1v1h-1v1h-1v-1h-1v-1h1zM375 299h1v1h1v1h-1v1h-1v-1h-1v-1h1zM380 263h1v3h-1v-1h-1v-1h1zM384 128h1v1h1v1h-1v1h-1z"/><path fill="#009eff" d="M322 458h1v1h1v1h-1v1h-1z"/><path fill="#00e1ff" d="M308 461h1v1h1v1h-1v1h-1v-1h-1v-1h1z"/><path fill="#00b6ff" d="M247 478h1v1h1v1h-1v1h-1v-1h-1v-1h1z"/><path fill="#003fff" d="M303 459h1v1h1v1h-1v1h-1v-1h-1v-1h1zM316 299h1v1h1v1h-1v1h-1v-1h-1v-1h1zM347 269m-1 0h2v2h-1v-1h-1zM325 319h1v1h1v1h-1v1h-1v-1h-1v-1h1zM356 291h1v1h1v1h-1v1h-1v-1h-1v-1h1zM379 181h1v1h1v1h-1v1h-1zM378 175m-1 0h2v2h-1v-1h-1zM379 254h1v1h1v1h-1v1h-1v-1h-1v-1h1zM378 95h1v1h1v1h-1v1h-1v-1h-1v-1h1zM384 104h1v3h-1v-1h-1v-1h1zM392 99h1v1h1v1h-1v1h-1v-1h-1v-1h1zM389 137h1v1h1v1h-1v1h-1v-1h-1v-1h1z"/><path fill="#0058ff" d="M264 473h1v1h1v1h-3v-1h1zM237 480h1v1h1v1h-1v1h-1v-1h-1v-1h1zM318 292h1v1h1v1h-1v1h-1v-1h-1v-1h1zM378 277h1v1h1v1h-1v1h-1v-1h-1v-1h1zM376 308h1v1h1v1h-1v1h-1v-1h-1v-1h1zM380 137h1v1h1v1h-1v1h-1v-1h-1v-1h1zM379 126h1v1h1v1h-1v1h-1v-1h-1v-1h1z"/><path fill="#004cff" d="M250 473m-1 0h2v2h-1v-1h-1zM381 160h1v1h1v1h-1v1h-1zM377 228h1v3h-1v-1h-1v-1h1zM380 176h1v1h1v1h-1v1h-1v-1h-1v-1h1zM380 102h1v1h1v1h-1v1h-1v-1h-1v-1h1z"/><path fill="#00a7ff" d="M276 469m-1 1h3v1h-1v1h-1v-1h-1zM358 275h1v1h1v1h-1v1h-1v-1h-1v-1h1z"/><path fill="#0b00fa" d="M253 474h1v1h1v1h-1v1h-1v-1h-1v-1h1zM319 304m-1 0h2v2h-1v-1h-1zM335 334h1v1h1v1h-1v1h-1v-1h-1v-1h1z"/><path fill="#1a00f2" d="M316 458h1v1h1v1h-1v1h-1v-1h-1v-1h1zM290 461m-1 0h2v2h-1v-1h-1zM378 246m-1 1h3v1h-1v1h-1v-1h-1zM385 136h1v1h1v1h-1v1h-1v-1h-1v-1h1z"/><path fill="#1e00f0" d="M231 480h1v1h1v1h-1v1h-1v-1h-1v-1h1zM302 443h1v3h-1v-1h-1v-1h1zM306 328h1v1h1v1h-1v1h-1v-1h-1v-1h1zM379 197h1v1h1v1h-1v1h-1v-1h-1v-1h1z"/><path fill="#0050ff" d="M273 468h1v3h-1v-1h-1v-1h1zM343 279h1v1h1v1h-3v-1h1zM379 265m-1 1h3v1h-1v1h-1v-1h-1zM379 139h1v1h1v1h-3v-1h1z"/><path fill="#0081ff" d="M314 459h1v1h1v1h-1v1h-1v-1h-1v-1h1zM232 480h1v1h1v1h-1v1h-1v-1h-1v-1h1z"/><path fill="#4800c2" d="M295 458h1v1h1v1h-1v1h-1zM336 341h1v1h1v1h-1v1h-1v-1h-1v-1h1z"/><path fill="#0017ff" d="M298 459h1v1h1v1h-1v1h-1zM347 302h1v1h1v1h-1v1h-1v-1h-1v-1h1zM355 291h1v1h1v1h-1v1h-1v-1h-1v-1h1zM345 329h1v1h1v1h-1v1h-1v-1h-1v-1h1zM379 180m-1 1h3v1h-1v1h-1v-1h-1zM375 216h1v1h1v1h-1v1h-1v-1h-1v-1h1zM370 307h1v1h1v1h-1v1h-1v-1h-1v-1h1zM372 266h1v1h1v1h-1v1h-1v-1h-1v-1h1z"/><path fill="#0092ff" d="M232 486h1v1h1v1h-1v1h-1v-1h-1v-1h1zM370 309h1v1h1v1h-1v1h-1v-1h-1v-1h1zM370 312h1v1h1v1h-1v1h-1v-1h-1v-1h1z"/><path fill="#0095ff" d="M263 472m-1 0h2v2h-1v-1h-1zM317 302h1v3h-1v-1h-1v-1h1z"/><path fill="#1700f4" d="M234 484h1v1h1v1h-3v-1h1zM325 323h1v1h1v1h-1v1h-1v-1h-1v-1h1zM397 97h1v1h1v1h-1v1h-1v-1h-1v-1h1z"/><path fill="#0031ff" d="M258 472h1v1h1v1h-1v1h-1v-1h-1v-1h1zM339 304h1v3h-1v-1h-1v-1h1zM349 320h1v1h1v1h-1v1h-1v-1h-1v-1h1zM381 210h1v1h1v1h-1v1h-1v-1h-1v-1h1zM370 279h1v1h1v1h-1v1h-1v-1h-1v-1h1zM384 267h1v1h1v1h-1v1h-1v-1h-1v-1h1z"/><path fill="#0400fd" d="M262 470h1v1h1v1h-1v1h-1v-1h-1v-1h1zM255 474h1v1h1v1h-1v1h-1v-1h-1v-1h1zM324 276m-1 0h2v2h-1v-1h-1zM324 268h1v3h-1v-1h-1v-1h1zM308 330h1v1h1v1h-1v1h-1v-1h-1v-1h1zM344 316h1v1h1v1h-1v1h-1v-1h-1v-1h1zM332 316h1v1h1v1h-1v1h-1v-1h-1v-1h1zM378 129m-1 0h2v2h-1v-1h-1z"/><path fill="#0084ff" d="M267 471h1v1h1v1h-1v1h-1v-1h-1v-1h1z"/><path fill="#00a0ff" d="M243 479h1v1h1v1h-1v1h-1zM363 284h1v3h-1v-1h-1v-1h1zM380 92h1v1h1v1h-3v-1h1zM400 126h1v1h1v1h-1v1h-1v-1h-1v-1h1z"/><path fill="#0032ff" d="M238 483h1v1h1v1h-1v1h-1v-1h-1v-1h1zM355 297h1v1h1v1h-1v1h-1v-1h-1v-1h1zM347 340h1v1h1v1h-1v1h-1v-1h-1v-1h1zM382 164h1v1h1v1h-3v-1h1zM377 162h1v1h1v1h-1v1h-1v-1h-1v-1h1z"/><path fill="#1f00ef" d="M235 481h1v1h1v1h-1v1h-1z"/><path fill="#008fff" d="M247 474m-1 1h3v1h-1v1h-1v-1h-1zM378 148h1v1h1v1h-1v1h-1v-1h-1v-1h1z"/><path fill="#0064ff" d="M254 474h1v1h1v1h-1v1h-1v-1h-1v-1h1zM340 280h1v1h1v1h-1v1h-1v-1h-1v-1h1zM377 125h1v1h1v1h-1v1h-1v-1h-1v-1h1zM397 155h1v1h1v1h-1v1h-1v-1h-1v-1h1zM393 124m-1 1h3v1h-1v1h-1v-1h-1z"/><path fill="#5000a8" d="M309 438h1v1h1v1h-1v1h-1v-1h-1v-1h1zM399 149h1v1h1v1h-1v1h-1v-1h-1v-1h1z"/><path fill="#4200cd" d="M303 441h1v1h1v1h-1v1h-1v-1h-1v-1h1zM338 263m-1 1h3v1h-1v1h-1v-1h-1zM381 89h1v1h1v1h-1v1h-1v-1h-1v-1h1z"/><path fill="#3500dc" d="M301 443h1v3h-1v-1h-1v-1h1zM300 444h1v1h1v1h-1v1h-1v-1h-1v-1h1z"/><path fill="#2100ee" d="M308 435h1v3h-1v-1h-1v-1h1zM345 296h1v3h-1v-1h-1v-1h1zM401 115h1v1h1v1h-1v1h-1v-1h-1v-1h1z"/><path fill="#5200a1" d="M297 446h1v1h1v1h-1v1h-1v-1h-1v-1h1zM308 440h1v1h1v1h-1v1h-1v-1h-1v-1h1zM389 167h1v3h-1v-1h-1v-1h1z"/><path fill="#2600ec" d="M314 432h1v1h1v1h-1v1h-1v-1h-1v-1h1zM379 140h1v1h1v1h-1v1h-1v-1h-1v-1h1z"/><path fill="#1100f7" d="M299 444h1v1h1v1h-3v-1h1zM325 277h1v1h1v1h-1v1h-1v-1h-1v-1h1zM358 324h1v1h1v1h-1v1h-1v-1h-1v-1h1zM371 300h1v1h1v1h-1v1h-1v-1h-1v-1h1z"/><path fill="#3500db" d="M303 441h1v1h1v1h-1v1h-1v-1h-1v-1h1zM374 238h1v1h1v1h-1v1h-1v-1h-1v-1h1z"/><path fill="#540091" d="M302 440h1v1h1v1h-1v1h-1v-1h-1v-1h1z"/><path fill="#2500ec" d="M288 449h1v3h-1v-1h-1v-1h1zM364 284m-1 1h3v1h-1v1h-1v-1h-1z"/><path fill="#1500f4" d="M310 437h1v1h1v1h-1v1h-1z"/><path fill="#1400f5" d="M314 434m-1 0h2v2h-1v-1h-1zM313 290h1v1h1v1h-1v1h-1v-1h-1v-1h1zM337 274h1v3h-1v-1h-1v-1h1zM382 112h1v1h1v1h-3v-1h1z"/><path fill="#510080" d="M313 432h1v1h1v1h-1v1h-1v-1h-1v-1h1z"/><path fill="#4400cb" d="M315 433h1v3h-1v-1h-1v-1h1z"/><path fill="#ff3500" d="M302 388h1v3h-1v-1h-1v-1h1zM378 135m-1 0h2v2h-1v-1h-1zM433 111h1v1h1v1h-3v-1h1zM413 260h1v1h1v1h-1v1h-1v-1h-1v-1h1zM524 192h1v1h1v1h-1v1h-1zM524 281h1v1h1v1h-1v1h-1zM573 360m-1 0h2v2h-1v-1h-1zM645 417h1v1h1v1h-1v1h-1v-1h-1v-1h1z"/><path fill="#82ff00" d="M300 412h1v1h1v1h-1v1h-1v-1h-1v-1h1zM341 459h1v1h1v1h-1v1h-1v-1h-1v-1h1zM315 474h1v1h1v1h-1v1h-1v-1h-1v-1h1zM316 475h1v1h1v1h-1v1h-1v-1h-1v-1h1zM298 493h1v1h1v1h-1v1h-1v-1h-1v-1h1zM276 446h1v1h1v1h-1v1h-1v-1h-1v-1h1zM299 374h1v1h1v1h-1v1h-1v-1h-1v-1h1zM361 153h1v1h1v1h-1v1h-1v-1h-1v-1h1zM432 105h1v1h1v1h-1v1h-1v-1h-1v-1h1zM431 117h1v3h-1v-1h-1v-1h1zM426 131h1v1h1v1h-1v1h-1v-1h-1v-1h1zM418 136h1v1h1v1h-1v1h-1v-1h-1v-1h1zM431 137h1v1h1v1h-1v1h-1v-1h-1v-1h1zM417 124h1v1h1v1h-1v1h-1v-1h-1v-1h1zM377 332h1v1h1v1h-1v1h-1v-1h-1v-1h1zM377 336m-1 1h3v1h-1v1h-1v-1h-1zM434 261h1v3h-1v-1h-1v-1h1z"/><path fill="#fffe00" d="M322 420m-1 1h3v1h-1v1h-1v-1h-1zM359 430h1v3h-1v-1h-1v-1h1zM359 440h1v1h1v1h-1v1h-1v-1h-1v-1h1zM350 467h1v1h1v1h-1v1h-1v-1h-1v-1h1zM354 481h1v1h1v1h-1v1h-1v-1h-1v-1h1zM323 471h1v1h1v1h-1v1h-1v-1h-1v-1h1zM404 453h1v1h1v1h-1v1h-1v-1h-1v-1h1zM407 470h1v1h1v1h-1v1h-1v-1h-1v-1h1zM360 429h1v1h1v1h-1v1h-1v-1h-1v-1h1zM360 440m-1 1h3v1h-1v1h-1v-1h-1zM389 98h1v1h1v1h-1v1h-1v-1h-1v-1h1zM416 100h1v1h1v1h-1v1h-1v-1h-1v-1h1zM419 105h1v1h1v1h-1v1h-1v-1h-1v-1h1zM417 120h1v1h1v1h-1v1h-1v-1h-1v-1h1zM430 130h1v1h1v1h-1v1h-1v-1h-1v-1h1zM422 161h1v1h1v1h-3v-1h1zM405 287m-1 1h3v1h-1v1h-1v-1h-1zM374 309h1v1h1v1h-1v1h-1v-1h-1v-1h1zM377 312h1v3h-1v-1h-1v-1h1zM379 314h1v1h1v1h-1v1h-1v-1h-1v-1h1zM377 307h1v1h1v1h-1v1h-1v-1h-1v-1h1zM387 275m-1 1h3v1h-1v1h-1v-1h-1zM443 198m-1 0h2v2h-1v-1h-1zM615 261h1v1h1v1h-1v1h-1v-1h-1v-1h1zM615 265h1v1h1v1h-3v-1h1zM561 532m-1 0h2v2h-1v-1h-1z"/><path fill="#ff0000" d="M314 455h1v1h1v1h-1v1h-1zM417 113m-1 1h3v1h-1v1h-1v-1h-1zM417 123m-1 1h3v1h-1v1h-1v-1h-1zM422 121h1v1h1v1h-1v1h-1v-1h-1v-1h1zM419 175h1v1h1v1h-1v1h-1v-1h-1v-1h1z"/><path fill="#3800d9" d="M310 281h1v1h1v1h-1v1h-1v-1h-1v-1h1zM349 299h1v1h1v1h-1v1h-1zM396 146h1v1h1v1h-3v-1h1z"/><path fill="#3e00d1" d="M325 280h1v1h1v1h-1v1h-1v-1h-1v-1h1zM349 316h1v1h1v1h-3v-1h1z"/><path fill="#4a00b9" d="M317 279h1v1h1v1h-1v1h-1v-1h-1v-1h1zM380 147h1v1h1v1h-1v1h-1v-1h-1v-1h1z"/><path fill="#4f00a8" d="M319 268m-1 1h3v1h-1v1h-1v-1h-1z"/><path fill="#3800d8" d="M324 337h1v1h1v1h-1v1h-1v-1h-1v-1h1zM347 298h1v1h1v1h-1v1h-1v-1h-1v-1h1z"/><path fill="#3000e1" d="M320 327m-1 0h2v2h-1v-1h-1z"/><path fill="#4100ce" d="M311 309h1v1h1v1h-1v1h-1v-1h-1v-1h1z"/><path fill="#4300cb" d="M315 310h1v1h1v1h-1v1h-1v-1h-1v-1h1z"/><path fill="#0e00f8" d="M305 295h1v1h1v1h-1v1h-1v-1h-1v-1h1zM353 303h1v3h-1v-1h-1v-1h1zM337 337h1v1h1v1h-1v1h-1v-1h-1v-1h1zM351 337h1v1h1v1h-1v1h-1v-1h-1v-1h1zM380 192m-1 1h3v1h-1v1h-1v-1h-1zM367 303h1v1h1v1h-1v1h-1v-1h-1v-1h1z"/><path fill="#1b00f1" d="M328 299h1v1h1v1h-1v1h-1v-1h-1v-1h1zM339 315h1v1h1v1h-1v1h-1v-1h-1v-1h1zM339 328h1v3h-1v-1h-1v-1h1zM333 333m-1 1h3v1h-1v1h-1v-1h-1zM375 193m-1 1h3v1h-1v1h-1v-1h-1zM375 275m-1 1h3v1h-1v1h-1v-1h-1zM380 136h1v1h1v1h-1v1h-1z"/><path fill="#4900be" d="M326 329m-1 0h2v2h-1v-1h-1zM347 278h1v1h1v1h-1v1h-1v-1h-1v-1h1zM352 330h1v1h1v1h-1v1h-1v-1h-1v-1h1zM324 348h1v1h1v1h-3v-1h1z"/><path fill="#1200f6" d="M307 324h1v1h1v1h-1v1h-1v-1h-1v-1h1zM310 303h1v3h-1v-1h-1v-1h1zM386 276h1v3h-1v-1h-1v-1h1zM393 155h1v3h-1v-1h-1v-1h1z"/><path fill="#3900d7" d="M327 307m-1 0h2v2h-1v-1h-1zM306 331h1v1h1v1h-1v1h-1z"/><path fill="#0700fc" d="M307 309h1v1h1v1h-1v1h-1v-1h-1v-1h1zM364 292m-1 1h3v1h-1v1h-1v-1h-1zM346 332h1v1h1v1h-1v1h-1v-1h-1v-1h1z"/><path fill="#2200ee" d="M326 317m-1 1h3v1h-1v1h-1v-1h-1zM347 302h1v1h1v1h-1v1h-1v-1h-1v-1h1zM351 329h1v1h1v1h-1v1h-1v-1h-1v-1h1zM369 306h1v3h-1v-1h-1v-1h1z"/><path fill="#3300de" d="M306 312m-1 1h3v1h-1v1h-1v-1h-1zM326 297h1v1h1v1h-1v1h-1v-1h-1v-1h1zM374 305h1v1h1v1h-1v1h-1v-1h-1v-1h1zM382 90h1v1h1v1h-1v1h-1v-1h-1v-1h1z"/><path fill="#1c00f1" d="M321 302h1v1h1v1h-1v1h-1v-1h-1v-1h1zM307 320m-1 1h3v1h-1v1h-1v-1h-1zM356 258h1v1h1v1h-1v1h-1v-1h-1v-1h1zM352 289h1v1h1v1h-1v1h-1v-1h-1v-1h1zM360 335h1v1h1v1h-1v1h-1v-1h-1v-1h1zM335 336h1v1h1v1h-1v1h-1v-1h-1v-1h1zM378 125h1v3h-1v-1h-1v-1h1z"/><path fill="#2f00e3" d="M324 312h1v1h1v1h-1v1h-1v-1h-1v-1h1zM370 301h1v1h1v1h-1v1h-1v-1h-1v-1h1z"/><path fill="#3b00d5" d="M315 313h1v1h1v1h-1v1h-1zM327 336h1v1h1v1h-1v1h-1v-1h-1v-1h1zM381 149h1v1h1v1h-1v1h-1v-1h-1v-1h1z"/><path fill="#4100cd" d="M312 298h1v1h1v1h-3v-1h1zM345 321h1v1h1v1h-3v-1h1z"/><path fill="#2c00e6" d="M320 340h1v1h1v1h-1v1h-1v-1h-1v-1h1zM328 337h1v1h1v1h-1v1h-1v-1h-1v-1h1zM323 317m-1 1h3v1h-1v1h-1v-1h-1zM354 335h1v1h1v1h-1v1h-1z"/><path fill="#3a00d6" d="M312 295h1v1h1v1h-1v1h-1v-1h-1v-1h1zM389 123h1v3h-1v-1h-1v-1h1z"/><path fill="#4900bd" d="M311 314h1v1h1v1h-1v1h-1v-1h-1v-1h1zM339 347h1v3h-1v-1h-1v-1h1zM385 114h1v1h1v1h-1v1h-1v-1h-1v-1h1zM389 94h1v1h1v1h-1v1h-1v-1h-1v-1h1z"/><path fill="#3400dd" d="M312 334h1v3h-1v-1h-1v-1h1zM303 344h1v1h1v1h-1v1h-1zM302 349h1v1h1v1h-1v1h-1zM380 192m-1 1h3v1h-1v1h-1v-1h-1zM375 244h1v1h1v1h-1v1h-1v-1h-1v-1h1zM372 290h1v3h-1v-1h-1v-1h1zM383 178m-1 1h3v1h-1v1h-1v-1h-1z"/><path fill="#0300fe" d="M324 304h1v1h1v1h-1v1h-1zM378 173h1v1h1v1h-1v1h-1zM375 256h1v1h1v1h-1v1h-1v-1h-1v-1h1z"/><path fill="#550097" d="M311 323h1v1h1v1h-1v1h-1v-1h-1v-1h1zM400 161h1v3h-1v-1h-1v-1h1z"/><path fill="#4a00bb" d="M311 322h1v1h1v1h-1v1h-1v-1h-1v-1h1z"/><path fill="#3100e1" d="M319 314h1v1h1v1h-1v1h-1v-1h-1v-1h1zM374 299h1v1h1v1h-1v1h-1v-1h-1v-1h1z"/><path fill="#52009f" d="M311 331m-1 1h3v1h-1v1h-1v-1h-1z"/><path fill="#1800f3" d="M307 323m-1 0h2v2h-1v-1h-1zM314 316m-1 0h2v2h-1v-1h-1zM328 326h1v1h1v1h-1v1h-1v-1h-1v-1h1zM380 200h1v3h-1v-1h-1v-1h1zM376 259h1v1h1v1h-1v1h-1v-1h-1v-1h1zM378 266h1v3h-1v-1h-1v-1h1z"/><path fill="#0045ff" d="M327 305h1v1h1v1h-1v1h-1v-1h-1v-1h1zM378 99m-1 0h2v2h-1v-1h-1zM391 88m-1 0h2v2h-1v-1h-1zM396 166h1v1h1v1h-1v1h-1v-1h-1v-1h1zM384 130h1v3h-1v-1h-1v-1h1zM396 102h1v1h1v1h-1v1h-1v-1h-1v-1h1zM401 162h1v1h1v1h-1v1h-1v-1h-1v-1h1z"/><path fill="#2e00e4" d="M320 316h1v1h1v1h-1v1h-1v-1h-1v-1h1z"/><path fill="#4600c7" d="M313 333h1v3h-1v-1h-1v-1h1z"/><path fill="#00fffa" d="M338 274m-1 0h2v2h-1v-1h-1z"/><path fill="#0078ff" d="M341 294h1v1h1v1h-1v1h-1v-1h-1v-1h1z"/><path fill="#4e00ae" d="M347 265h1v1h1v1h-1v1h-1v-1h-1v-1h1z"/><path fill="#0049ff" d="M338 282h1v1h1v1h-1v1h-1v-1h-1v-1h1zM336 298m-1 1h3v1h-1v1h-1v-1h-1zM372 299h1v1h1v1h-1v1h-1v-1h-1v-1h1zM373 310h1v1h1v1h-1v1h-1v-1h-1v-1h1zM390 146h1v1h1v1h-1v1h-1v-1h-1v-1h1zM387 156h1v1h1v1h-1v1h-1z"/><path fill="#0018ff" d="M337 267h1v1h1v1h-1v1h-1zM336 326h1v1h1v1h-1v1h-1v-1h-1v-1h1zM375 277h1v1h1v1h-1v1h-1v-1h-1v-1h1z"/><path fill="#1100f6" d="M334 284m-1 1h3v1h-1v1h-1v-1h-1zM337 339h1v1h1v1h-1v1h-1z"/><path fill="#0087ff" d="M344 287m-1 0h2v2h-1v-1h-1zM398 169h1v1h1v1h-1v1h-1v-1h-1v-1h1z"/><path fill="#2400ed" d="M349 258h1v3h-1v-1h-1v-1h1zM352 328m-1 1h3v1h-1v1h-1v-1h-1zM383 99h1v1h1v1h-1v1h-1z"/><path fill="#00c3ff" d="M348 279h1v1h1v1h-1v1h-1v-1h-1v-1h1zM337 300h1v1h1v1h-1v1h-1v-1h-1v-1h1z"/><path fill="#0022ff" d="M339 267h1v1h1v1h-1v1h-1v-1h-1v-1h1z"/><path fill="#2300ed" d="M338 261m-1 0h2v2h-1v-1h-1zM426 122h1v1h1v1h-1v1h-1v-1h-1v-1h1zM514 161h1v1h1v1h-1v1h-1v-1h-1v-1h1zM514 175h1v1h1v1h-1v1h-1v-1h-1v-1h1zM524 331h1v1h1v1h-1v1h-1z"/><path fill="#0f00f7" d="M348 285h1v1h1v1h-1v1h-1v-1h-1v-1h1zM369 264m-1 1h3v1h-1v1h-1v-1h-1zM384 102h1v1h1v1h-1v1h-1v-1h-1v-1h1z"/><path fill="#3d00d2" d="M357 262m-1 1h3v1h-1v1h-1v-1h-1zM334 333h1v1h1v1h-1v1h-1v-1h-1v-1h1zM313 267h1v1h1v1h-1v1h-1v-1h-1v-1h1z"/><path fill="#4700c5" d="M360 271h1v1h1v1h-1v1h-1v-1h-1v-1h1zM324 308h1v1h1v1h-1v1h-1v-1h-1v-1h1z"/><path fill="#54009a" d="M352 289h1v1h1v1h-1v1h-1v-1h-1v-1h1z"/><path fill="#0070ff" d="M360 291h1v1h1v1h-1v1h-1v-1h-1v-1h1zM321 306h1v1h1v1h-1v1h-1v-1h-1v-1h1zM332 301h1v1h1v1h-3v-1h1z"/><path fill="#0600fc" d="M340 280h1v1h1v1h-1v1h-1v-1h-1v-1h1zM371 267h1v1h1v1h-1v1h-1v-1h-1v-1h1zM374 295h1v1h1v1h-1v1h-1v-1h-1v-1h1zM379 154h1v1h1v1h-1v1h-1v-1h-1v-1h1z"/><path fill="#002dff" d="M326 313m-1 0h2v2h-1v-1h-1zM378 180h1v1h1v1h-1v1h-1v-1h-1v-1h1zM378 144h1v1h1v1h-3v-1h1zM377 93h1v1h1v1h-1v1h-1v-1h-1v-1h1zM379 108h1v1h1v1h-1v1h-1v-1h-1v-1h1zM382 91h1v1h1v1h-1v1h-1zM400 165h1v1h1v1h-1v1h-1v-1h-1v-1h1z"/><path fill="#1600f4" d="M333 309h1v1h1v1h-1v1h-1v-1h-1v-1h1zM328 258m-1 1h3v1h-1v1h-1v-1h-1zM380 178h1v3h-1v-1h-1v-1h1zM373 273m-1 1h3v1h-1v1h-1v-1h-1zM381 140h1v1h1v1h-1v1h-1v-1h-1v-1h1z"/><path fill="#3f00d0" d="M352 289m-1 0h2v2h-1v-1h-1z"/><path fill="#2000ef" d="M355 293h1v1h1v1h-3v-1h1zM379 154m-1 0h2v2h-1v-1h-1zM379 109h1v1h1v1h-1v1h-1v-1h-1v-1h1z"/><path fill="#0b00f9" d="M344 307h1v1h1v1h-1v1h-1zM322 349h1v3h-1v-1h-1v-1h1zM373 232h1v1h1v1h-1v1h-1v-1h-1v-1h1zM379 118h1v1h1v1h-1v1h-1v-1h-1v-1h1z"/><path fill="#005fff" d="M336 299h1v1h1v1h-1v1h-1v-1h-1v-1h1zM378 216h1v1h1v1h-1v1h-1v-1h-1v-1h1z"/><path fill="#00a9ff" d="M361 278h1v1h1v1h-1v1h-1v-1h-1v-1h1zM382 109h1v1h1v1h-1v1h-1v-1h-1v-1h1z"/><path fill="#00c8ff" d="M352 287h1v3h-1v-1h-1v-1h1z"/><path fill="#2900ea" d="M363 276h1v1h1v1h-1v1h-1v-1h-1v-1h1zM385 112m-1 1h3v1h-1v1h-1v-1h-1z"/><path fill="#00b2ff" d="M338 299h1v1h1v1h-1v1h-1v-1h-1v-1h1z"/><path fill="#0059ff" d="M356 286h1v1h1v1h-1v1h-1v-1h-1v-1h1z"/><path fill="#0073ff" d="M362 285m-1 0h2v2h-1v-1h-1zM381 203h1v1h1v1h-1v1h-1v-1h-1v-1h1zM380 206m-1 1h3v1h-1v1h-1v-1h-1zM379 105h1v1h1v1h-1v1h-1z"/><path fill="#0c00f9" d="M321 311h1v1h1v1h-1v1h-1z"/><path fill="#2d00e5" d="M361 299h1v3h-1v-1h-1v-1h1zM372 283h1v1h1v1h-1v1h-1v-1h-1v-1h1z"/><path fill="#00ebff" d="M343 307h1v1h1v1h-1v1h-1zM398 168h1v1h1v1h-1v1h-1z"/><path fill="#0098ff" d="M344 299h1v1h1v1h-1v1h-1z"/><path fill="#0099ff" d="M341 307m-1 0h2v2h-1v-1h-1zM393 104h1v1h1v1h-1v1h-1v-1h-1v-1h1z"/><path fill="#00dcff" d="M350 308m-1 0h2v2h-1v-1h-1z"/><path fill="#2700ec" d="M331 337h1v1h1v1h-1v1h-1v-1h-1v-1h1z"/><path fill="#4f00a9" d="M334 340h1v3h-1v-1h-1v-1h1zM385 111h1v1h1v1h-1v1h-1v-1h-1v-1h1z"/><path fill="#54008f" d="M357 321h1v1h1v1h-3v-1h1z"/><path fill="#1300f5" d="M345 340h1v1h1v1h-1v1h-1v-1h-1v-1h1zM365 306m-1 1h3v1h-1v1h-1v-1h-1z"/><path fill="#00a4ff" d="M336 315h1v1h1v1h-1v1h-1v-1h-1v-1h1zM381 104h1v1h1v1h-1v1h-1v-1h-1v-1h1z"/><path fill="#1000f7" d="M354 341h1v1h1v1h-1v1h-1v-1h-1v-1h1zM355 323h1v3h-1v-1h-1v-1h1zM343 334h1v1h1v1h-1v1h-1z"/><path fill="#0072ff" d="M337 329h1v1h1v1h-1v1h-1v-1h-1v-1h1zM379 180h1v3h-1v-1h-1v-1h1zM382 97h1v1h1v1h-1v1h-1v-1h-1v-1h1zM393 147h1v1h1v1h-1v1h-1v-1h-1v-1h1z"/><path fill="#4c00b4" d="M355 322h1v1h1v1h-3v-1h1z"/><path fill="#0d00f8" d="M347 318h1v1h1v1h-1v1h-1v-1h-1v-1h1zM337 333h1v1h1v1h-1v1h-1v-1h-1v-1h1zM309 351h1v1h1v1h-1v1h-1v-1h-1v-1h1zM379 98h1v3h-1v-1h-1v-1h1z"/><path fill="#0083ff" d="M360 338h1v1h1v1h-1v1h-1v-1h-1v-1h1z"/><path fill="#1500f5" d="M349 341h1v3h-1v-1h-1v-1h1z"/><path fill="#4c00b2" d="M341 334m-1 1h3v1h-1v1h-1v-1h-1z"/><path fill="#1d00f1" d="M339 319h1v3h-1v-1h-1v-1h1zM399 152h1v1h1v1h-1v1h-1v-1h-1v-1h1z"/><path fill="#0f00f8" d="M345 337h1v1h1v1h-1v1h-1v-1h-1v-1h1z"/><path fill="#4d00b2" d="M310 353h1v1h1v1h-1v1h-1v-1h-1v-1h1z"/><path fill="#3600da" d="M322 348h1v1h1v1h-1v1h-1v-1h-1v-1h1z"/><path fill="#2100ef" d="M322 342h1v1h1v1h-1v1h-1v-1h-1v-1h1zM325 343h1v1h1v1h-1v1h-1v-1h-1v-1h1z"/><path fill="#4e00ad" d="M342 346m-1 1h3v1h-1v1h-1v-1h-1z"/><path fill="#4a00bc" d="M347 352h1v1h1v1h-1v1h-1v-1h-1v-1h1zM376 298h1v1h1v1h-1v1h-1v-1h-1v-1h1z"/><path fill="#0075ff" d="M378 165m-1 1h3v1h-1v1h-1v-1h-1zM378 154m-1 0h2v2h-1v-1h-1zM378 144h1v1h1v1h-1v1h-1v-1h-1v-1h1zM390 129h1v1h1v1h-3v-1h1z"/><path fill="#0067ff" d="M380 215h1v1h1v1h-1v1h-1v-1h-1v-1h1zM379 220h1v3h-1v-1h-1v-1h1zM379 216h1v1h1v1h-1v1h-1v-1h-1v-1h1zM379 167m-1 0h2v2h-1v-1h-1zM386 125h1v1h1v1h-1v1h-1v-1h-1v-1h1z"/><path fill="#0080ff" d="M382 186m-1 0h2v2h-1v-1h-1z"/><path fill="#0100ff" d="M380 187h1v1h1v1h-1v1h-1v-1h-1v-1h1z"/><path fill="#2500ed" d="M383 172h1v1h1v1h-1v1h-1v-1h-1v-1h1z"/><path fill="#00b3ff" d="M379 221h1v3h-1v-1h-1v-1h1zM376 223h1v1h1v1h-1v1h-1v-1h-1v-1h1z"/><path fill="#00dfff" d="M380 192h1v1h1v1h-1v1h-1v-1h-1v-1h1z"/><path fill="#0094ff" d="M376 203h1v3h-1v-1h-1v-1h1z"/><path fill="#009cff" d="M379 177m-1 0h2v2h-1v-1h-1z"/><path fill="#2a00e9" d="M378 190h1v1h1v1h-1v1h-1v-1h-1v-1h1zM376 197h1v1h1v1h-1v1h-1v-1h-1v-1h1zM373 284h1v1h1v1h-1v1h-1v-1h-1v-1h1zM384 124m-1 0h2v2h-1v-1h-1z"/><path fill="#00caff" d="M379 233h1v1h1v1h-1v1h-1v-1h-1v-1h1z"/><path fill="#4900bf" d="M376 256h1v3h-1v-1h-1v-1h1z"/><path fill="#00bcff" d="M364 303h1v1h1v1h-1v1h-1v-1h-1v-1h1zM381 174h1v3h-1v-1h-1v-1h1z"/><path fill="#3700da" d="M373 285h1v1h1v1h-1v1h-1v-1h-1v-1h1zM394 144m-1 1h3v1h-1v1h-1v-1h-1zM388 102h1v1h1v1h-3v-1h1z"/><path fill="#006dff" d="M374 297h1v1h1v1h-1v1h-1zM378 88m-1 1h3v1h-1v1h-1v-1h-1zM378 124m-1 1h3v1h-1v1h-1v-1h-1zM401 115m-1 1h3v1h-1v1h-1v-1h-1z"/><path fill="#006bff" d="M377 273h1v1h1v1h-1v1h-1v-1h-1v-1h1zM378 122h1v1h1v1h-1v1h-1z"/><path fill="#0066ff" d="M376 251h1v3h-1v-1h-1v-1h1zM401 135h1v1h1v1h-1v1h-1v-1h-1v-1h1z"/><path fill="#4d00b0" d="M377 288h1v3h-1v-1h-1v-1h1zM385 88h1v1h1v1h-1v1h-1v-1h-1v-1h1zM400 165h1v1h1v1h-1v1h-1v-1h-1v-1h1z"/><path fill="#00a3ff" d="M376 242h1v1h1v1h-1v1h-1v-1h-1v-1h1zM381 101m-1 1h3v1h-1v1h-1v-1h-1z"/><path fill="#3100e0" d="M366 286m-1 1h3v1h-1v1h-1v-1h-1z"/><path fill="#4a00ba" d="M388 309m-1 1h3v1h-1v1h-1v-1h-1zM389 163h1v1h1v1h-1v1h-1v-1h-1v-1h1z"/><path fill="#4e00af" d="M387 283m-1 1h3v1h-1v1h-1v-1h-1z"/><path fill="#53008d" d="M380 151h1v1h1v1h-1v1h-1v-1h-1v-1h1z"/><path fill="#0062ff" d="M379 119m-1 1h3v1h-1v1h-1v-1h-1z"/><path fill="#4700c4" d="M377 105m-1 1h3v1h-1v1h-1v-1h-1z"/><path fill="#0089ff" d="M381 126m-1 0h2v2h-1v-1h-1z"/><path fill="#00a8ff" d="M378 158h1v1h1v1h-1v1h-1v-1h-1v-1h1z"/><path fill="#0097ff" d="M378 141h1v1h1v1h-1v1h-1v-1h-1v-1h1z"/><path fill="#00a5ff" d="M379 158m-1 0h2v2h-1v-1h-1z"/><path fill="#4000cf" d="M395 101h1v3h-1v-1h-1v-1h1z"/><path fill="#00cdff" d="M397 156h1v1h1v1h-1v1h-1v-1h-1v-1h1z"/><path fill="#550094" d="M385 150h1v3h-1v-1h-1v-1h1z"/><path fill="#00c4ff" d="M396 116m-1 0h2v2h-1v-1h-1z"/><path fill="#00acff" d="M398 152h1v1h1v1h-1v1h-1v-1h-1v-1h1zM386 102h1v1h1v1h-3v-1h1z"/><path fill="#00b5ff" d="M392 146h1v1h1v1h-1v1h-1v-1h-1v-1h1z"/><path fill="#00e6ff" d="M387 89m-1 0h2v2h-1v-1h-1z"/><path fill="#00b0ff" d="M394 112h1v1h1v1h-1v1h-1v-1h-1v-1h1z"/><path fill="#00e3ff" d="M383 118h1v1h1v1h-1v1h-1v-1h-1v-1h1z"/><path fill="#00afff" d="M390 115h1v1h1v1h-1v1h-1z"/><path fill="#00e5ff" d="M390 139h1v3h-1v-1h-1v-1h1z"/><path fill="#00d2ff" d="M395 141m-1 0h2v2h-1v-1h-1z"/><path fill="#0053ff" d="M388 151h1v1h1v1h-1v1h-1z"/><path fill="#00ceff" d="M393 96h1v1h1v1h-1v1h-1z"/><path fill="#009fff" d="M384 162m-1 1h3v1h-1v1h-1v-1h-1z"/><path fill="#4600c8" d="M390 94m-1 0h2v2h-1v-1h-1z"/><path fill="#009dff" d="M384 165h1v1h1v1h-1v1h-1v-1h-1v-1h1zM388 130h1v1h1v1h-3v-1h1z"/><path fill="#008dff" d="M385 126h1v3h-1v-1h-1v-1h1z"/><path fill="#53009c" d="M390 167h1v1h1v1h-1v1h-1v-1h-1v-1h1z"/><path fill="#007dff" d="M388 138h1v1h1v1h-1v1h-1z"/><path fill="#540099" d="M384 116h1v1h1v1h-1v1h-1v-1h-1v-1h1z"/><path fill="#00c7ff" d="M389 143m-1 1h3v1h-1v1h-1v-1h-1z"/><path fill="#1d00f0" d="M381 152h1v1h1v1h-3v-1h1z"/><path fill="#00bdff" d="M399 143h1v1h1v1h-1v1h-1v-1h-1v-1h1z"/><path fill="#00ecff" d="M401 141h1v1h1v1h-1v1h-1v-1h-1v-1h1z"/><path fill="#ffcb00" d="M420 102h1v3h-1v-1h-1v-1h1zM419 131h1v1h1v1h-1v1h-1v-1h-1v-1h1zM416 155m-1 1h3v1h-1v1h-1v-1h-1zM430 260h1v1h1v1h-1v1h-1zM436 259h1v1h1v1h-1v1h-1v-1h-1v-1h1zM524 125m-1 0h2v2h-1v-1h-1zM645 240h1v1h1v1h-3v-1h1zM367 451h1v1h1v1h-1v1h-1z"/><path fill="#77ff00" d="M425 157h1v1h1v1h-1v1h-1z"/><path fill="#dbff00" d="M416 154m-1 1h3v1h-1v1h-1v-1h-1zM418 154h1v1h1v1h-3v-1h1z"/><path fill="#ff4f00" d="M421 156h1v1h1v1h-1v1h-1zM418 254h1v1h1v1h-1v1h-1v-1h-1v-1h1z"/><path fill="#ebff00" d="M420 152h1v1h1v1h-1v1h-1v-1h-1v-1h1zM430 145h1v1h1v1h-1v1h-1v-1h-1v-1h1z"/><path fill="#ffa700" d="M428 147h1v1h1v1h-1v1h-1v-1h-1v-1h1z"/><path fill="#fff100" d="M422 152h1v1h1v1h-1v1h-1v-1h-1v-1h1z"/><path fill="#e6ff00" d="M427 141h1v1h1v1h-3v-1h1zM431 133h1v1h1v1h-1v1h-1z"/><path fill="#faff00" d="M424 145h1v1h1v1h-1v1h-1v-1h-1v-1h1z"/><path fill="#93ff00" d="M428 150h1v1h1v1h-1v1h-1v-1h-1v-1h1z"/><path fill="#ff7d00" d="M431 159h1v1h1v1h-1v1h-1v-1h-1v-1h1zM415 220h1v1h1v1h-1v1h-1z"/><path fill="#ffdc00" d="M419 158m-1 1h3v1h-1v1h-1v-1h-1z"/><path fill="#ffa300" d="M425 142h1v1h1v1h-3v-1h1z"/><path fill="#fff400" d="M414 151h1v1h1v1h-1v1h-1v-1h-1v-1h1z"/><path fill="#d9ff00" d="M420 158m-1 0h2v2h-1v-1h-1z"/><path fill="#ff8300" d="M421 138h1v1h1v1h-1v1h-1v-1h-1v-1h1zM418 183m-1 1h3v1h-1v1h-1v-1h-1z"/><path fill="#ffca00" d="M420 139h1v1h1v1h-3v-1h1zM419 280h1v3h-1v-1h-1v-1h1z"/><path fill="#ffd000" d="M425 125h1v1h1v1h-1v1h-1v-1h-1v-1h1zM419 136h1v3h-1v-1h-1v-1h1zM431 137h1v1h1v1h-1v1h-1v-1h-1v-1h1zM415 266h1v1h1v1h-1v1h-1v-1h-1v-1h1z"/><path fill="#ff9900" d="M425 123h1v1h1v1h-1v1h-1v-1h-1v-1h1zM415 186h1v1h1v1h-1v1h-1v-1h-1v-1h1z"/><path fill="#c6ff00" d="M428 138m-1 1h3v1h-1v1h-1v-1h-1z"/><path fill="#ffd500" d="M433 133h1v1h1v1h-1v1h-1v-1h-1v-1h1zM422 154m-1 1h3v1h-1v1h-1v-1h-1zM414 257h1v3h-1v-1h-1v-1h1z"/><path fill="#ffd800" d="M417 129h1v1h1v1h-1v1h-1v-1h-1v-1h1zM423 137h1v1h1v1h-1v1h-1v-1h-1v-1h1zM427 161h1v3h-1v-1h-1v-1h1z"/><path fill="#ffdd00" d="M432 127h1v1h1v1h-1v1h-1v-1h-1v-1h1zM416 222h1v1h1v1h-1v1h-1v-1h-1v-1h1z"/><path fill="#ffa000" d="M426 136h1v1h1v1h-1v1h-1v-1h-1v-1h1zM416 141m-1 0h2v2h-1v-1h-1zM399 292m-1 1h3v1h-1v1h-1v-1h-1zM409 284h1v1h1v1h-1v1h-1v-1h-1v-1h1z"/><path fill="#ffe500" d="M418 138h1v1h1v1h-1v1h-1v-1h-1v-1h1zM432 151m-1 0h2v2h-1v-1h-1z"/><path fill="#ff3600" d="M425 127h1v3h-1v-1h-1v-1h1zM424 150h1v3h-1v-1h-1v-1h1z"/><path fill="#fff600" d="M430 170h1v1h1v1h-1v1h-1v-1h-1v-1h1zM415 288h1v1h1v1h-1v1h-1v-1h-1v-1h1zM401 290h1v1h1v1h-1v1h-1v-1h-1v-1h1z"/><path fill="#ffe200" d="M417 162h1v1h1v1h-1v1h-1v-1h-1v-1h1zM419 216h1v3h-1v-1h-1v-1h1zM399 313h1v1h1v1h-1v1h-1v-1h-1v-1h1z"/><path fill="#ffb400" d="M422 160h1v1h1v1h-1v1h-1zM416 229h1v1h1v1h-1v1h-1v-1h-1v-1h1zM404 311h1v1h1v1h-1v1h-1v-1h-1v-1h1z"/><path fill="#ff7700" d="M432 171m-1 1h3v1h-1v1h-1v-1h-1z"/><path fill="#ffe000" d="M427 142m-1 0h2v2h-1v-1h-1zM426 161h1v1h1v1h-1v1h-1v-1h-1v-1h1zM405 312h1v3h-1v-1h-1v-1h1z"/><path fill="#bcff00" d="M428 156h1v1h1v1h-1v1h-1v-1h-1v-1h1z"/><path fill="#ff6400" d="M420 142m-1 1h3v1h-1v1h-1v-1h-1z"/><path fill="#afff00" d="M418 142h1v1h1v1h-1v1h-1v-1h-1v-1h1z"/><path fill="#d2ff00" d="M425 156h1v1h1v1h-3v-1h1zM418 167h1v1h1v1h-1v1h-1v-1h-1v-1h1zM421 254h1v1h1v1h-1v1h-1z"/><path fill="#ffad00" d="M415 139h1v3h-1v-1h-1v-1h1zM415 202h1v1h1v1h-1v1h-1v-1h-1v-1h1zM399 278m-1 0h2v2h-1v-1h-1z"/><path fill="#ffda00" d="M423 145h1v1h1v1h-1v1h-1v-1h-1v-1h1z"/><path fill="#efff00" d="M417 153h1v3h-1v-1h-1v-1h1z"/><path fill="#ffb200" d="M429 145m-1 1h3v1h-1v1h-1v-1h-1zM409 282h1v1h1v1h-1v1h-1v-1h-1v-1h1z"/><path fill="#cdff00" d="M427 165h1v1h1v1h-1v1h-1v-1h-1v-1h1z"/><path fill="#ffc300" d="M432 158h1v1h1v1h-1v1h-1v-1h-1v-1h1zM421 138h1v1h1v1h-1v1h-1v-1h-1v-1h1z"/><path fill="#ffa400" d="M418 139h1v1h1v1h-1v1h-1v-1h-1v-1h1z"/><path fill="#ffbc00" d="M417 159m-1 0h2v2h-1v-1h-1zM429 141h1v1h1v1h-1v1h-1v-1h-1v-1h1z"/><path fill="#71ff00" d="M423 147h1v3h-1v-1h-1v-1h1z"/><path fill="#ffe900" d="M419 142h1v3h-1v-1h-1v-1h1zM410 268h1v1h1v1h-1v1h-1v-1h-1v-1h1z"/><path fill="#ff7c00" d="M420 148h1v1h1v1h-1v1h-1v-1h-1v-1h1z"/><path fill="#e3ff00" d="M423 143h1v1h1v1h-1v1h-1v-1h-1v-1h1z"/><path fill="#c9ff00" d="M418 158h1v1h1v1h-3v-1h1zM416 178h1v1h1v1h-1v1h-1v-1h-1v-1h1zM417 285h1v1h1v1h-1v1h-1v-1h-1v-1h1z"/><path fill="#ffee00" d="M416 154h1v1h1v1h-1v1h-1v-1h-1v-1h1zM406 278h1v1h1v1h-1v1h-1zM410 270h1v1h1v1h-1v1h-1z"/><path fill="#ffbf00" d="M428 161m-1 1h3v1h-1v1h-1v-1h-1zM401 317m-1 1h3v1h-1v1h-1v-1h-1z"/><path fill="#fcff00" d="M424 143h1v1h1v1h-1v1h-1v-1h-1v-1h1zM424 142h1v1h1v1h-3v-1h1z"/><path fill="#dcff00" d="M427 140h1v1h1v1h-1v1h-1v-1h-1v-1h1z"/><path fill="#ff9400" d="M419 140h1v1h1v1h-1v1h-1v-1h-1v-1h1zM397 313h1v1h1v1h-1v1h-1v-1h-1v-1h1z"/><path fill="#fff900" d="M427 171h1v3h-1v-1h-1v-1h1zM404 268h1v3h-1v-1h-1v-1h1z"/><path fill="#ffab00" d="M427 145h1v1h1v1h-1v1h-1v-1h-1v-1h1z"/><path fill="#fbff00" d="M422 160h1v1h1v1h-3v-1h1zM419 152m-1 0h2v2h-1v-1h-1zM415 229h1v1h1v1h-1v1h-1v-1h-1v-1h1zM400 316h1v3h-1v-1h-1v-1h1zM408 271h1v1h1v1h-1v1h-1v-1h-1v-1h1z"/><path fill="#ff9700" d="M433 168h1v1h1v1h-1v1h-1v-1h-1v-1h1z"/><path fill="#ffaa00" d="M424 144h1v1h1v1h-1v1h-1v-1h-1v-1h1z"/><path fill="#ffc700" d="M427 154h1v1h1v1h-1v1h-1v-1h-1v-1h1z"/><path fill="#e8ff00" d="M432 165h1v3h-1v-1h-1v-1h1zM415 186m-1 1h3v1h-1v1h-1v-1h-1z"/><path fill="#ff6e00" d="M425 170m-1 0h2v2h-1v-1h-1zM399 290m-1 0h2v2h-1v-1h-1z"/><path fill="#baff00" d="M421 139m-1 0h2v2h-1v-1h-1zM413 200h1v1h1v1h-1v1h-1v-1h-1v-1h1zM415 256h1v1h1v1h-1v1h-1z"/><path fill="#e7ff00" d="M421 161h1v3h-1v-1h-1v-1h1zM427 143h1v3h-1v-1h-1v-1h1zM409 259m-1 0h2v2h-1v-1h-1z"/><path fill="#ff1600" d="M423 137h1v1h1v1h-1v1h-1v-1h-1v-1h1z"/><path fill="#ff9800" d="M417 162h1v1h1v1h-1v1h-1v-1h-1v-1h1z"/><path fill="#d0ff00" d="M428 141h1v1h1v1h-1v1h-1v-1h-1v-1h1z"/><path fill="#ff9300" d="M415 138h1v3h-1v-1h-1v-1h1z"/><path fill="#ff9d00" d="M421 167h1v1h1v1h-1v1h-1v-1h-1v-1h1zM409 275m-1 0h2v2h-1v-1h-1z"/><path fill="#ffde00" d="M431 164h1v1h1v1h-1v1h-1v-1h-1v-1h1z"/><path fill="#ff7600" d="M431 157h1v1h1v1h-1v1h-1v-1h-1v-1h1z"/><path fill="#fff000" d="M432 156h1v1h1v1h-1v1h-1v-1h-1v-1h1zM401 296h1v1h1v1h-1v1h-1v-1h-1v-1h1z"/><path fill="#dfff00" d="M419 155h1v3h-1v-1h-1v-1h1zM398 301h1v1h1v1h-1v1h-1v-1h-1v-1h1z"/><path fill="#ffeb00" d="M426 145h1v1h1v1h-1v1h-1v-1h-1v-1h1z"/><path fill="#ff8800" d="M424 151h1v3h-1v-1h-1v-1h1z"/><path fill="#ffe800" d="M429 161m-1 1h3v1h-1v1h-1v-1h-1z"/><path fill="#ffdb00" d="M429 155h1v3h-1v-1h-1v-1h1zM416 210h1v1h1v1h-1v1h-1v-1h-1v-1h1z"/><path fill="#ffff00" d="M420 151h1v1h1v1h-1v1h-1zM410 297h1v3h-1v-1h-1v-1h1z"/><path fill="#9bff00" d="M424 162h1v1h1v1h-1v1h-1z"/><path fill="#ffac00" d="M421 163h1v1h1v1h-1v1h-1v-1h-1v-1h1zM417 202h1v1h1v1h-1v1h-1v-1h-1v-1h1zM396 312h1v1h1v1h-1v1h-1v-1h-1v-1h1z"/><path fill="#ffcf00" d="M428 144h1v1h1v1h-1v1h-1zM413 257m-1 0h2v2h-1v-1h-1zM403 303h1v1h1v1h-3v-1h1zM410 266h1v1h1v1h-1v1h-1v-1h-1v-1h1z"/><path fill="#ff5e00" d="M427 160h1v1h1v1h-1v1h-1v-1h-1v-1h1zM396 302m-1 1h3v1h-1v1h-1v-1h-1zM398 304m-1 1h3v1h-1v1h-1v-1h-1z"/><path fill="#c4ff00" d="M432 155h1v1h1v1h-1v1h-1v-1h-1v-1h1z"/><path fill="#75ff00" d="M429 145h1v1h1v1h-1v1h-1zM424 272h1v1h1v1h-1v1h-1v-1h-1v-1h1z"/><path fill="#ffbb00" d="M421 141m-1 1h3v1h-1v1h-1v-1h-1z"/><path fill="#ffaf00" d="M414 220h1v1h1v1h-1v1h-1v-1h-1v-1h1z"/><path fill="#ffbd00" d="M414 215m-1 1h3v1h-1v1h-1v-1h-1zM411 257h1v1h1v1h-1v1h-1v-1h-1v-1h1z"/><path fill="#f8ff00" d="M414 265h1v1h1v1h-1v1h-1v-1h-1v-1h1z"/><path fill="#ff8c00" d="M415 212m-1 1h3v1h-1v1h-1v-1h-1z"/><path fill="#f6ff00" d="M414 245h1v1h1v1h-1v1h-1v-1h-1v-1h1z"/><path fill="#b1ff00" d="M416 177h1v1h1v1h-1v1h-1z"/><path fill="#ff2500" d="M414 213h1v1h1v1h-1v1h-1v-1h-1v-1h1z"/><path fill="#eaff00" d="M419 197h1v1h1v1h-1v1h-1v-1h-1v-1h1zM408 285h1v1h1v1h-1v1h-1v-1h-1v-1h1z"/><path fill="#c0ff00" d="M417 247h1v1h1v1h-1v1h-1v-1h-1v-1h1z"/><path fill="#ffea00" d="M416 211h1v1h1v1h-1v1h-1v-1h-1v-1h1zM394 309m-1 1h3v1h-1v1h-1v-1h-1z"/><path fill="#ffc200" d="M416 218h1v1h1v1h-1v1h-1v-1h-1v-1h1z"/><path fill="#ffb700" d="M416 209h1v1h1v1h-1v1h-1z"/><path fill="#ecff00" d="M416 254h1v1h1v1h-1v1h-1v-1h-1v-1h1z"/><path fill="#fffc00" d="M417 232h1v1h1v1h-1v1h-1z"/><path fill="#ffb500" d="M411 288h1v1h1v1h-1v1h-1v-1h-1v-1h1z"/><path fill="#ff9100" d="M407 282m-1 0h2v2h-1v-1h-1z"/><path fill="#ffe300" d="M398 299m-1 1h3v1h-1v1h-1v-1h-1z"/><path fill="#ff8100" d="M405 303h1v1h1v1h-1v1h-1v-1h-1v-1h1z"/><path fill="#f7ff00" d="M416 269m-1 1h3v1h-1v1h-1v-1h-1zM405 285h1v1h1v1h-3v-1h1z"/><path fill="#ffa200" d="M399 298m-1 0h2v2h-1v-1h-1z"/><path fill="#e4ff00" d="M409 265h1v1h1v1h-1v1h-1v-1h-1v-1h1z"/><path fill="#f0ff00" d="M406 285h1v1h1v1h-1v1h-1v-1h-1v-1h1zM392 308h1v1h1v1h-1v1h-1v-1h-1v-1h1z"/><path fill="#a5ff00" d="M408 272h1v1h1v1h-1v1h-1z"/><path fill="#d3ff00" d="M391 308h1v3h-1v-1h-1v-1h1z"/><path fill="#a4ff00" d="M404 320h1v3h-1v-1h-1v-1h1zM422 271h1v1h1v1h-1v1h-1v-1h-1v-1h1zM410 273m-1 1h3v1h-1v1h-1v-1h-1z"/><path fill="#ff5100" d="M416 263h1v1h1v1h-1v1h-1v-1h-1v-1h1z"/><path fill="#a1ff00" d="M409 284h1v1h1v1h-1v1h-1v-1h-1v-1h1z"/><path fill="#ffba00" d="M408 288h1v1h1v1h-1v1h-1v-1h-1v-1h1z"/><path fill="#ffd900" d="M413 254m-1 0h2v2h-1v-1h-1z"/><path fill="#b9ff00" d="M415 276h1v3h-1v-1h-1v-1h1zM407 294h1v1h1v1h-1v1h-1z"/><path fill="#94ff00" d="M396 317h1v1h1v1h-1v1h-1v-1h-1v-1h1z"/><path fill="#ffae00" d="M403 316h1v1h1v1h-1v1h-1v-1h-1v-1h1z"/><path fill="#b4ff00" d="M403 309h1v1h1v1h-1v1h-1v-1h-1v-1h1z"/><path fill="#ff8600" d="M422 259h1v1h1v1h-1v1h-1v-1h-1v-1h1z"/><path fill="#ffe100" d="M402 288h1v1h1v1h-1v1h-1v-1h-1v-1h1zM413 269h1v1h1v1h-3v-1h1z"/><path fill="#9eff00" d="M396 303h1v1h1v1h-1v1h-1v-1h-1v-1h1z"/><path fill="#ffd100" d="M403 318h1v1h1v1h-1v1h-1v-1h-1v-1h1zM404 292h1v3h-1v-1h-1v-1h1z"/><path fill="#ffd600" d="M406 281h1v1h1v1h-3v-1h1z"/><path fill="#ffe700" d="M400 317m-1 0h2v2h-1v-1h-1z"/><path fill="#91ff00" d="M402 295m-1 1h3v1h-1v1h-1v-1h-1zM409 270m-1 1h3v1h-1v1h-1v-1h-1z"/><path fill="#83ff00" d="M412 262h1v1h1v1h-3v-1h1z"/><path fill="#fff200" d="M415 257h1v1h1v1h-1v1h-1v-1h-1v-1h1z"/><path fill="#ffb100" d="M409 286h1v1h1v1h-1v1h-1v-1h-1v-1h1zM412 283h1v3h-1v-1h-1v-1h1z"/><path fill="#fff800" d="M401 287h1v1h1v1h-1v1h-1v-1h-1v-1h1zM420 258h1v1h1v1h-1v1h-1v-1h-1v-1h1zM392 311h1v1h1v1h-1v1h-1v-1h-1v-1h1z"/><path fill="#ff4a00" d="M396 317h1v1h1v1h-1v1h-1v-1h-1v-1h1z"/><path fill="#ffd400" d="M412 286h1v1h1v1h-1v1h-1v-1h-1v-1h1z"/><path fill="#ffef00" d="M398 292h1v1h1v1h-1v1h-1v-1h-1v-1h1z"/><path fill="#ffce00" d="M406 313h1v1h1v1h-1v1h-1v-1h-1v-1h1zM420 267h1v1h1v1h-1v1h-1v-1h-1v-1h1z"/><path fill="#bdff00" d="M400 313h1v1h1v1h-1v1h-1z"/><path fill="#ffd300" d="M409 270h1v1h1v1h-1v1h-1v-1h-1v-1h1z"/><path fill="#ff6d00" d="M405 298m-1 1h3v1h-1v1h-1v-1h-1z"/><path fill="#ff9500" d="M402 273m-1 1h3v1h-1v1h-1v-1h-1z"/><path fill="#c2ff00" d="M399 303h1v1h1v1h-1v1h-1v-1h-1v-1h1z"/><path fill="#d8ff00" d="M416 273h1v1h1v1h-1v1h-1v-1h-1v-1h1z"/><path fill="#ff8e00" d="M401 318h1v1h1v1h-1v1h-1v-1h-1v-1h1z"/><path fill="#ffc000" d="M418 252h1v1h1v1h-1v1h-1v-1h-1v-1h1z"/><path fill="#fdff00" d="M410 274h1v1h1v1h-1v1h-1v-1h-1v-1h1z"/><path fill="#ffc600" d="M413 280h1v1h1v1h-1v1h-1v-1h-1v-1h1zM411 300h1v1h1v1h-1v1h-1v-1h-1v-1h1z"/><path fill="#ff5f00" d="M407 271h1v3h-1v-1h-1v-1h1z"/><path fill="#ffa800" d="M415 255h1v1h1v1h-1v1h-1v-1h-1v-1h1z"/><path fill="#f1ff00" d="M402 294h1v1h1v1h-1v1h-1v-1h-1v-1h1z"/><path fill="#fffd00" d="M413 255h1v1h1v1h-1v1h-1v-1h-1v-1h1z"/><path fill="#ffa600" d="M402 288m-1 0h2v2h-1v-1h-1z"/><path fill="#b3ff00" d="M422 260h1v1h1v1h-1v1h-1v-1h-1v-1h1z"/><path fill="#8cff00" d="M417 270m-1 1h3v1h-1v1h-1v-1h-1z"/><path fill="#ff3900" d="M422 271m-1 0h2v2h-1v-1h-1z"/><path fill="#a7ff00" d="M411 272h1v1h1v1h-1v1h-1v-1h-1v-1h1z"/><path fill="#edff00" d="M416 259m-1 1h3v1h-1v1h-1v-1h-1z"/><path fill="#ffc100" d="M402 283h1v1h1v1h-1v1h-1v-1h-1v-1h1z"/><path fill="#ddff00" d="M407 275h1v1h1v1h-1v1h-1v-1h-1v-1h1z"/><path fill="#ff9c00" d="M408 317m-1 1h3v1h-1v1h-1v-1h-1z"/><path fill="#ff7300" d="M399 310m-1 1h3v1h-1v1h-1v-1h-1z"/></g>
</svg>
<div id="textlayer"><div class="t" style="left:380px;top:28px;font-size:12px;transform:translate(-50%,0);">Tromsø 20170613 13:34:00-13:35:43</div><div class="t" style="left:380px;top:40px;font-size:12px;transform:translate(-50%,0);">RwPretec (8p)</div><div class="t" style="left:648px;top:23px;font-size:9px;transform:translate(-50%,0);">Phases</div><div class="t" style="left:608px;top:34px;font-size:9px;">mean, sd,O: -91.1, 18.8</div><div class="t" style="left:608px;top:45px;font-size:9px;">mean, sd,X:  94.5, 21.1</div><div class="t" style="left:717px;top:74px;font-size:11px;">[deg]</div><div class="t" style="left:746px;top:178px;font-size:10px;">100</div><div class="t" style="left:746px;top:294px;font-size:10px;">0</div><div class="t" style="left:746px;top:410px;font-size:10px;">-100</div><div class="t" style="left:80px;top:545px;font-size:10px;transform:translate(-50%,0);">1</div><div class="t" style="left:230px;top:545px;font-size:10px;transform:translate(-50%,0);">2</div><div class="t" style="left:380px;top:545px;font-size:10px;transform:translate(-50%,0);">4</div><div class="t" style="left:467px;top:545px;font-size:10px;transform:translate(-50%,0);">6</div><div class="t" style="left:530px;top:545px;font-size:10px;transform:translate(-50%,0);">8</div><div class="t" style="left:578px;top:545px;font-size:10px;transform:translate(-50%,0);">10</div><div class="t" style="left:680px;top:545px;font-size:10px;transform:translate(-50%,0);">16</div><div class="t" style="left:77px;top:534px;font-size:10px;transform:translate(-100%,0);">75</div><div class="t" style="left:77px;top:475px;font-size:10px;transform:translate(-100%,0);">100</div><div class="t" style="left:77px;top:330px;font-size:10px;transform:translate(-100%,0);">200</div><div class="t" style="left:77px;top:246px;font-size:10px;transform:translate(-100%,0);">300</div><div class="t" style="left:77px;top:186px;font-size:10px;transform:translate(-100%,0);">400</div><div class="t" style="left:77px;top:139px;font-size:10px;transform:translate(-100%,0);">500</div><div class="t" style="left:77px;top:101px;font-size:10px;transform:translate(-100%,0);">600</div><div class="t" style="left:77px;top:54px;font-size:10px;transform:translate(-100%,0);">750</div><div class="t" style="left:380px;top:557px;font-size:10px;transform:translate(-50%,0);">Frequency [MHz]</div><div class="t" style="left:43px;top:300px;font-size:10px;transform:translate(-50%,-50%) rotate(-90deg);">Stationary phase Virtual Height [km]</div></div>
</body></html>
